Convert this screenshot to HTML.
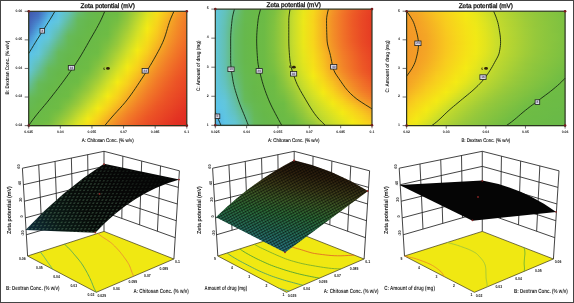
<!DOCTYPE html>
<html><head><meta charset="utf-8"><title>Zeta potential plots</title>
<style>html,body{margin:0;padding:0;background:#fff;}body{width:574px;height:303px;overflow:hidden;font-family:"Liberation Sans",sans-serif;}svg{display:block;will-change:transform;}text{text-rendering:geometricPrecision;-webkit-font-smoothing:antialiased;}</style>
</head><body>
<svg width="574" height="303" viewBox="0 0 574 303" font-family='"Liberation Sans", sans-serif'><defs><linearGradient id="g1"><stop offset="0.000" stop-color="#4158ad"/><stop offset="0.062" stop-color="#446bbd"/><stop offset="0.125" stop-color="#4da4de"/><stop offset="0.188" stop-color="#5dc5e4"/><stop offset="0.250" stop-color="#63c2bc"/><stop offset="0.312" stop-color="#65bc75"/><stop offset="0.375" stop-color="#66b952"/><stop offset="0.438" stop-color="#67b949"/><stop offset="0.500" stop-color="#6bba46"/><stop offset="0.562" stop-color="#6ebc44"/><stop offset="0.625" stop-color="#8ac53e"/><stop offset="0.688" stop-color="#afd233"/><stop offset="0.750" stop-color="#d9e223"/><stop offset="0.812" stop-color="#f5e017"/><stop offset="0.875" stop-color="#f7c120"/><stop offset="0.938" stop-color="#f49c26"/><stop offset="1.000" stop-color="#f28128"/></linearGradient><linearGradient id="g2"><stop offset="0.000" stop-color="#415aaf"/><stop offset="0.062" stop-color="#446fbf"/><stop offset="0.125" stop-color="#50aae0"/><stop offset="0.188" stop-color="#5ec5e2"/><stop offset="0.250" stop-color="#63c1b5"/><stop offset="0.312" stop-color="#65bb6d"/><stop offset="0.375" stop-color="#66b951"/><stop offset="0.438" stop-color="#68b949"/><stop offset="0.500" stop-color="#6bba46"/><stop offset="0.562" stop-color="#6ebc44"/><stop offset="0.625" stop-color="#8cc63d"/><stop offset="0.688" stop-color="#b3d432"/><stop offset="0.750" stop-color="#dde321"/><stop offset="0.812" stop-color="#f6dd18"/><stop offset="0.875" stop-color="#f7bd21"/><stop offset="0.938" stop-color="#f49926"/><stop offset="1.000" stop-color="#f27f28"/></linearGradient><linearGradient id="g3"><stop offset="0.000" stop-color="#415cb1"/><stop offset="0.062" stop-color="#4574c3"/><stop offset="0.125" stop-color="#52b1e3"/><stop offset="0.188" stop-color="#5fc5e0"/><stop offset="0.250" stop-color="#64c0ad"/><stop offset="0.312" stop-color="#66bb66"/><stop offset="0.375" stop-color="#66b950"/><stop offset="0.438" stop-color="#68b949"/><stop offset="0.500" stop-color="#6bbb46"/><stop offset="0.562" stop-color="#70bd44"/><stop offset="0.625" stop-color="#8fc73c"/><stop offset="0.688" stop-color="#b7d631"/><stop offset="0.750" stop-color="#e0e41f"/><stop offset="0.812" stop-color="#f6db19"/><stop offset="0.875" stop-color="#f6ba21"/><stop offset="0.938" stop-color="#f39727"/><stop offset="1.000" stop-color="#f27c28"/></linearGradient><linearGradient id="g4"><stop offset="0.000" stop-color="#425fb3"/><stop offset="0.062" stop-color="#467ac6"/><stop offset="0.125" stop-color="#55b7e6"/><stop offset="0.188" stop-color="#60c6de"/><stop offset="0.250" stop-color="#64bfa6"/><stop offset="0.312" stop-color="#66ba5e"/><stop offset="0.375" stop-color="#66b94f"/><stop offset="0.438" stop-color="#68b948"/><stop offset="0.500" stop-color="#6bbb46"/><stop offset="0.562" stop-color="#73bd43"/><stop offset="0.625" stop-color="#92c73c"/><stop offset="0.688" stop-color="#bbd730"/><stop offset="0.750" stop-color="#e4e51d"/><stop offset="0.812" stop-color="#f6d81a"/><stop offset="0.875" stop-color="#f6b622"/><stop offset="0.938" stop-color="#f39427"/><stop offset="1.000" stop-color="#f27a28"/></linearGradient><linearGradient id="g5"><stop offset="0.000" stop-color="#4261b5"/><stop offset="0.062" stop-color="#4782cb"/><stop offset="0.125" stop-color="#58bee9"/><stop offset="0.188" stop-color="#61c6dc"/><stop offset="0.250" stop-color="#64be9e"/><stop offset="0.312" stop-color="#66ba59"/><stop offset="0.375" stop-color="#66b84d"/><stop offset="0.438" stop-color="#69b948"/><stop offset="0.500" stop-color="#6cbb46"/><stop offset="0.562" stop-color="#75be42"/><stop offset="0.625" stop-color="#95c83b"/><stop offset="0.688" stop-color="#bed92e"/><stop offset="0.750" stop-color="#e7e61b"/><stop offset="0.812" stop-color="#f7d61b"/><stop offset="0.875" stop-color="#f6b323"/><stop offset="0.938" stop-color="#f39227"/><stop offset="1.000" stop-color="#f27928"/></linearGradient><linearGradient id="g6"><stop offset="0.000" stop-color="#4363b7"/><stop offset="0.062" stop-color="#498ad0"/><stop offset="0.125" stop-color="#5ac4ec"/><stop offset="0.188" stop-color="#62c6d8"/><stop offset="0.250" stop-color="#64bd96"/><stop offset="0.312" stop-color="#66ba58"/><stop offset="0.375" stop-color="#66b84c"/><stop offset="0.438" stop-color="#69b948"/><stop offset="0.500" stop-color="#6cbb45"/><stop offset="0.562" stop-color="#78bf42"/><stop offset="0.625" stop-color="#98c93b"/><stop offset="0.688" stop-color="#c2da2d"/><stop offset="0.750" stop-color="#ebe719"/><stop offset="0.812" stop-color="#f7d41b"/><stop offset="0.875" stop-color="#f5b023"/><stop offset="0.938" stop-color="#f39027"/><stop offset="1.000" stop-color="#f17728"/></linearGradient><linearGradient id="g7"><stop offset="0.000" stop-color="#4366b9"/><stop offset="0.062" stop-color="#4a93d5"/><stop offset="0.125" stop-color="#5bc4e9"/><stop offset="0.188" stop-color="#62c5d0"/><stop offset="0.250" stop-color="#65bd8d"/><stop offset="0.312" stop-color="#66ba57"/><stop offset="0.375" stop-color="#66b84b"/><stop offset="0.438" stop-color="#69ba48"/><stop offset="0.500" stop-color="#6cbb45"/><stop offset="0.562" stop-color="#7bc041"/><stop offset="0.625" stop-color="#9bca3a"/><stop offset="0.688" stop-color="#c6db2c"/><stop offset="0.750" stop-color="#eee817"/><stop offset="0.812" stop-color="#f7d21c"/><stop offset="0.875" stop-color="#f5ae24"/><stop offset="0.938" stop-color="#f38f27"/><stop offset="1.000" stop-color="#f17628"/></linearGradient><linearGradient id="g8"><stop offset="0.000" stop-color="#4368bb"/><stop offset="0.062" stop-color="#4b9cda"/><stop offset="0.125" stop-color="#5cc5e7"/><stop offset="0.188" stop-color="#63c4c8"/><stop offset="0.250" stop-color="#65bc85"/><stop offset="0.312" stop-color="#66b956"/><stop offset="0.375" stop-color="#66b84a"/><stop offset="0.438" stop-color="#6aba47"/><stop offset="0.500" stop-color="#6dbb45"/><stop offset="0.562" stop-color="#7ec140"/><stop offset="0.625" stop-color="#9fcc39"/><stop offset="0.688" stop-color="#c9dd2b"/><stop offset="0.750" stop-color="#f1e916"/><stop offset="0.812" stop-color="#f7d01d"/><stop offset="0.875" stop-color="#f5ab24"/><stop offset="0.938" stop-color="#f38d27"/><stop offset="1.000" stop-color="#f17528"/></linearGradient><linearGradient id="g9"><stop offset="0.000" stop-color="#446bbd"/><stop offset="0.062" stop-color="#4da4de"/><stop offset="0.125" stop-color="#5dc5e5"/><stop offset="0.188" stop-color="#63c2c0"/><stop offset="0.250" stop-color="#65bc7c"/><stop offset="0.312" stop-color="#66b954"/><stop offset="0.375" stop-color="#67b84a"/><stop offset="0.438" stop-color="#6aba47"/><stop offset="0.500" stop-color="#6dbb45"/><stop offset="0.562" stop-color="#81c240"/><stop offset="0.625" stop-color="#a2cd37"/><stop offset="0.688" stop-color="#ccde2a"/><stop offset="0.750" stop-color="#f4ea14"/><stop offset="0.812" stop-color="#f8ce1d"/><stop offset="0.875" stop-color="#f5a925"/><stop offset="0.938" stop-color="#f38b27"/><stop offset="1.000" stop-color="#f17428"/></linearGradient><linearGradient id="g10"><stop offset="0.000" stop-color="#456fc0"/><stop offset="0.062" stop-color="#50abe1"/><stop offset="0.125" stop-color="#5ec5e2"/><stop offset="0.188" stop-color="#63c1b8"/><stop offset="0.250" stop-color="#65bb73"/><stop offset="0.312" stop-color="#66b953"/><stop offset="0.375" stop-color="#67b949"/><stop offset="0.438" stop-color="#6aba47"/><stop offset="0.500" stop-color="#6dbc45"/><stop offset="0.562" stop-color="#84c33f"/><stop offset="0.625" stop-color="#a6cf36"/><stop offset="0.688" stop-color="#cfdf28"/><stop offset="0.750" stop-color="#f4e815"/><stop offset="0.812" stop-color="#f8cc1e"/><stop offset="0.875" stop-color="#f4a725"/><stop offset="0.938" stop-color="#f38a27"/><stop offset="1.000" stop-color="#f17328"/></linearGradient><linearGradient id="g11"><stop offset="0.000" stop-color="#4575c3"/><stop offset="0.062" stop-color="#53b2e4"/><stop offset="0.125" stop-color="#5fc5e0"/><stop offset="0.188" stop-color="#63c0b0"/><stop offset="0.250" stop-color="#66bb6a"/><stop offset="0.312" stop-color="#66b951"/><stop offset="0.375" stop-color="#67b949"/><stop offset="0.438" stop-color="#6bba46"/><stop offset="0.500" stop-color="#6ebc44"/><stop offset="0.562" stop-color="#87c43e"/><stop offset="0.625" stop-color="#aad035"/><stop offset="0.688" stop-color="#d3e026"/><stop offset="0.750" stop-color="#f5e615"/><stop offset="0.812" stop-color="#f8ca1e"/><stop offset="0.875" stop-color="#f4a426"/><stop offset="0.938" stop-color="#f38827"/><stop offset="1.000" stop-color="#f07127"/></linearGradient><linearGradient id="g12"><stop offset="0.000" stop-color="#467cc7"/><stop offset="0.062" stop-color="#56b9e7"/><stop offset="0.125" stop-color="#60c6de"/><stop offset="0.188" stop-color="#64bfa7"/><stop offset="0.250" stop-color="#66ba62"/><stop offset="0.312" stop-color="#66b950"/><stop offset="0.375" stop-color="#68b949"/><stop offset="0.438" stop-color="#6bba46"/><stop offset="0.500" stop-color="#6ebc44"/><stop offset="0.562" stop-color="#8ac53e"/><stop offset="0.625" stop-color="#aed234"/><stop offset="0.688" stop-color="#d6e125"/><stop offset="0.750" stop-color="#f5e316"/><stop offset="0.812" stop-color="#f8c71f"/><stop offset="0.875" stop-color="#f4a126"/><stop offset="0.938" stop-color="#f38727"/><stop offset="1.000" stop-color="#f07027"/></linearGradient><linearGradient id="g13"><stop offset="0.000" stop-color="#4885cc"/><stop offset="0.062" stop-color="#59c0ea"/><stop offset="0.125" stop-color="#61c6dc"/><stop offset="0.188" stop-color="#64be9f"/><stop offset="0.250" stop-color="#66ba5a"/><stop offset="0.312" stop-color="#66b94e"/><stop offset="0.375" stop-color="#68b948"/><stop offset="0.438" stop-color="#6bbb46"/><stop offset="0.500" stop-color="#70bd44"/><stop offset="0.562" stop-color="#8dc63d"/><stop offset="0.625" stop-color="#b2d332"/><stop offset="0.688" stop-color="#d9e223"/><stop offset="0.750" stop-color="#f5e117"/><stop offset="0.812" stop-color="#f7c51f"/><stop offset="0.875" stop-color="#f49f26"/><stop offset="0.938" stop-color="#f28528"/><stop offset="1.000" stop-color="#f06f27"/></linearGradient><linearGradient id="g14"><stop offset="0.000" stop-color="#498dd1"/><stop offset="0.062" stop-color="#5ac4eb"/><stop offset="0.125" stop-color="#62c6d7"/><stop offset="0.188" stop-color="#64bd97"/><stop offset="0.250" stop-color="#66ba59"/><stop offset="0.312" stop-color="#66b84d"/><stop offset="0.375" stop-color="#69b948"/><stop offset="0.438" stop-color="#6cbb46"/><stop offset="0.500" stop-color="#73bd43"/><stop offset="0.562" stop-color="#90c73c"/><stop offset="0.625" stop-color="#b5d531"/><stop offset="0.688" stop-color="#dde321"/><stop offset="0.750" stop-color="#f5df18"/><stop offset="0.812" stop-color="#f7c220"/><stop offset="0.875" stop-color="#f49e26"/><stop offset="0.938" stop-color="#f28328"/><stop offset="1.000" stop-color="#f06e27"/></linearGradient><linearGradient id="g15"><stop offset="0.000" stop-color="#4a96d6"/><stop offset="0.062" stop-color="#5bc4e9"/><stop offset="0.125" stop-color="#62c5cf"/><stop offset="0.188" stop-color="#65bd8e"/><stop offset="0.250" stop-color="#66ba57"/><stop offset="0.312" stop-color="#66b84b"/><stop offset="0.375" stop-color="#69ba48"/><stop offset="0.438" stop-color="#6cbb46"/><stop offset="0.500" stop-color="#76be42"/><stop offset="0.562" stop-color="#93c83c"/><stop offset="0.625" stop-color="#b9d730"/><stop offset="0.688" stop-color="#e0e41f"/><stop offset="0.750" stop-color="#f6dd18"/><stop offset="0.812" stop-color="#f7bf20"/><stop offset="0.875" stop-color="#f49b26"/><stop offset="0.938" stop-color="#f28128"/><stop offset="1.000" stop-color="#f06c27"/></linearGradient><linearGradient id="g16"><stop offset="0.000" stop-color="#4c9edb"/><stop offset="0.062" stop-color="#5cc5e6"/><stop offset="0.125" stop-color="#63c3c8"/><stop offset="0.188" stop-color="#65bc86"/><stop offset="0.250" stop-color="#66ba56"/><stop offset="0.312" stop-color="#66b84a"/><stop offset="0.375" stop-color="#69ba47"/><stop offset="0.438" stop-color="#6cbb45"/><stop offset="0.500" stop-color="#79bf42"/><stop offset="0.562" stop-color="#96c93b"/><stop offset="0.625" stop-color="#bdd82f"/><stop offset="0.688" stop-color="#e4e51d"/><stop offset="0.750" stop-color="#f6da19"/><stop offset="0.812" stop-color="#f6bc21"/><stop offset="0.875" stop-color="#f49926"/><stop offset="0.938" stop-color="#f27f28"/><stop offset="1.000" stop-color="#ef6a27"/></linearGradient><linearGradient id="g17"><stop offset="0.000" stop-color="#4ea5de"/><stop offset="0.062" stop-color="#5dc5e4"/><stop offset="0.125" stop-color="#63c2c0"/><stop offset="0.188" stop-color="#65bc7d"/><stop offset="0.250" stop-color="#66b955"/><stop offset="0.312" stop-color="#66b84a"/><stop offset="0.375" stop-color="#6aba47"/><stop offset="0.438" stop-color="#6dbb45"/><stop offset="0.500" stop-color="#7cc041"/><stop offset="0.562" stop-color="#99ca3a"/><stop offset="0.625" stop-color="#c2da2d"/><stop offset="0.688" stop-color="#e8e61b"/><stop offset="0.750" stop-color="#f6d81a"/><stop offset="0.812" stop-color="#f6b822"/><stop offset="0.875" stop-color="#f39727"/><stop offset="0.938" stop-color="#f27c28"/><stop offset="1.000" stop-color="#ef6927"/></linearGradient><linearGradient id="g18"><stop offset="0.000" stop-color="#51ace1"/><stop offset="0.062" stop-color="#5ec5e2"/><stop offset="0.125" stop-color="#63c1b8"/><stop offset="0.188" stop-color="#65bc75"/><stop offset="0.250" stop-color="#66b953"/><stop offset="0.312" stop-color="#67b849"/><stop offset="0.375" stop-color="#6aba47"/><stop offset="0.438" stop-color="#6dbb45"/><stop offset="0.500" stop-color="#7fc140"/><stop offset="0.562" stop-color="#9ecb39"/><stop offset="0.625" stop-color="#c6db2c"/><stop offset="0.688" stop-color="#ebe719"/><stop offset="0.750" stop-color="#f7d51b"/><stop offset="0.812" stop-color="#f6b522"/><stop offset="0.875" stop-color="#f39427"/><stop offset="0.938" stop-color="#f27a28"/><stop offset="1.000" stop-color="#ef6727"/></linearGradient><linearGradient id="g19"><stop offset="0.000" stop-color="#53b3e4"/><stop offset="0.062" stop-color="#5fc5e0"/><stop offset="0.125" stop-color="#63c0b0"/><stop offset="0.188" stop-color="#65bb6d"/><stop offset="0.250" stop-color="#66b952"/><stop offset="0.312" stop-color="#67b949"/><stop offset="0.375" stop-color="#6aba47"/><stop offset="0.438" stop-color="#6dbc45"/><stop offset="0.500" stop-color="#82c23f"/><stop offset="0.562" stop-color="#a2cd37"/><stop offset="0.625" stop-color="#cadd2b"/><stop offset="0.688" stop-color="#efe917"/><stop offset="0.750" stop-color="#f7d31c"/><stop offset="0.812" stop-color="#f5b123"/><stop offset="0.875" stop-color="#f39127"/><stop offset="0.938" stop-color="#f17828"/><stop offset="1.000" stop-color="#ee6527"/></linearGradient><linearGradient id="g20"><stop offset="0.000" stop-color="#56b9e7"/><stop offset="0.062" stop-color="#60c6de"/><stop offset="0.125" stop-color="#64bfa9"/><stop offset="0.188" stop-color="#66bb64"/><stop offset="0.250" stop-color="#66b950"/><stop offset="0.312" stop-color="#68b949"/><stop offset="0.375" stop-color="#6bba46"/><stop offset="0.438" stop-color="#6ebc44"/><stop offset="0.500" stop-color="#86c43f"/><stop offset="0.562" stop-color="#a6cf36"/><stop offset="0.625" stop-color="#cedf29"/><stop offset="0.688" stop-color="#f4ea14"/><stop offset="0.750" stop-color="#f7d01d"/><stop offset="0.812" stop-color="#f5ad24"/><stop offset="0.875" stop-color="#f38f27"/><stop offset="0.938" stop-color="#f17628"/><stop offset="1.000" stop-color="#ee6327"/></linearGradient><linearGradient id="g21"><stop offset="0.000" stop-color="#58c0ea"/><stop offset="0.062" stop-color="#61c6dc"/><stop offset="0.125" stop-color="#64bea1"/><stop offset="0.188" stop-color="#66ba5c"/><stop offset="0.250" stop-color="#66b94f"/><stop offset="0.312" stop-color="#68b948"/><stop offset="0.375" stop-color="#6bbb46"/><stop offset="0.438" stop-color="#6ebc44"/><stop offset="0.500" stop-color="#89c53e"/><stop offset="0.562" stop-color="#abd135"/><stop offset="0.625" stop-color="#d2e027"/><stop offset="0.688" stop-color="#f4e715"/><stop offset="0.750" stop-color="#f8cd1e"/><stop offset="0.812" stop-color="#f5a925"/><stop offset="0.875" stop-color="#f38c27"/><stop offset="0.938" stop-color="#f17428"/><stop offset="1.000" stop-color="#ee6027"/></linearGradient><linearGradient id="g22"><stop offset="0.000" stop-color="#5ac4eb"/><stop offset="0.062" stop-color="#62c6d9"/><stop offset="0.125" stop-color="#64be99"/><stop offset="0.188" stop-color="#66ba59"/><stop offset="0.250" stop-color="#66b84d"/><stop offset="0.312" stop-color="#68b948"/><stop offset="0.375" stop-color="#6bbb46"/><stop offset="0.438" stop-color="#70bd44"/><stop offset="0.500" stop-color="#8dc63d"/><stop offset="0.562" stop-color="#b0d333"/><stop offset="0.625" stop-color="#d6e124"/><stop offset="0.688" stop-color="#f5e416"/><stop offset="0.750" stop-color="#f8c91f"/><stop offset="0.812" stop-color="#f4a526"/><stop offset="0.875" stop-color="#f38927"/><stop offset="0.938" stop-color="#f07227"/><stop offset="1.000" stop-color="#ee5e27"/></linearGradient><linearGradient id="g23"><stop offset="0.000" stop-color="#5bc4e9"/><stop offset="0.062" stop-color="#62c5d1"/><stop offset="0.125" stop-color="#64bd90"/><stop offset="0.188" stop-color="#66ba58"/><stop offset="0.250" stop-color="#66b84c"/><stop offset="0.312" stop-color="#69b948"/><stop offset="0.375" stop-color="#6cbb46"/><stop offset="0.438" stop-color="#73be43"/><stop offset="0.500" stop-color="#90c73c"/><stop offset="0.562" stop-color="#b4d532"/><stop offset="0.625" stop-color="#dbe222"/><stop offset="0.688" stop-color="#f5e117"/><stop offset="0.750" stop-color="#f7c51f"/><stop offset="0.812" stop-color="#f4a026"/><stop offset="0.875" stop-color="#f38627"/><stop offset="0.938" stop-color="#f07027"/><stop offset="1.000" stop-color="#ed5c26"/></linearGradient><linearGradient id="g24"><stop offset="0.000" stop-color="#5cc5e7"/><stop offset="0.062" stop-color="#63c4c9"/><stop offset="0.125" stop-color="#65bd88"/><stop offset="0.188" stop-color="#66ba56"/><stop offset="0.250" stop-color="#66b84a"/><stop offset="0.312" stop-color="#69ba48"/><stop offset="0.375" stop-color="#6cbb45"/><stop offset="0.438" stop-color="#76bf42"/><stop offset="0.500" stop-color="#94c83b"/><stop offset="0.562" stop-color="#b9d630"/><stop offset="0.625" stop-color="#dfe41f"/><stop offset="0.688" stop-color="#f6de18"/><stop offset="0.750" stop-color="#f7c120"/><stop offset="0.812" stop-color="#f49d26"/><stop offset="0.875" stop-color="#f28328"/><stop offset="0.938" stop-color="#f06d27"/><stop offset="1.000" stop-color="#ed5a26"/></linearGradient><linearGradient id="g25"><stop offset="0.000" stop-color="#5dc5e5"/><stop offset="0.062" stop-color="#63c3c2"/><stop offset="0.125" stop-color="#65bc7f"/><stop offset="0.188" stop-color="#66b955"/><stop offset="0.250" stop-color="#66b84a"/><stop offset="0.312" stop-color="#6aba47"/><stop offset="0.375" stop-color="#6cbb45"/><stop offset="0.438" stop-color="#7ac041"/><stop offset="0.500" stop-color="#97c93b"/><stop offset="0.562" stop-color="#bed82f"/><stop offset="0.625" stop-color="#e4e51d"/><stop offset="0.688" stop-color="#f6db19"/><stop offset="0.750" stop-color="#f7bd21"/><stop offset="0.812" stop-color="#f49a26"/><stop offset="0.875" stop-color="#f28028"/><stop offset="0.938" stop-color="#ef6b27"/><stop offset="1.000" stop-color="#ed5826"/></linearGradient><linearGradient id="g26"><stop offset="0.000" stop-color="#5ec5e3"/><stop offset="0.062" stop-color="#63c2ba"/><stop offset="0.125" stop-color="#65bc77"/><stop offset="0.188" stop-color="#66b954"/><stop offset="0.250" stop-color="#67b849"/><stop offset="0.312" stop-color="#6aba47"/><stop offset="0.375" stop-color="#6dbb45"/><stop offset="0.438" stop-color="#7ec140"/><stop offset="0.500" stop-color="#9bca3a"/><stop offset="0.562" stop-color="#c3da2d"/><stop offset="0.625" stop-color="#e8e61a"/><stop offset="0.688" stop-color="#f6d81a"/><stop offset="0.750" stop-color="#f6b922"/><stop offset="0.812" stop-color="#f39727"/><stop offset="0.875" stop-color="#f27d28"/><stop offset="0.938" stop-color="#ef6927"/><stop offset="1.000" stop-color="#ec5626"/></linearGradient><linearGradient id="g27"><stop offset="0.000" stop-color="#5fc5e0"/><stop offset="0.062" stop-color="#63c0b2"/><stop offset="0.125" stop-color="#65bb6e"/><stop offset="0.188" stop-color="#66b952"/><stop offset="0.250" stop-color="#67b949"/><stop offset="0.312" stop-color="#6aba47"/><stop offset="0.375" stop-color="#6dbc45"/><stop offset="0.438" stop-color="#81c240"/><stop offset="0.500" stop-color="#a0cc38"/><stop offset="0.562" stop-color="#c7dc2b"/><stop offset="0.625" stop-color="#ede818"/><stop offset="0.688" stop-color="#f7d51b"/><stop offset="0.750" stop-color="#f6b422"/><stop offset="0.812" stop-color="#f39427"/><stop offset="0.875" stop-color="#f27a28"/><stop offset="0.938" stop-color="#ef6627"/><stop offset="1.000" stop-color="#ec5426"/></linearGradient><linearGradient id="g28"><stop offset="0.000" stop-color="#60c6de"/><stop offset="0.062" stop-color="#64bfaa"/><stop offset="0.125" stop-color="#66bb65"/><stop offset="0.188" stop-color="#66b950"/><stop offset="0.250" stop-color="#68b949"/><stop offset="0.312" stop-color="#6bba46"/><stop offset="0.375" stop-color="#6ebc44"/><stop offset="0.438" stop-color="#85c33f"/><stop offset="0.500" stop-color="#a5cf36"/><stop offset="0.562" stop-color="#ccde2a"/><stop offset="0.625" stop-color="#f2e915"/><stop offset="0.688" stop-color="#f7d21c"/><stop offset="0.750" stop-color="#f5b023"/><stop offset="0.812" stop-color="#f39127"/><stop offset="0.875" stop-color="#f17828"/><stop offset="0.938" stop-color="#ee6427"/><stop offset="1.000" stop-color="#ec5326"/></linearGradient><linearGradient id="g29"><stop offset="0.000" stop-color="#61c6dc"/><stop offset="0.062" stop-color="#64bea2"/><stop offset="0.125" stop-color="#66ba5c"/><stop offset="0.188" stop-color="#66b94f"/><stop offset="0.250" stop-color="#68b948"/><stop offset="0.312" stop-color="#6bbb46"/><stop offset="0.375" stop-color="#6ebc44"/><stop offset="0.438" stop-color="#89c53e"/><stop offset="0.500" stop-color="#abd135"/><stop offset="0.562" stop-color="#d1e027"/><stop offset="0.625" stop-color="#f4e815"/><stop offset="0.688" stop-color="#f8ce1d"/><stop offset="0.750" stop-color="#f5ac24"/><stop offset="0.812" stop-color="#f38d27"/><stop offset="0.875" stop-color="#f17528"/><stop offset="0.938" stop-color="#ee6227"/><stop offset="1.000" stop-color="#eb5226"/></linearGradient><linearGradient id="g30"><stop offset="0.000" stop-color="#62c6da"/><stop offset="0.062" stop-color="#64be99"/><stop offset="0.125" stop-color="#66ba59"/><stop offset="0.188" stop-color="#66b84d"/><stop offset="0.250" stop-color="#69b948"/><stop offset="0.312" stop-color="#6cbb46"/><stop offset="0.375" stop-color="#71bd43"/><stop offset="0.438" stop-color="#8dc63d"/><stop offset="0.500" stop-color="#b0d333"/><stop offset="0.562" stop-color="#d6e124"/><stop offset="0.625" stop-color="#f5e516"/><stop offset="0.688" stop-color="#f8cb1e"/><stop offset="0.750" stop-color="#f4a725"/><stop offset="0.812" stop-color="#f38a27"/><stop offset="0.875" stop-color="#f17328"/><stop offset="0.938" stop-color="#ee5f27"/><stop offset="1.000" stop-color="#eb5026"/></linearGradient><linearGradient id="g31"><stop offset="0.000" stop-color="#62c5d2"/><stop offset="0.062" stop-color="#64bd90"/><stop offset="0.125" stop-color="#66ba57"/><stop offset="0.188" stop-color="#66b84b"/><stop offset="0.250" stop-color="#69ba48"/><stop offset="0.312" stop-color="#6cbb46"/><stop offset="0.375" stop-color="#74be43"/><stop offset="0.438" stop-color="#91c73c"/><stop offset="0.500" stop-color="#b5d531"/><stop offset="0.562" stop-color="#dbe322"/><stop offset="0.625" stop-color="#f5e117"/><stop offset="0.688" stop-color="#f7c61f"/><stop offset="0.750" stop-color="#f4a126"/><stop offset="0.812" stop-color="#f38727"/><stop offset="0.875" stop-color="#f07027"/><stop offset="0.938" stop-color="#ed5d26"/><stop offset="1.000" stop-color="#eb4f25"/></linearGradient><linearGradient id="g32"><stop offset="0.000" stop-color="#63c4ca"/><stop offset="0.062" stop-color="#65bd86"/><stop offset="0.125" stop-color="#66b956"/><stop offset="0.188" stop-color="#66b84a"/><stop offset="0.250" stop-color="#6aba47"/><stop offset="0.312" stop-color="#6cbb45"/><stop offset="0.375" stop-color="#78bf42"/><stop offset="0.438" stop-color="#95c83b"/><stop offset="0.500" stop-color="#bbd730"/><stop offset="0.562" stop-color="#e0e41f"/><stop offset="0.625" stop-color="#f6de18"/><stop offset="0.688" stop-color="#f7c120"/><stop offset="0.750" stop-color="#f49e26"/><stop offset="0.812" stop-color="#f28328"/><stop offset="0.875" stop-color="#f06e27"/><stop offset="0.938" stop-color="#ed5b26"/><stop offset="1.000" stop-color="#ea4d25"/></linearGradient><linearGradient id="g33"><stop offset="0.000" stop-color="#63c3c1"/><stop offset="0.062" stop-color="#65bc7d"/><stop offset="0.125" stop-color="#66b954"/><stop offset="0.188" stop-color="#67b84a"/><stop offset="0.250" stop-color="#6aba47"/><stop offset="0.312" stop-color="#6dbb45"/><stop offset="0.375" stop-color="#7cc141"/><stop offset="0.438" stop-color="#99ca3a"/><stop offset="0.500" stop-color="#c0d92e"/><stop offset="0.562" stop-color="#e5e61c"/><stop offset="0.625" stop-color="#f6da19"/><stop offset="0.688" stop-color="#f7bd21"/><stop offset="0.750" stop-color="#f49a26"/><stop offset="0.812" stop-color="#f28028"/><stop offset="0.875" stop-color="#ef6b27"/><stop offset="0.938" stop-color="#ed5826"/><stop offset="1.000" stop-color="#ea4c25"/></linearGradient><linearGradient id="g34"><stop offset="0.000" stop-color="#63c1b9"/><stop offset="0.062" stop-color="#65bb73"/><stop offset="0.125" stop-color="#66b953"/><stop offset="0.188" stop-color="#67b949"/><stop offset="0.250" stop-color="#6aba47"/><stop offset="0.312" stop-color="#6dbc45"/><stop offset="0.375" stop-color="#80c240"/><stop offset="0.438" stop-color="#9ecc39"/><stop offset="0.500" stop-color="#c5db2c"/><stop offset="0.562" stop-color="#eae719"/><stop offset="0.625" stop-color="#f7d71a"/><stop offset="0.688" stop-color="#f6b822"/><stop offset="0.750" stop-color="#f39727"/><stop offset="0.812" stop-color="#f27c28"/><stop offset="0.875" stop-color="#ef6827"/><stop offset="0.938" stop-color="#ec5626"/><stop offset="1.000" stop-color="#e94a25"/></linearGradient><linearGradient id="g35"><stop offset="0.000" stop-color="#63c0b0"/><stop offset="0.062" stop-color="#66bb6a"/><stop offset="0.125" stop-color="#66b951"/><stop offset="0.188" stop-color="#68b949"/><stop offset="0.250" stop-color="#6bba46"/><stop offset="0.312" stop-color="#6dbc44"/><stop offset="0.375" stop-color="#85c33f"/><stop offset="0.438" stop-color="#a4ce37"/><stop offset="0.500" stop-color="#cbdd2a"/><stop offset="0.562" stop-color="#efe917"/><stop offset="0.625" stop-color="#f7d31c"/><stop offset="0.688" stop-color="#f6b323"/><stop offset="0.750" stop-color="#f39327"/><stop offset="0.812" stop-color="#f27928"/><stop offset="0.875" stop-color="#ef6627"/><stop offset="0.938" stop-color="#ec5426"/><stop offset="1.000" stop-color="#e94925"/></linearGradient><linearGradient id="g36"><stop offset="0.000" stop-color="#64bfa8"/><stop offset="0.062" stop-color="#66ba60"/><stop offset="0.125" stop-color="#66b94f"/><stop offset="0.188" stop-color="#68b948"/><stop offset="0.250" stop-color="#6bbb46"/><stop offset="0.312" stop-color="#6ebc44"/><stop offset="0.375" stop-color="#89c53e"/><stop offset="0.438" stop-color="#a9d035"/><stop offset="0.500" stop-color="#d0df28"/><stop offset="0.562" stop-color="#f4ea14"/><stop offset="0.625" stop-color="#f7d01d"/><stop offset="0.688" stop-color="#f5af24"/><stop offset="0.750" stop-color="#f39027"/><stop offset="0.812" stop-color="#f17728"/><stop offset="0.875" stop-color="#ee6327"/><stop offset="0.938" stop-color="#ec5226"/><stop offset="1.000" stop-color="#e94725"/></linearGradient><linearGradient id="g37"><stop offset="0.000" stop-color="#64be9f"/><stop offset="0.062" stop-color="#66ba59"/><stop offset="0.125" stop-color="#66b84d"/><stop offset="0.188" stop-color="#69b948"/><stop offset="0.250" stop-color="#6cbb46"/><stop offset="0.312" stop-color="#71bd43"/><stop offset="0.375" stop-color="#8dc63d"/><stop offset="0.438" stop-color="#afd233"/><stop offset="0.500" stop-color="#d5e125"/><stop offset="0.562" stop-color="#f5e615"/><stop offset="0.625" stop-color="#f8cd1e"/><stop offset="0.688" stop-color="#f5aa25"/><stop offset="0.750" stop-color="#f38c27"/><stop offset="0.812" stop-color="#f17428"/><stop offset="0.875" stop-color="#ee6127"/><stop offset="0.938" stop-color="#eb5126"/><stop offset="1.000" stop-color="#e84625"/></linearGradient><linearGradient id="g38"><stop offset="0.000" stop-color="#64bd95"/><stop offset="0.062" stop-color="#66ba58"/><stop offset="0.125" stop-color="#66b84b"/><stop offset="0.188" stop-color="#69ba48"/><stop offset="0.250" stop-color="#6cbb46"/><stop offset="0.312" stop-color="#75be42"/><stop offset="0.375" stop-color="#91c73c"/><stop offset="0.438" stop-color="#b5d531"/><stop offset="0.500" stop-color="#dae222"/><stop offset="0.562" stop-color="#f5e217"/><stop offset="0.625" stop-color="#f8c81f"/><stop offset="0.688" stop-color="#f4a426"/><stop offset="0.750" stop-color="#f38827"/><stop offset="0.812" stop-color="#f07227"/><stop offset="0.875" stop-color="#ee5e27"/><stop offset="0.938" stop-color="#eb5026"/><stop offset="1.000" stop-color="#e84524"/></linearGradient><linearGradient id="g39"><stop offset="0.000" stop-color="#65bd8b"/><stop offset="0.062" stop-color="#66ba56"/><stop offset="0.125" stop-color="#66b84a"/><stop offset="0.188" stop-color="#6aba47"/><stop offset="0.250" stop-color="#6cbb45"/><stop offset="0.312" stop-color="#79bf42"/><stop offset="0.375" stop-color="#95c83b"/><stop offset="0.438" stop-color="#bad730"/><stop offset="0.500" stop-color="#dfe41f"/><stop offset="0.562" stop-color="#f6df18"/><stop offset="0.625" stop-color="#f7c320"/><stop offset="0.688" stop-color="#f49f26"/><stop offset="0.750" stop-color="#f28528"/><stop offset="0.812" stop-color="#f06f27"/><stop offset="0.875" stop-color="#ed5c26"/><stop offset="0.938" stop-color="#ea4e25"/><stop offset="1.000" stop-color="#e84324"/></linearGradient><linearGradient id="g40"><stop offset="0.000" stop-color="#65bc80"/><stop offset="0.062" stop-color="#66b955"/><stop offset="0.125" stop-color="#67b849"/><stop offset="0.188" stop-color="#6aba47"/><stop offset="0.250" stop-color="#6dbb45"/><stop offset="0.312" stop-color="#7dc141"/><stop offset="0.375" stop-color="#99ca3a"/><stop offset="0.438" stop-color="#c0d92e"/><stop offset="0.500" stop-color="#e4e51d"/><stop offset="0.562" stop-color="#f6db19"/><stop offset="0.625" stop-color="#f7be21"/><stop offset="0.688" stop-color="#f49c26"/><stop offset="0.750" stop-color="#f28128"/><stop offset="0.812" stop-color="#f06c27"/><stop offset="0.875" stop-color="#ed5a26"/><stop offset="0.938" stop-color="#ea4d25"/><stop offset="1.000" stop-color="#e74224"/></linearGradient><linearGradient id="g41"><stop offset="0.000" stop-color="#65bc76"/><stop offset="0.062" stop-color="#66b953"/><stop offset="0.125" stop-color="#67b949"/><stop offset="0.188" stop-color="#6bba47"/><stop offset="0.250" stop-color="#6dbc45"/><stop offset="0.312" stop-color="#81c240"/><stop offset="0.375" stop-color="#9fcc38"/><stop offset="0.438" stop-color="#c5db2c"/><stop offset="0.500" stop-color="#eae71a"/><stop offset="0.562" stop-color="#f6d81a"/><stop offset="0.625" stop-color="#f6b922"/><stop offset="0.688" stop-color="#f39827"/><stop offset="0.750" stop-color="#f27e28"/><stop offset="0.812" stop-color="#ef6a27"/><stop offset="0.875" stop-color="#ec5726"/><stop offset="0.938" stop-color="#ea4b25"/><stop offset="1.000" stop-color="#e74024"/></linearGradient><linearGradient id="g42"><stop offset="0.000" stop-color="#66bb6b"/><stop offset="0.062" stop-color="#66b951"/><stop offset="0.125" stop-color="#68b949"/><stop offset="0.188" stop-color="#6bba46"/><stop offset="0.250" stop-color="#6ebc44"/><stop offset="0.312" stop-color="#86c43f"/><stop offset="0.375" stop-color="#a5ce37"/><stop offset="0.438" stop-color="#cbde2a"/><stop offset="0.500" stop-color="#efe917"/><stop offset="0.562" stop-color="#f7d41b"/><stop offset="0.625" stop-color="#f6b422"/><stop offset="0.688" stop-color="#f39427"/><stop offset="0.750" stop-color="#f27a28"/><stop offset="0.812" stop-color="#ef6727"/><stop offset="0.875" stop-color="#ec5526"/><stop offset="0.938" stop-color="#e94925"/><stop offset="1.000" stop-color="#e63e24"/></linearGradient><linearGradient id="g43"><stop offset="0.000" stop-color="#66ba61"/><stop offset="0.062" stop-color="#66b94f"/><stop offset="0.125" stop-color="#68b948"/><stop offset="0.188" stop-color="#6bbb46"/><stop offset="0.250" stop-color="#6ebc44"/><stop offset="0.312" stop-color="#8ac53e"/><stop offset="0.375" stop-color="#abd135"/><stop offset="0.438" stop-color="#d0df28"/><stop offset="0.500" stop-color="#f4ea14"/><stop offset="0.562" stop-color="#f7d01d"/><stop offset="0.625" stop-color="#f5af23"/><stop offset="0.688" stop-color="#f39027"/><stop offset="0.750" stop-color="#f17728"/><stop offset="0.812" stop-color="#ee6427"/><stop offset="0.875" stop-color="#ec5326"/><stop offset="0.938" stop-color="#e94825"/><stop offset="1.000" stop-color="#e63d24"/></linearGradient><linearGradient id="g44"><stop offset="0.000" stop-color="#66ba59"/><stop offset="0.062" stop-color="#66b84d"/><stop offset="0.125" stop-color="#69b948"/><stop offset="0.188" stop-color="#6cbb46"/><stop offset="0.250" stop-color="#73bd43"/><stop offset="0.312" stop-color="#8ec63d"/><stop offset="0.375" stop-color="#b1d333"/><stop offset="0.438" stop-color="#d6e125"/><stop offset="0.500" stop-color="#f5e516"/><stop offset="0.562" stop-color="#f8cd1e"/><stop offset="0.625" stop-color="#f5aa24"/><stop offset="0.688" stop-color="#f38c27"/><stop offset="0.750" stop-color="#f17428"/><stop offset="0.812" stop-color="#ee6127"/><stop offset="0.875" stop-color="#eb5126"/><stop offset="0.938" stop-color="#e84625"/><stop offset="1.000" stop-color="#e53b23"/></linearGradient><linearGradient id="g45"><stop offset="0.000" stop-color="#66ba58"/><stop offset="0.062" stop-color="#66b84b"/><stop offset="0.125" stop-color="#6aba47"/><stop offset="0.188" stop-color="#6cbb45"/><stop offset="0.250" stop-color="#77bf42"/><stop offset="0.312" stop-color="#93c83c"/><stop offset="0.375" stop-color="#b7d631"/><stop offset="0.438" stop-color="#dce321"/><stop offset="0.500" stop-color="#f5e117"/><stop offset="0.562" stop-color="#f8c71f"/><stop offset="0.625" stop-color="#f4a426"/><stop offset="0.688" stop-color="#f38827"/><stop offset="0.750" stop-color="#f07127"/><stop offset="0.812" stop-color="#ee5e27"/><stop offset="0.875" stop-color="#eb4f26"/><stop offset="0.938" stop-color="#e84424"/><stop offset="1.000" stop-color="#e53923"/></linearGradient><linearGradient id="g46"><stop offset="0.000" stop-color="#66b956"/><stop offset="0.062" stop-color="#66b84a"/><stop offset="0.125" stop-color="#6aba47"/><stop offset="0.188" stop-color="#6dbb45"/><stop offset="0.250" stop-color="#7bc041"/><stop offset="0.312" stop-color="#98c93b"/><stop offset="0.375" stop-color="#bdd82f"/><stop offset="0.438" stop-color="#e2e41e"/><stop offset="0.500" stop-color="#f6dd18"/><stop offset="0.562" stop-color="#f7c220"/><stop offset="0.625" stop-color="#f49e26"/><stop offset="0.688" stop-color="#f28428"/><stop offset="0.750" stop-color="#f06e27"/><stop offset="0.812" stop-color="#ed5b26"/><stop offset="0.875" stop-color="#ea4e25"/><stop offset="0.938" stop-color="#e74324"/><stop offset="1.000" stop-color="#e53823"/></linearGradient><linearGradient id="g47"><stop offset="0.000" stop-color="#66b954"/><stop offset="0.062" stop-color="#67b949"/><stop offset="0.125" stop-color="#6aba47"/><stop offset="0.188" stop-color="#6dbc45"/><stop offset="0.250" stop-color="#80c240"/><stop offset="0.312" stop-color="#9dcb39"/><stop offset="0.375" stop-color="#c4db2d"/><stop offset="0.438" stop-color="#e8e61b"/><stop offset="0.500" stop-color="#f6d91a"/><stop offset="0.562" stop-color="#f6bc21"/><stop offset="0.625" stop-color="#f49a26"/><stop offset="0.688" stop-color="#f27f28"/><stop offset="0.750" stop-color="#ef6b27"/><stop offset="0.812" stop-color="#ed5826"/><stop offset="0.875" stop-color="#ea4c25"/><stop offset="0.938" stop-color="#e74124"/><stop offset="1.000" stop-color="#e43623"/></linearGradient><linearGradient id="g48"><stop offset="0.000" stop-color="#66b952"/><stop offset="0.062" stop-color="#68b949"/><stop offset="0.125" stop-color="#6bba46"/><stop offset="0.188" stop-color="#6ebc44"/><stop offset="0.250" stop-color="#85c33f"/><stop offset="0.312" stop-color="#a4ce37"/><stop offset="0.375" stop-color="#cadd2b"/><stop offset="0.438" stop-color="#eee817"/><stop offset="0.500" stop-color="#f7d51b"/><stop offset="0.562" stop-color="#f6b622"/><stop offset="0.625" stop-color="#f39527"/><stop offset="0.688" stop-color="#f27b28"/><stop offset="0.750" stop-color="#ef6727"/><stop offset="0.812" stop-color="#ec5526"/><stop offset="0.875" stop-color="#e94a25"/><stop offset="0.938" stop-color="#e63f24"/><stop offset="1.000" stop-color="#e43423"/></linearGradient><linearGradient id="g49"><stop offset="0.000" stop-color="#66b950"/><stop offset="0.062" stop-color="#68b948"/><stop offset="0.125" stop-color="#6bbb46"/><stop offset="0.188" stop-color="#6ebc44"/><stop offset="0.250" stop-color="#8ac53e"/><stop offset="0.312" stop-color="#abd135"/><stop offset="0.375" stop-color="#d0df28"/><stop offset="0.438" stop-color="#f4ea14"/><stop offset="0.500" stop-color="#f7d01d"/><stop offset="0.562" stop-color="#f5af23"/><stop offset="0.625" stop-color="#f39027"/><stop offset="0.688" stop-color="#f17728"/><stop offset="0.750" stop-color="#ee6427"/><stop offset="0.812" stop-color="#ec5326"/><stop offset="0.875" stop-color="#e94825"/><stop offset="0.938" stop-color="#e63d24"/><stop offset="1.000" stop-color="#e33222"/></linearGradient><linearGradient id="g50"><stop offset="0.000" stop-color="#66b84d"/><stop offset="0.062" stop-color="#69b948"/><stop offset="0.125" stop-color="#6cbb46"/><stop offset="0.188" stop-color="#73be43"/><stop offset="0.250" stop-color="#8fc63d"/><stop offset="0.312" stop-color="#b2d332"/><stop offset="0.375" stop-color="#d7e124"/><stop offset="0.438" stop-color="#f5e516"/><stop offset="0.500" stop-color="#f8cb1e"/><stop offset="0.562" stop-color="#f5a925"/><stop offset="0.625" stop-color="#f38b27"/><stop offset="0.688" stop-color="#f17428"/><stop offset="0.750" stop-color="#ee6027"/><stop offset="0.812" stop-color="#eb5126"/><stop offset="0.875" stop-color="#e84624"/><stop offset="0.938" stop-color="#e53b23"/><stop offset="1.000" stop-color="#e33022"/></linearGradient><linearGradient id="g51"><stop offset="0.000" stop-color="#66b84b"/><stop offset="0.062" stop-color="#6aba47"/><stop offset="0.125" stop-color="#6cbb45"/><stop offset="0.188" stop-color="#78bf42"/><stop offset="0.250" stop-color="#94c83b"/><stop offset="0.312" stop-color="#b8d630"/><stop offset="0.375" stop-color="#dde320"/><stop offset="0.438" stop-color="#f5e017"/><stop offset="0.500" stop-color="#f7c51f"/><stop offset="0.562" stop-color="#f4a126"/><stop offset="0.625" stop-color="#f38627"/><stop offset="0.688" stop-color="#f07027"/><stop offset="0.750" stop-color="#ed5d26"/><stop offset="0.812" stop-color="#eb4f25"/><stop offset="0.875" stop-color="#e84424"/><stop offset="0.938" stop-color="#e53923"/><stop offset="1.000" stop-color="#e22f22"/></linearGradient><linearGradient id="g52"><stop offset="0.000" stop-color="#66b84a"/><stop offset="0.062" stop-color="#6aba47"/><stop offset="0.125" stop-color="#6dbb45"/><stop offset="0.188" stop-color="#7cc141"/><stop offset="0.250" stop-color="#99ca3a"/><stop offset="0.312" stop-color="#bfd92e"/><stop offset="0.375" stop-color="#e4e51d"/><stop offset="0.438" stop-color="#f6db19"/><stop offset="0.500" stop-color="#f7bf21"/><stop offset="0.562" stop-color="#f49c26"/><stop offset="0.625" stop-color="#f28128"/><stop offset="0.688" stop-color="#f06c27"/><stop offset="0.750" stop-color="#ed5a26"/><stop offset="0.812" stop-color="#ea4d25"/><stop offset="0.875" stop-color="#e74224"/><stop offset="0.938" stop-color="#e43723"/><stop offset="1.000" stop-color="#e22e22"/></linearGradient><linearGradient id="g53"><stop offset="0.000" stop-color="#67b849"/><stop offset="0.062" stop-color="#6aba47"/><stop offset="0.125" stop-color="#6dbc45"/><stop offset="0.188" stop-color="#81c240"/><stop offset="0.250" stop-color="#9fcc38"/><stop offset="0.312" stop-color="#c6db2c"/><stop offset="0.375" stop-color="#eae719"/><stop offset="0.438" stop-color="#f7d71a"/><stop offset="0.500" stop-color="#f6b822"/><stop offset="0.562" stop-color="#f39727"/><stop offset="0.625" stop-color="#f27d28"/><stop offset="0.688" stop-color="#ef6927"/><stop offset="0.750" stop-color="#ec5626"/><stop offset="0.812" stop-color="#ea4b25"/><stop offset="0.875" stop-color="#e74024"/><stop offset="0.938" stop-color="#e43523"/><stop offset="1.000" stop-color="#e22e22"/></linearGradient><linearGradient id="g54"><stop offset="0.000" stop-color="#68b949"/><stop offset="0.062" stop-color="#6bba46"/><stop offset="0.125" stop-color="#6ebc44"/><stop offset="0.188" stop-color="#86c43f"/><stop offset="0.250" stop-color="#a5cf36"/><stop offset="0.312" stop-color="#ccde2a"/><stop offset="0.375" stop-color="#f1e916"/><stop offset="0.438" stop-color="#f7d31c"/><stop offset="0.500" stop-color="#f6b223"/><stop offset="0.562" stop-color="#f39227"/><stop offset="0.625" stop-color="#f27928"/><stop offset="0.688" stop-color="#ef6527"/><stop offset="0.750" stop-color="#ec5426"/><stop offset="0.812" stop-color="#e94925"/><stop offset="0.875" stop-color="#e63e24"/><stop offset="0.938" stop-color="#e33322"/><stop offset="1.000" stop-color="#e22d22"/></linearGradient><linearGradient id="g55"><stop offset="0.000" stop-color="#68b948"/><stop offset="0.062" stop-color="#6bbb46"/><stop offset="0.125" stop-color="#6ebc44"/><stop offset="0.188" stop-color="#8ac53e"/><stop offset="0.250" stop-color="#acd134"/><stop offset="0.312" stop-color="#d2e027"/><stop offset="0.375" stop-color="#f4e815"/><stop offset="0.438" stop-color="#f8ce1d"/><stop offset="0.500" stop-color="#f5ac24"/><stop offset="0.562" stop-color="#f38e27"/><stop offset="0.625" stop-color="#f17628"/><stop offset="0.688" stop-color="#ee6227"/><stop offset="0.750" stop-color="#eb5226"/><stop offset="0.812" stop-color="#e94725"/><stop offset="0.875" stop-color="#e63c23"/><stop offset="0.938" stop-color="#e33122"/><stop offset="1.000" stop-color="#e22d22"/></linearGradient><linearGradient id="g56"><stop offset="0.000" stop-color="#69b948"/><stop offset="0.062" stop-color="#6cbb46"/><stop offset="0.125" stop-color="#72bd43"/><stop offset="0.188" stop-color="#8fc63d"/><stop offset="0.250" stop-color="#b2d432"/><stop offset="0.312" stop-color="#d8e224"/><stop offset="0.375" stop-color="#f5e416"/><stop offset="0.438" stop-color="#f8ca1e"/><stop offset="0.500" stop-color="#f4a625"/><stop offset="0.562" stop-color="#f38927"/><stop offset="0.625" stop-color="#f17228"/><stop offset="0.688" stop-color="#ee5f27"/><stop offset="0.750" stop-color="#eb5026"/><stop offset="0.812" stop-color="#e84524"/><stop offset="0.875" stop-color="#e53a23"/><stop offset="0.938" stop-color="#e23022"/><stop offset="1.000" stop-color="#e12c21"/></linearGradient><linearGradient id="g57"><stop offset="0.000" stop-color="#69ba48"/><stop offset="0.062" stop-color="#6cbb45"/><stop offset="0.125" stop-color="#76bf42"/><stop offset="0.188" stop-color="#93c83c"/><stop offset="0.250" stop-color="#b8d630"/><stop offset="0.312" stop-color="#dee320"/><stop offset="0.375" stop-color="#f5df18"/><stop offset="0.438" stop-color="#f7c420"/><stop offset="0.500" stop-color="#f4a026"/><stop offset="0.562" stop-color="#f28528"/><stop offset="0.625" stop-color="#f06f27"/><stop offset="0.688" stop-color="#ed5c26"/><stop offset="0.750" stop-color="#ea4e25"/><stop offset="0.812" stop-color="#e84324"/><stop offset="0.875" stop-color="#e53823"/><stop offset="0.938" stop-color="#e22f22"/><stop offset="1.000" stop-color="#e12c21"/></linearGradient><linearGradient id="g58"><stop offset="0.000" stop-color="#6aba47"/><stop offset="0.062" stop-color="#6cbb45"/><stop offset="0.125" stop-color="#79bf42"/><stop offset="0.188" stop-color="#96c93b"/><stop offset="0.250" stop-color="#bbd72f"/><stop offset="0.312" stop-color="#e1e41f"/><stop offset="0.375" stop-color="#f6dd18"/><stop offset="0.438" stop-color="#f7c020"/><stop offset="0.500" stop-color="#f49d26"/><stop offset="0.562" stop-color="#f28228"/><stop offset="0.625" stop-color="#f06d27"/><stop offset="0.688" stop-color="#ed5a26"/><stop offset="0.750" stop-color="#ea4d25"/><stop offset="0.812" stop-color="#e74224"/><stop offset="0.875" stop-color="#e43723"/><stop offset="0.938" stop-color="#e22e22"/><stop offset="1.000" stop-color="#e12b21"/></linearGradient><linearGradient id="g59"><stop offset="0.000" stop-color="#60c5df"/><stop offset="0.062" stop-color="#63c2bd"/><stop offset="0.125" stop-color="#65bd87"/><stop offset="0.188" stop-color="#66b952"/><stop offset="0.250" stop-color="#68b949"/><stop offset="0.312" stop-color="#6cbb46"/><stop offset="0.375" stop-color="#79c041"/><stop offset="0.438" stop-color="#9bcb3a"/><stop offset="0.500" stop-color="#c5db2c"/><stop offset="0.562" stop-color="#e7e61b"/><stop offset="0.625" stop-color="#f6d91a"/><stop offset="0.688" stop-color="#f6b722"/><stop offset="0.750" stop-color="#f39427"/><stop offset="0.812" stop-color="#f17728"/><stop offset="0.875" stop-color="#ee5f27"/><stop offset="0.938" stop-color="#ea4c25"/><stop offset="1.000" stop-color="#e63e24"/></linearGradient><linearGradient id="g60"><stop offset="0.000" stop-color="#60c5df"/><stop offset="0.062" stop-color="#63c2bb"/><stop offset="0.125" stop-color="#65bc82"/><stop offset="0.188" stop-color="#66b951"/><stop offset="0.250" stop-color="#68b948"/><stop offset="0.312" stop-color="#6cbb46"/><stop offset="0.375" stop-color="#7bc041"/><stop offset="0.438" stop-color="#9dcb39"/><stop offset="0.500" stop-color="#c6dc2c"/><stop offset="0.562" stop-color="#e9e71a"/><stop offset="0.625" stop-color="#f6d71a"/><stop offset="0.688" stop-color="#f6b522"/><stop offset="0.750" stop-color="#f39227"/><stop offset="0.812" stop-color="#f17628"/><stop offset="0.875" stop-color="#ed5e26"/><stop offset="0.938" stop-color="#ea4b25"/><stop offset="1.000" stop-color="#e63d24"/></linearGradient><linearGradient id="g61"><stop offset="0.000" stop-color="#60c6de"/><stop offset="0.062" stop-color="#63c1b9"/><stop offset="0.125" stop-color="#65bc7d"/><stop offset="0.188" stop-color="#66b950"/><stop offset="0.250" stop-color="#68b948"/><stop offset="0.312" stop-color="#6cbb45"/><stop offset="0.375" stop-color="#7cc041"/><stop offset="0.438" stop-color="#9fcc38"/><stop offset="0.500" stop-color="#c7dc2b"/><stop offset="0.562" stop-color="#eae71a"/><stop offset="0.625" stop-color="#f7d61b"/><stop offset="0.688" stop-color="#f6b323"/><stop offset="0.750" stop-color="#f39127"/><stop offset="0.812" stop-color="#f17428"/><stop offset="0.875" stop-color="#ed5c26"/><stop offset="0.938" stop-color="#e94a25"/><stop offset="1.000" stop-color="#e63c23"/></linearGradient><linearGradient id="g62"><stop offset="0.000" stop-color="#60c6de"/><stop offset="0.062" stop-color="#63c1b7"/><stop offset="0.125" stop-color="#65bc78"/><stop offset="0.188" stop-color="#66b950"/><stop offset="0.250" stop-color="#69b948"/><stop offset="0.312" stop-color="#6cbb45"/><stop offset="0.375" stop-color="#7dc141"/><stop offset="0.438" stop-color="#a0cc38"/><stop offset="0.500" stop-color="#c8dd2b"/><stop offset="0.562" stop-color="#ebe719"/><stop offset="0.625" stop-color="#f7d51b"/><stop offset="0.688" stop-color="#f5b223"/><stop offset="0.750" stop-color="#f38f27"/><stop offset="0.812" stop-color="#f17328"/><stop offset="0.875" stop-color="#ed5b26"/><stop offset="0.938" stop-color="#e94925"/><stop offset="1.000" stop-color="#e53b23"/></linearGradient><linearGradient id="g63"><stop offset="0.000" stop-color="#61c6dd"/><stop offset="0.062" stop-color="#63c1b5"/><stop offset="0.125" stop-color="#65bc75"/><stop offset="0.188" stop-color="#66b94f"/><stop offset="0.250" stop-color="#69b948"/><stop offset="0.312" stop-color="#6cbb45"/><stop offset="0.375" stop-color="#7ec140"/><stop offset="0.438" stop-color="#a1cd38"/><stop offset="0.500" stop-color="#c9dd2b"/><stop offset="0.562" stop-color="#ebe719"/><stop offset="0.625" stop-color="#f7d51b"/><stop offset="0.688" stop-color="#f5b123"/><stop offset="0.750" stop-color="#f38e27"/><stop offset="0.812" stop-color="#f17328"/><stop offset="0.875" stop-color="#ed5b26"/><stop offset="0.938" stop-color="#e94825"/><stop offset="1.000" stop-color="#e53b23"/></linearGradient><linearGradient id="g64"><stop offset="0.000" stop-color="#61c6dd"/><stop offset="0.062" stop-color="#63c1b4"/><stop offset="0.125" stop-color="#65bb72"/><stop offset="0.188" stop-color="#66b94f"/><stop offset="0.250" stop-color="#69b948"/><stop offset="0.312" stop-color="#6cbb45"/><stop offset="0.375" stop-color="#7fc140"/><stop offset="0.438" stop-color="#a2cd38"/><stop offset="0.500" stop-color="#c9dd2b"/><stop offset="0.562" stop-color="#ece819"/><stop offset="0.625" stop-color="#f7d41b"/><stop offset="0.688" stop-color="#f5b023"/><stop offset="0.750" stop-color="#f38e27"/><stop offset="0.812" stop-color="#f17328"/><stop offset="0.875" stop-color="#ed5a26"/><stop offset="0.938" stop-color="#e94825"/><stop offset="1.000" stop-color="#e53a23"/></linearGradient><linearGradient id="g65"><stop offset="0.000" stop-color="#61c6dd"/><stop offset="0.062" stop-color="#63c1b3"/><stop offset="0.125" stop-color="#65bb70"/><stop offset="0.188" stop-color="#66b94e"/><stop offset="0.250" stop-color="#69b948"/><stop offset="0.312" stop-color="#6cbb45"/><stop offset="0.375" stop-color="#7fc140"/><stop offset="0.438" stop-color="#a2cd38"/><stop offset="0.500" stop-color="#c9dd2b"/><stop offset="0.562" stop-color="#ece819"/><stop offset="0.625" stop-color="#f7d41b"/><stop offset="0.688" stop-color="#f5b023"/><stop offset="0.750" stop-color="#f38e27"/><stop offset="0.812" stop-color="#f17328"/><stop offset="0.875" stop-color="#ed5a26"/><stop offset="0.938" stop-color="#e94825"/><stop offset="1.000" stop-color="#e53b23"/></linearGradient><linearGradient id="g66"><stop offset="0.000" stop-color="#61c6dd"/><stop offset="0.062" stop-color="#63c1b2"/><stop offset="0.125" stop-color="#65bb6e"/><stop offset="0.188" stop-color="#66b84e"/><stop offset="0.250" stop-color="#69ba48"/><stop offset="0.312" stop-color="#6dbb45"/><stop offset="0.375" stop-color="#7fc240"/><stop offset="0.438" stop-color="#a2cd37"/><stop offset="0.500" stop-color="#c9dd2b"/><stop offset="0.562" stop-color="#ece819"/><stop offset="0.625" stop-color="#f7d51b"/><stop offset="0.688" stop-color="#f5b023"/><stop offset="0.750" stop-color="#f38e27"/><stop offset="0.812" stop-color="#f17328"/><stop offset="0.875" stop-color="#ed5a26"/><stop offset="0.938" stop-color="#e94825"/><stop offset="1.000" stop-color="#e53b23"/></linearGradient><linearGradient id="g67"><stop offset="0.000" stop-color="#61c6dc"/><stop offset="0.062" stop-color="#63c0b1"/><stop offset="0.125" stop-color="#65bb6c"/><stop offset="0.188" stop-color="#66b84e"/><stop offset="0.250" stop-color="#69ba48"/><stop offset="0.312" stop-color="#6dbb45"/><stop offset="0.375" stop-color="#80c240"/><stop offset="0.438" stop-color="#a2cd37"/><stop offset="0.500" stop-color="#c9dd2b"/><stop offset="0.562" stop-color="#ece719"/><stop offset="0.625" stop-color="#f7d51b"/><stop offset="0.688" stop-color="#f5b023"/><stop offset="0.750" stop-color="#f38e27"/><stop offset="0.812" stop-color="#f17328"/><stop offset="0.875" stop-color="#ed5a26"/><stop offset="0.938" stop-color="#e94825"/><stop offset="1.000" stop-color="#e53b23"/></linearGradient><linearGradient id="g68"><stop offset="0.000" stop-color="#61c6dc"/><stop offset="0.062" stop-color="#63c0b0"/><stop offset="0.125" stop-color="#66bb6a"/><stop offset="0.188" stop-color="#66b84d"/><stop offset="0.250" stop-color="#69ba48"/><stop offset="0.312" stop-color="#6dbb45"/><stop offset="0.375" stop-color="#80c240"/><stop offset="0.438" stop-color="#a2cd37"/><stop offset="0.500" stop-color="#c9dd2b"/><stop offset="0.562" stop-color="#ece719"/><stop offset="0.625" stop-color="#f7d51b"/><stop offset="0.688" stop-color="#f5b123"/><stop offset="0.750" stop-color="#f38e27"/><stop offset="0.812" stop-color="#f17328"/><stop offset="0.875" stop-color="#ed5b26"/><stop offset="0.938" stop-color="#e94825"/><stop offset="1.000" stop-color="#e53b23"/></linearGradient><linearGradient id="g69"><stop offset="0.000" stop-color="#61c6dc"/><stop offset="0.062" stop-color="#63c0b0"/><stop offset="0.125" stop-color="#66bb68"/><stop offset="0.188" stop-color="#66b84d"/><stop offset="0.250" stop-color="#69ba48"/><stop offset="0.312" stop-color="#6dbb45"/><stop offset="0.375" stop-color="#80c240"/><stop offset="0.438" stop-color="#a2cd37"/><stop offset="0.500" stop-color="#c9dd2b"/><stop offset="0.562" stop-color="#ece719"/><stop offset="0.625" stop-color="#f7d51b"/><stop offset="0.688" stop-color="#f5b123"/><stop offset="0.750" stop-color="#f38f27"/><stop offset="0.812" stop-color="#f17328"/><stop offset="0.875" stop-color="#ed5b26"/><stop offset="0.938" stop-color="#e94925"/><stop offset="1.000" stop-color="#e53b23"/></linearGradient><linearGradient id="g70"><stop offset="0.000" stop-color="#61c6dc"/><stop offset="0.062" stop-color="#63c0af"/><stop offset="0.125" stop-color="#66bb67"/><stop offset="0.188" stop-color="#66b84d"/><stop offset="0.250" stop-color="#69ba48"/><stop offset="0.312" stop-color="#6dbb45"/><stop offset="0.375" stop-color="#81c240"/><stop offset="0.438" stop-color="#a2cd37"/><stop offset="0.500" stop-color="#c9dd2b"/><stop offset="0.562" stop-color="#ebe719"/><stop offset="0.625" stop-color="#f7d51b"/><stop offset="0.688" stop-color="#f5b123"/><stop offset="0.750" stop-color="#f38f27"/><stop offset="0.812" stop-color="#f17328"/><stop offset="0.875" stop-color="#ed5b26"/><stop offset="0.938" stop-color="#e94925"/><stop offset="1.000" stop-color="#e53b23"/></linearGradient><linearGradient id="g71"><stop offset="0.000" stop-color="#61c6dc"/><stop offset="0.062" stop-color="#64c0ae"/><stop offset="0.125" stop-color="#66bb65"/><stop offset="0.188" stop-color="#66b84d"/><stop offset="0.250" stop-color="#69ba47"/><stop offset="0.312" stop-color="#6dbb45"/><stop offset="0.375" stop-color="#81c240"/><stop offset="0.438" stop-color="#a2cd37"/><stop offset="0.500" stop-color="#c9dd2b"/><stop offset="0.562" stop-color="#ebe719"/><stop offset="0.625" stop-color="#f7d51b"/><stop offset="0.688" stop-color="#f5b123"/><stop offset="0.750" stop-color="#f38f27"/><stop offset="0.812" stop-color="#f17328"/><stop offset="0.875" stop-color="#ed5b26"/><stop offset="0.938" stop-color="#e94925"/><stop offset="1.000" stop-color="#e53b23"/></linearGradient><linearGradient id="g72"><stop offset="0.000" stop-color="#61c6dc"/><stop offset="0.062" stop-color="#64c0ae"/><stop offset="0.125" stop-color="#66bb65"/><stop offset="0.188" stop-color="#66b84d"/><stop offset="0.250" stop-color="#69ba47"/><stop offset="0.312" stop-color="#6dbb45"/><stop offset="0.375" stop-color="#81c240"/><stop offset="0.438" stop-color="#a2cd37"/><stop offset="0.500" stop-color="#c9dd2b"/><stop offset="0.562" stop-color="#ebe719"/><stop offset="0.625" stop-color="#f7d51b"/><stop offset="0.688" stop-color="#f5b123"/><stop offset="0.750" stop-color="#f38f27"/><stop offset="0.812" stop-color="#f17428"/><stop offset="0.875" stop-color="#ed5c26"/><stop offset="0.938" stop-color="#e94925"/><stop offset="1.000" stop-color="#e63b23"/></linearGradient><linearGradient id="g73"><stop offset="0.000" stop-color="#61c6db"/><stop offset="0.062" stop-color="#64c0ae"/><stop offset="0.125" stop-color="#66bb64"/><stop offset="0.188" stop-color="#66b84c"/><stop offset="0.250" stop-color="#69ba47"/><stop offset="0.312" stop-color="#6dbb45"/><stop offset="0.375" stop-color="#81c240"/><stop offset="0.438" stop-color="#a2cd37"/><stop offset="0.500" stop-color="#c9dd2b"/><stop offset="0.562" stop-color="#ebe719"/><stop offset="0.625" stop-color="#f7d51b"/><stop offset="0.688" stop-color="#f5b223"/><stop offset="0.750" stop-color="#f39027"/><stop offset="0.812" stop-color="#f17428"/><stop offset="0.875" stop-color="#ed5c26"/><stop offset="0.938" stop-color="#e94925"/><stop offset="1.000" stop-color="#e63c23"/></linearGradient><linearGradient id="g74"><stop offset="0.000" stop-color="#61c6db"/><stop offset="0.062" stop-color="#64c0ae"/><stop offset="0.125" stop-color="#66bb64"/><stop offset="0.188" stop-color="#66b84c"/><stop offset="0.250" stop-color="#69ba47"/><stop offset="0.312" stop-color="#6dbb45"/><stop offset="0.375" stop-color="#81c240"/><stop offset="0.438" stop-color="#a2cd37"/><stop offset="0.500" stop-color="#c9dd2b"/><stop offset="0.562" stop-color="#ebe719"/><stop offset="0.625" stop-color="#f7d51b"/><stop offset="0.688" stop-color="#f6b223"/><stop offset="0.750" stop-color="#f39027"/><stop offset="0.812" stop-color="#f17428"/><stop offset="0.875" stop-color="#ed5c26"/><stop offset="0.938" stop-color="#e94a25"/><stop offset="1.000" stop-color="#e63c23"/></linearGradient><linearGradient id="g75"><stop offset="0.000" stop-color="#61c6db"/><stop offset="0.062" stop-color="#64c0ae"/><stop offset="0.125" stop-color="#66bb64"/><stop offset="0.188" stop-color="#66b84c"/><stop offset="0.250" stop-color="#69ba47"/><stop offset="0.312" stop-color="#6dbb45"/><stop offset="0.375" stop-color="#81c240"/><stop offset="0.438" stop-color="#a2cd37"/><stop offset="0.500" stop-color="#c9dd2b"/><stop offset="0.562" stop-color="#ebe719"/><stop offset="0.625" stop-color="#f7d61b"/><stop offset="0.688" stop-color="#f6b323"/><stop offset="0.750" stop-color="#f39127"/><stop offset="0.812" stop-color="#f17528"/><stop offset="0.875" stop-color="#ed5d26"/><stop offset="0.938" stop-color="#e94a25"/><stop offset="1.000" stop-color="#e63c24"/></linearGradient><linearGradient id="g76"><stop offset="0.000" stop-color="#61c6db"/><stop offset="0.062" stop-color="#64c0ae"/><stop offset="0.125" stop-color="#66bb64"/><stop offset="0.188" stop-color="#66b84c"/><stop offset="0.250" stop-color="#69ba47"/><stop offset="0.312" stop-color="#6dbb45"/><stop offset="0.375" stop-color="#81c240"/><stop offset="0.438" stop-color="#a2cd37"/><stop offset="0.500" stop-color="#c9dd2b"/><stop offset="0.562" stop-color="#eae719"/><stop offset="0.625" stop-color="#f7d61b"/><stop offset="0.688" stop-color="#f6b423"/><stop offset="0.750" stop-color="#f39227"/><stop offset="0.812" stop-color="#f17628"/><stop offset="0.875" stop-color="#ee5e27"/><stop offset="0.938" stop-color="#ea4b25"/><stop offset="1.000" stop-color="#e63d24"/></linearGradient><linearGradient id="g77"><stop offset="0.000" stop-color="#61c6db"/><stop offset="0.062" stop-color="#64c0ae"/><stop offset="0.125" stop-color="#66bb64"/><stop offset="0.188" stop-color="#66b84d"/><stop offset="0.250" stop-color="#69ba47"/><stop offset="0.312" stop-color="#6dbb45"/><stop offset="0.375" stop-color="#81c240"/><stop offset="0.438" stop-color="#a2cd37"/><stop offset="0.500" stop-color="#c8dc2b"/><stop offset="0.562" stop-color="#eae71a"/><stop offset="0.625" stop-color="#f7d71a"/><stop offset="0.688" stop-color="#f6b522"/><stop offset="0.750" stop-color="#f39327"/><stop offset="0.812" stop-color="#f17728"/><stop offset="0.875" stop-color="#ee6027"/><stop offset="0.938" stop-color="#ea4c25"/><stop offset="1.000" stop-color="#e63e24"/></linearGradient><linearGradient id="g78"><stop offset="0.000" stop-color="#61c6db"/><stop offset="0.062" stop-color="#64c0ae"/><stop offset="0.125" stop-color="#66bb64"/><stop offset="0.188" stop-color="#66b84d"/><stop offset="0.250" stop-color="#69ba47"/><stop offset="0.312" stop-color="#6dbb45"/><stop offset="0.375" stop-color="#80c240"/><stop offset="0.438" stop-color="#a2cd38"/><stop offset="0.500" stop-color="#c8dc2b"/><stop offset="0.562" stop-color="#e9e71a"/><stop offset="0.625" stop-color="#f6d81a"/><stop offset="0.688" stop-color="#f6b722"/><stop offset="0.750" stop-color="#f39527"/><stop offset="0.812" stop-color="#f17828"/><stop offset="0.875" stop-color="#ee6227"/><stop offset="0.938" stop-color="#ea4e25"/><stop offset="1.000" stop-color="#e74024"/></linearGradient><linearGradient id="g79"><stop offset="0.000" stop-color="#61c6dc"/><stop offset="0.062" stop-color="#64c0ae"/><stop offset="0.125" stop-color="#66bb64"/><stop offset="0.188" stop-color="#66b84d"/><stop offset="0.250" stop-color="#69ba47"/><stop offset="0.312" stop-color="#6dbb45"/><stop offset="0.375" stop-color="#80c240"/><stop offset="0.438" stop-color="#a1cd38"/><stop offset="0.500" stop-color="#c7dc2c"/><stop offset="0.562" stop-color="#e8e61b"/><stop offset="0.625" stop-color="#f6d91a"/><stop offset="0.688" stop-color="#f6b922"/><stop offset="0.750" stop-color="#f39727"/><stop offset="0.812" stop-color="#f27a28"/><stop offset="0.875" stop-color="#ee6427"/><stop offset="0.938" stop-color="#eb4f25"/><stop offset="1.000" stop-color="#e74124"/></linearGradient><linearGradient id="g80"><stop offset="0.000" stop-color="#61c6dc"/><stop offset="0.062" stop-color="#64c0ae"/><stop offset="0.125" stop-color="#66bb64"/><stop offset="0.188" stop-color="#66b84d"/><stop offset="0.250" stop-color="#69ba48"/><stop offset="0.312" stop-color="#6dbb45"/><stop offset="0.375" stop-color="#80c240"/><stop offset="0.438" stop-color="#a1cd38"/><stop offset="0.500" stop-color="#c7dc2c"/><stop offset="0.562" stop-color="#e7e61b"/><stop offset="0.625" stop-color="#f6da19"/><stop offset="0.688" stop-color="#f6bb21"/><stop offset="0.750" stop-color="#f39827"/><stop offset="0.812" stop-color="#f27c28"/><stop offset="0.875" stop-color="#ef6627"/><stop offset="0.938" stop-color="#eb5026"/><stop offset="1.000" stop-color="#e74224"/></linearGradient><linearGradient id="g81"><stop offset="0.000" stop-color="#61c6dc"/><stop offset="0.062" stop-color="#64c0ae"/><stop offset="0.125" stop-color="#66bb65"/><stop offset="0.188" stop-color="#66b84d"/><stop offset="0.250" stop-color="#69ba48"/><stop offset="0.312" stop-color="#6dbb45"/><stop offset="0.375" stop-color="#7fc140"/><stop offset="0.438" stop-color="#a0cc38"/><stop offset="0.500" stop-color="#c6dc2c"/><stop offset="0.562" stop-color="#e6e61c"/><stop offset="0.625" stop-color="#f6db19"/><stop offset="0.688" stop-color="#f7bd21"/><stop offset="0.750" stop-color="#f49a26"/><stop offset="0.812" stop-color="#f27d28"/><stop offset="0.875" stop-color="#ef6727"/><stop offset="0.938" stop-color="#eb5226"/><stop offset="1.000" stop-color="#e84324"/></linearGradient><linearGradient id="g82"><stop offset="0.000" stop-color="#61c6dc"/><stop offset="0.062" stop-color="#64c0ae"/><stop offset="0.125" stop-color="#66bb65"/><stop offset="0.188" stop-color="#66b84d"/><stop offset="0.250" stop-color="#69ba48"/><stop offset="0.312" stop-color="#6dbb45"/><stop offset="0.375" stop-color="#7fc140"/><stop offset="0.438" stop-color="#9fcc38"/><stop offset="0.500" stop-color="#c5db2c"/><stop offset="0.562" stop-color="#e5e61c"/><stop offset="0.625" stop-color="#f6dc19"/><stop offset="0.688" stop-color="#f7be21"/><stop offset="0.750" stop-color="#f49b26"/><stop offset="0.812" stop-color="#f27f28"/><stop offset="0.875" stop-color="#ef6927"/><stop offset="0.938" stop-color="#ec5326"/><stop offset="1.000" stop-color="#e84424"/></linearGradient><linearGradient id="g83"><stop offset="0.000" stop-color="#61c6dc"/><stop offset="0.062" stop-color="#63c0af"/><stop offset="0.125" stop-color="#66bb65"/><stop offset="0.188" stop-color="#66b84d"/><stop offset="0.250" stop-color="#69ba48"/><stop offset="0.312" stop-color="#6dbb45"/><stop offset="0.375" stop-color="#7ec140"/><stop offset="0.438" stop-color="#9fcc39"/><stop offset="0.500" stop-color="#c5db2c"/><stop offset="0.562" stop-color="#e4e51d"/><stop offset="0.625" stop-color="#f6dd18"/><stop offset="0.688" stop-color="#f7bf20"/><stop offset="0.750" stop-color="#f49d26"/><stop offset="0.812" stop-color="#f28028"/><stop offset="0.875" stop-color="#ef6a27"/><stop offset="0.938" stop-color="#ec5426"/><stop offset="1.000" stop-color="#e84524"/></linearGradient><linearGradient id="g84"><stop offset="0.000" stop-color="#61c6dc"/><stop offset="0.062" stop-color="#63c0af"/><stop offset="0.125" stop-color="#66bb65"/><stop offset="0.188" stop-color="#66b84d"/><stop offset="0.250" stop-color="#69ba48"/><stop offset="0.312" stop-color="#6cbb45"/><stop offset="0.375" stop-color="#7ec140"/><stop offset="0.438" stop-color="#9ecc39"/><stop offset="0.500" stop-color="#c4db2d"/><stop offset="0.562" stop-color="#e4e51d"/><stop offset="0.625" stop-color="#f6de18"/><stop offset="0.688" stop-color="#f7c120"/><stop offset="0.750" stop-color="#f49e26"/><stop offset="0.812" stop-color="#f28228"/><stop offset="0.875" stop-color="#f06b27"/><stop offset="0.938" stop-color="#ec5526"/><stop offset="1.000" stop-color="#e84625"/></linearGradient><linearGradient id="g85"><stop offset="0.000" stop-color="#61c6dd"/><stop offset="0.062" stop-color="#63c0af"/><stop offset="0.125" stop-color="#66bb66"/><stop offset="0.188" stop-color="#66b84d"/><stop offset="0.250" stop-color="#69ba48"/><stop offset="0.312" stop-color="#6cbb45"/><stop offset="0.375" stop-color="#7dc141"/><stop offset="0.438" stop-color="#9dcb39"/><stop offset="0.500" stop-color="#c3da2d"/><stop offset="0.562" stop-color="#e3e51e"/><stop offset="0.625" stop-color="#f6df18"/><stop offset="0.688" stop-color="#f7c220"/><stop offset="0.750" stop-color="#f49f26"/><stop offset="0.812" stop-color="#f28328"/><stop offset="0.875" stop-color="#f06c27"/><stop offset="0.938" stop-color="#ec5626"/><stop offset="1.000" stop-color="#e94725"/></linearGradient><linearGradient id="g86"><stop offset="0.000" stop-color="#61c6dd"/><stop offset="0.062" stop-color="#63c0b0"/><stop offset="0.125" stop-color="#66bb67"/><stop offset="0.188" stop-color="#66b84e"/><stop offset="0.250" stop-color="#69b948"/><stop offset="0.312" stop-color="#6cbb45"/><stop offset="0.375" stop-color="#7cc041"/><stop offset="0.438" stop-color="#9bcb3a"/><stop offset="0.500" stop-color="#c2da2d"/><stop offset="0.562" stop-color="#e1e41e"/><stop offset="0.625" stop-color="#f5e017"/><stop offset="0.688" stop-color="#f7c420"/><stop offset="0.750" stop-color="#f4a026"/><stop offset="0.812" stop-color="#f28428"/><stop offset="0.875" stop-color="#f06d27"/><stop offset="0.938" stop-color="#ec5726"/><stop offset="1.000" stop-color="#e94825"/></linearGradient><linearGradient id="g87"><stop offset="0.000" stop-color="#61c6dd"/><stop offset="0.062" stop-color="#63c0b1"/><stop offset="0.125" stop-color="#66bb69"/><stop offset="0.188" stop-color="#66b94e"/><stop offset="0.250" stop-color="#69b948"/><stop offset="0.312" stop-color="#6cbb45"/><stop offset="0.375" stop-color="#7bc041"/><stop offset="0.438" stop-color="#9aca3a"/><stop offset="0.500" stop-color="#c1d92e"/><stop offset="0.562" stop-color="#e0e41f"/><stop offset="0.625" stop-color="#f5e117"/><stop offset="0.688" stop-color="#f7c51f"/><stop offset="0.750" stop-color="#f4a126"/><stop offset="0.812" stop-color="#f28528"/><stop offset="0.875" stop-color="#f06e27"/><stop offset="0.938" stop-color="#ed5826"/><stop offset="1.000" stop-color="#e94825"/></linearGradient><linearGradient id="g88"><stop offset="0.000" stop-color="#60c6de"/><stop offset="0.062" stop-color="#63c0b2"/><stop offset="0.125" stop-color="#66bb6b"/><stop offset="0.188" stop-color="#66b94e"/><stop offset="0.250" stop-color="#69b948"/><stop offset="0.312" stop-color="#6cbb45"/><stop offset="0.375" stop-color="#79c041"/><stop offset="0.438" stop-color="#98c93a"/><stop offset="0.500" stop-color="#bfd92e"/><stop offset="0.562" stop-color="#dee420"/><stop offset="0.625" stop-color="#f5e217"/><stop offset="0.688" stop-color="#f8c71f"/><stop offset="0.750" stop-color="#f4a326"/><stop offset="0.812" stop-color="#f38727"/><stop offset="0.875" stop-color="#f06f27"/><stop offset="0.938" stop-color="#ed5926"/><stop offset="1.000" stop-color="#e94925"/></linearGradient><linearGradient id="g89"><stop offset="0.000" stop-color="#60c6de"/><stop offset="0.062" stop-color="#63c1b3"/><stop offset="0.125" stop-color="#65bb6d"/><stop offset="0.188" stop-color="#66b94f"/><stop offset="0.250" stop-color="#68b948"/><stop offset="0.312" stop-color="#6cbb46"/><stop offset="0.375" stop-color="#78bf42"/><stop offset="0.438" stop-color="#96c93b"/><stop offset="0.500" stop-color="#bdd82f"/><stop offset="0.562" stop-color="#dde321"/><stop offset="0.625" stop-color="#f5e416"/><stop offset="0.688" stop-color="#f8c91f"/><stop offset="0.750" stop-color="#f4a625"/><stop offset="0.812" stop-color="#f38927"/><stop offset="0.875" stop-color="#f07127"/><stop offset="0.938" stop-color="#ed5b26"/><stop offset="1.000" stop-color="#e94a25"/></linearGradient><linearGradient id="g90"><stop offset="0.000" stop-color="#60c6de"/><stop offset="0.062" stop-color="#63c1b5"/><stop offset="0.125" stop-color="#65bb70"/><stop offset="0.188" stop-color="#66b94f"/><stop offset="0.250" stop-color="#68b948"/><stop offset="0.312" stop-color="#6cbb46"/><stop offset="0.375" stop-color="#76bf42"/><stop offset="0.438" stop-color="#95c83b"/><stop offset="0.500" stop-color="#bbd72f"/><stop offset="0.562" stop-color="#dae222"/><stop offset="0.625" stop-color="#f5e615"/><stop offset="0.688" stop-color="#f8cc1e"/><stop offset="0.750" stop-color="#f5a925"/><stop offset="0.812" stop-color="#f38b27"/><stop offset="0.875" stop-color="#f17328"/><stop offset="0.938" stop-color="#ed5d26"/><stop offset="1.000" stop-color="#ea4c25"/></linearGradient><linearGradient id="g91"><stop offset="0.000" stop-color="#60c5df"/><stop offset="0.062" stop-color="#63c1b7"/><stop offset="0.125" stop-color="#65bb73"/><stop offset="0.188" stop-color="#66b950"/><stop offset="0.250" stop-color="#68b948"/><stop offset="0.312" stop-color="#6cbb46"/><stop offset="0.375" stop-color="#74be43"/><stop offset="0.438" stop-color="#93c83c"/><stop offset="0.500" stop-color="#b9d630"/><stop offset="0.562" stop-color="#d8e223"/><stop offset="0.625" stop-color="#f4e815"/><stop offset="0.688" stop-color="#f8cf1d"/><stop offset="0.750" stop-color="#f5ad24"/><stop offset="0.812" stop-color="#f38f27"/><stop offset="0.875" stop-color="#f17628"/><stop offset="0.938" stop-color="#ee6027"/><stop offset="1.000" stop-color="#ea4e25"/></linearGradient><linearGradient id="g92"><stop offset="0.000" stop-color="#60c5df"/><stop offset="0.062" stop-color="#63c1b8"/><stop offset="0.125" stop-color="#65bc76"/><stop offset="0.188" stop-color="#66b951"/><stop offset="0.250" stop-color="#68b949"/><stop offset="0.312" stop-color="#6bbb46"/><stop offset="0.375" stop-color="#72bd43"/><stop offset="0.438" stop-color="#91c73c"/><stop offset="0.500" stop-color="#b7d531"/><stop offset="0.562" stop-color="#d5e125"/><stop offset="0.625" stop-color="#f3ea14"/><stop offset="0.688" stop-color="#f7d21c"/><stop offset="0.750" stop-color="#f5b123"/><stop offset="0.812" stop-color="#f39327"/><stop offset="0.875" stop-color="#f27928"/><stop offset="0.938" stop-color="#ee6427"/><stop offset="1.000" stop-color="#eb5126"/></linearGradient><linearGradient id="g93"><stop offset="0.000" stop-color="#5fc5e0"/><stop offset="0.062" stop-color="#63c2ba"/><stop offset="0.125" stop-color="#65bc79"/><stop offset="0.188" stop-color="#66b951"/><stop offset="0.250" stop-color="#68b949"/><stop offset="0.312" stop-color="#6bbb46"/><stop offset="0.375" stop-color="#70bd43"/><stop offset="0.438" stop-color="#8fc63d"/><stop offset="0.500" stop-color="#b4d432"/><stop offset="0.562" stop-color="#d3e026"/><stop offset="0.625" stop-color="#f0e916"/><stop offset="0.688" stop-color="#f7d51b"/><stop offset="0.750" stop-color="#f6b622"/><stop offset="0.812" stop-color="#f39727"/><stop offset="0.875" stop-color="#f27c28"/><stop offset="0.938" stop-color="#ef6827"/><stop offset="1.000" stop-color="#ec5326"/></linearGradient><linearGradient id="g94"><stop offset="0.000" stop-color="#5fc5e0"/><stop offset="0.062" stop-color="#63c2bc"/><stop offset="0.125" stop-color="#65bc7c"/><stop offset="0.188" stop-color="#66b952"/><stop offset="0.250" stop-color="#68b949"/><stop offset="0.312" stop-color="#6bbb46"/><stop offset="0.375" stop-color="#6fbc44"/><stop offset="0.438" stop-color="#8dc63d"/><stop offset="0.500" stop-color="#b1d333"/><stop offset="0.562" stop-color="#d0df28"/><stop offset="0.625" stop-color="#ede818"/><stop offset="0.688" stop-color="#f6d71a"/><stop offset="0.750" stop-color="#f6ba21"/><stop offset="0.812" stop-color="#f49b26"/><stop offset="0.875" stop-color="#f28128"/><stop offset="0.938" stop-color="#f06c27"/><stop offset="1.000" stop-color="#ec5726"/></linearGradient><linearGradient id="g95"><stop offset="0.000" stop-color="#5fc5e1"/><stop offset="0.062" stop-color="#63c2be"/><stop offset="0.125" stop-color="#65bc80"/><stop offset="0.188" stop-color="#66b952"/><stop offset="0.250" stop-color="#67b949"/><stop offset="0.312" stop-color="#6bba46"/><stop offset="0.375" stop-color="#6ebc44"/><stop offset="0.438" stop-color="#8ac53e"/><stop offset="0.500" stop-color="#add234"/><stop offset="0.562" stop-color="#cdde29"/><stop offset="0.625" stop-color="#eae719"/><stop offset="0.688" stop-color="#f6da19"/><stop offset="0.750" stop-color="#f7bf21"/><stop offset="0.812" stop-color="#f49f26"/><stop offset="0.875" stop-color="#f28528"/><stop offset="0.938" stop-color="#f06f27"/><stop offset="1.000" stop-color="#ed5b26"/></linearGradient><linearGradient id="g96"><stop offset="0.000" stop-color="#5fc5e1"/><stop offset="0.062" stop-color="#63c2c0"/><stop offset="0.125" stop-color="#65bc83"/><stop offset="0.188" stop-color="#66b953"/><stop offset="0.250" stop-color="#67b949"/><stop offset="0.312" stop-color="#6bba46"/><stop offset="0.375" stop-color="#6ebc44"/><stop offset="0.438" stop-color="#88c43e"/><stop offset="0.500" stop-color="#aad035"/><stop offset="0.562" stop-color="#cbdd2a"/><stop offset="0.625" stop-color="#e7e61b"/><stop offset="0.688" stop-color="#f6dd18"/><stop offset="0.750" stop-color="#f7c320"/><stop offset="0.812" stop-color="#f4a226"/><stop offset="0.875" stop-color="#f38927"/><stop offset="0.938" stop-color="#f17228"/><stop offset="1.000" stop-color="#ee5e27"/></linearGradient><linearGradient id="g97"><stop offset="0.000" stop-color="#5ec5e2"/><stop offset="0.062" stop-color="#63c3c2"/><stop offset="0.125" stop-color="#65bd88"/><stop offset="0.188" stop-color="#66b954"/><stop offset="0.250" stop-color="#67b849"/><stop offset="0.312" stop-color="#6bba47"/><stop offset="0.375" stop-color="#6dbc44"/><stop offset="0.438" stop-color="#86c43f"/><stop offset="0.500" stop-color="#a6cf36"/><stop offset="0.562" stop-color="#c8dc2b"/><stop offset="0.625" stop-color="#e4e51d"/><stop offset="0.688" stop-color="#f5e017"/><stop offset="0.750" stop-color="#f8c71f"/><stop offset="0.812" stop-color="#f4a725"/><stop offset="0.875" stop-color="#f38c27"/><stop offset="0.938" stop-color="#f17528"/><stop offset="1.000" stop-color="#ee6227"/></linearGradient><linearGradient id="g98"><stop offset="0.000" stop-color="#5ec5e3"/><stop offset="0.062" stop-color="#63c3c5"/><stop offset="0.125" stop-color="#65bd8c"/><stop offset="0.188" stop-color="#66b954"/><stop offset="0.250" stop-color="#67b849"/><stop offset="0.312" stop-color="#6aba47"/><stop offset="0.375" stop-color="#6dbc45"/><stop offset="0.438" stop-color="#83c33f"/><stop offset="0.500" stop-color="#a2cd37"/><stop offset="0.562" stop-color="#c5db2c"/><stop offset="0.625" stop-color="#e1e41f"/><stop offset="0.688" stop-color="#f5e316"/><stop offset="0.750" stop-color="#f8cc1e"/><stop offset="0.812" stop-color="#f5ac24"/><stop offset="0.875" stop-color="#f39127"/><stop offset="0.938" stop-color="#f27928"/><stop offset="1.000" stop-color="#ef6627"/></linearGradient><linearGradient id="g99"><stop offset="0.000" stop-color="#5ec5e4"/><stop offset="0.062" stop-color="#63c4c8"/><stop offset="0.125" stop-color="#64bd91"/><stop offset="0.188" stop-color="#66b955"/><stop offset="0.250" stop-color="#67b84a"/><stop offset="0.312" stop-color="#6aba47"/><stop offset="0.375" stop-color="#6dbb45"/><stop offset="0.438" stop-color="#80c240"/><stop offset="0.500" stop-color="#9ecc39"/><stop offset="0.562" stop-color="#c1da2d"/><stop offset="0.625" stop-color="#dde321"/><stop offset="0.688" stop-color="#f5e615"/><stop offset="0.750" stop-color="#f8cf1d"/><stop offset="0.812" stop-color="#f5b123"/><stop offset="0.875" stop-color="#f39527"/><stop offset="0.938" stop-color="#f27c28"/><stop offset="1.000" stop-color="#ef6a27"/></linearGradient><linearGradient id="g100"><stop offset="0.000" stop-color="#5dc5e5"/><stop offset="0.062" stop-color="#63c4cb"/><stop offset="0.125" stop-color="#64bd94"/><stop offset="0.188" stop-color="#66ba56"/><stop offset="0.250" stop-color="#66b84a"/><stop offset="0.312" stop-color="#6aba47"/><stop offset="0.375" stop-color="#6dbb45"/><stop offset="0.438" stop-color="#7ec140"/><stop offset="0.500" stop-color="#9aca3a"/><stop offset="0.562" stop-color="#bed82e"/><stop offset="0.625" stop-color="#d9e223"/><stop offset="0.688" stop-color="#f4e914"/><stop offset="0.750" stop-color="#f7d31c"/><stop offset="0.812" stop-color="#f6b722"/><stop offset="0.875" stop-color="#f49a26"/><stop offset="0.938" stop-color="#f28128"/><stop offset="1.000" stop-color="#f06e27"/></linearGradient><linearGradient id="g101"><stop offset="0.000" stop-color="#5dc5e5"/><stop offset="0.062" stop-color="#62c4cf"/><stop offset="0.125" stop-color="#64be99"/><stop offset="0.188" stop-color="#66ba57"/><stop offset="0.250" stop-color="#66b84a"/><stop offset="0.312" stop-color="#6aba47"/><stop offset="0.375" stop-color="#6dbb45"/><stop offset="0.438" stop-color="#7bc041"/><stop offset="0.500" stop-color="#97c93b"/><stop offset="0.562" stop-color="#bbd72f"/><stop offset="0.625" stop-color="#d6e125"/><stop offset="0.688" stop-color="#f1e916"/><stop offset="0.750" stop-color="#f7d71a"/><stop offset="0.812" stop-color="#f7bd21"/><stop offset="0.875" stop-color="#f49f26"/><stop offset="0.938" stop-color="#f38727"/><stop offset="1.000" stop-color="#f17228"/></linearGradient><linearGradient id="g102"><stop offset="0.000" stop-color="#5dc5e6"/><stop offset="0.062" stop-color="#62c5d2"/><stop offset="0.125" stop-color="#64be9d"/><stop offset="0.188" stop-color="#66ba58"/><stop offset="0.250" stop-color="#66b84b"/><stop offset="0.312" stop-color="#69ba48"/><stop offset="0.375" stop-color="#6cbb45"/><stop offset="0.438" stop-color="#78bf42"/><stop offset="0.500" stop-color="#94c83b"/><stop offset="0.562" stop-color="#b7d631"/><stop offset="0.625" stop-color="#d2e027"/><stop offset="0.688" stop-color="#ece818"/><stop offset="0.750" stop-color="#f6db19"/><stop offset="0.812" stop-color="#f7c320"/><stop offset="0.875" stop-color="#f4a526"/><stop offset="0.938" stop-color="#f38c27"/><stop offset="1.000" stop-color="#f17728"/></linearGradient><linearGradient id="g103"><stop offset="0.000" stop-color="#5cc5e7"/><stop offset="0.062" stop-color="#62c5d5"/><stop offset="0.125" stop-color="#64bea1"/><stop offset="0.188" stop-color="#66ba59"/><stop offset="0.250" stop-color="#66b84c"/><stop offset="0.312" stop-color="#69ba48"/><stop offset="0.375" stop-color="#6cbb45"/><stop offset="0.438" stop-color="#76be42"/><stop offset="0.500" stop-color="#91c73c"/><stop offset="0.562" stop-color="#b3d432"/><stop offset="0.625" stop-color="#cedf29"/><stop offset="0.688" stop-color="#e8e61b"/><stop offset="0.750" stop-color="#f5df18"/><stop offset="0.812" stop-color="#f8c91f"/><stop offset="0.875" stop-color="#f5ac24"/><stop offset="0.938" stop-color="#f39327"/><stop offset="1.000" stop-color="#f27c28"/></linearGradient><linearGradient id="g104"><stop offset="0.000" stop-color="#5cc4e8"/><stop offset="0.062" stop-color="#62c6d9"/><stop offset="0.125" stop-color="#64bfa4"/><stop offset="0.188" stop-color="#66ba5a"/><stop offset="0.250" stop-color="#66b84d"/><stop offset="0.312" stop-color="#69b948"/><stop offset="0.375" stop-color="#6cbb46"/><stop offset="0.438" stop-color="#73be43"/><stop offset="0.500" stop-color="#8ec63d"/><stop offset="0.562" stop-color="#afd233"/><stop offset="0.625" stop-color="#cbdd2a"/><stop offset="0.688" stop-color="#e4e51d"/><stop offset="0.750" stop-color="#f5e316"/><stop offset="0.812" stop-color="#f8cf1d"/><stop offset="0.875" stop-color="#f6b323"/><stop offset="0.938" stop-color="#f49926"/><stop offset="1.000" stop-color="#f28328"/></linearGradient><linearGradient id="g105"><stop offset="0.000" stop-color="#5bc4e9"/><stop offset="0.062" stop-color="#62c6db"/><stop offset="0.125" stop-color="#64bfa8"/><stop offset="0.188" stop-color="#66ba5e"/><stop offset="0.250" stop-color="#66b84e"/><stop offset="0.312" stop-color="#68b948"/><stop offset="0.375" stop-color="#6cbb46"/><stop offset="0.438" stop-color="#70bd43"/><stop offset="0.500" stop-color="#8bc53d"/><stop offset="0.562" stop-color="#aad035"/><stop offset="0.625" stop-color="#c7dc2c"/><stop offset="0.688" stop-color="#dfe41f"/><stop offset="0.750" stop-color="#f4e715"/><stop offset="0.812" stop-color="#f7d41b"/><stop offset="0.875" stop-color="#f6bb21"/><stop offset="0.938" stop-color="#f4a026"/><stop offset="1.000" stop-color="#f38a27"/></linearGradient><linearGradient id="g106"><stop offset="0.000" stop-color="#5bc4ea"/><stop offset="0.062" stop-color="#61c6dc"/><stop offset="0.125" stop-color="#64c0ac"/><stop offset="0.188" stop-color="#66bb65"/><stop offset="0.250" stop-color="#66b94f"/><stop offset="0.312" stop-color="#68b948"/><stop offset="0.375" stop-color="#6bbb46"/><stop offset="0.438" stop-color="#6ebc44"/><stop offset="0.500" stop-color="#88c43e"/><stop offset="0.562" stop-color="#a6cf36"/><stop offset="0.625" stop-color="#c4db2d"/><stop offset="0.688" stop-color="#dbe222"/><stop offset="0.750" stop-color="#f2e915"/><stop offset="0.812" stop-color="#f6d81a"/><stop offset="0.875" stop-color="#f7c320"/><stop offset="0.938" stop-color="#f5a825"/><stop offset="1.000" stop-color="#f39227"/></linearGradient><linearGradient id="g107"><stop offset="0.000" stop-color="#5bc4eb"/><stop offset="0.062" stop-color="#61c6dd"/><stop offset="0.125" stop-color="#63c0b0"/><stop offset="0.188" stop-color="#65bb6c"/><stop offset="0.250" stop-color="#66b950"/><stop offset="0.312" stop-color="#68b949"/><stop offset="0.375" stop-color="#6bbb46"/><stop offset="0.438" stop-color="#6ebc44"/><stop offset="0.500" stop-color="#85c33f"/><stop offset="0.562" stop-color="#a2cd38"/><stop offset="0.625" stop-color="#c1d92e"/><stop offset="0.688" stop-color="#d7e124"/><stop offset="0.750" stop-color="#eee818"/><stop offset="0.812" stop-color="#f6dd18"/><stop offset="0.875" stop-color="#f8ca1e"/><stop offset="0.938" stop-color="#f5b023"/><stop offset="1.000" stop-color="#f49926"/></linearGradient><linearGradient id="g108"><stop offset="0.000" stop-color="#5ac4ec"/><stop offset="0.062" stop-color="#60c6de"/><stop offset="0.125" stop-color="#63c1b4"/><stop offset="0.188" stop-color="#65bb73"/><stop offset="0.250" stop-color="#66b951"/><stop offset="0.312" stop-color="#67b949"/><stop offset="0.375" stop-color="#6bba46"/><stop offset="0.438" stop-color="#6dbc44"/><stop offset="0.500" stop-color="#82c23f"/><stop offset="0.562" stop-color="#9dcb39"/><stop offset="0.625" stop-color="#bdd82f"/><stop offset="0.688" stop-color="#d3e026"/><stop offset="0.750" stop-color="#e9e71a"/><stop offset="0.812" stop-color="#f5e117"/><stop offset="0.875" stop-color="#f8cf1d"/><stop offset="0.938" stop-color="#f6b822"/><stop offset="1.000" stop-color="#f4a026"/></linearGradient><linearGradient id="g109"><stop offset="0.000" stop-color="#59c1eb"/><stop offset="0.062" stop-color="#60c5df"/><stop offset="0.125" stop-color="#63c1b8"/><stop offset="0.188" stop-color="#65bc7a"/><stop offset="0.250" stop-color="#66b952"/><stop offset="0.312" stop-color="#67b949"/><stop offset="0.375" stop-color="#6bba47"/><stop offset="0.438" stop-color="#6dbc45"/><stop offset="0.500" stop-color="#7fc140"/><stop offset="0.562" stop-color="#99ca3a"/><stop offset="0.625" stop-color="#bbd730"/><stop offset="0.688" stop-color="#d0df28"/><stop offset="0.750" stop-color="#e5e51c"/><stop offset="0.812" stop-color="#f5e516"/><stop offset="0.875" stop-color="#f7d41b"/><stop offset="0.938" stop-color="#f7bf21"/><stop offset="1.000" stop-color="#f4a625"/></linearGradient><linearGradient id="g110"><stop offset="0.000" stop-color="#58bee9"/><stop offset="0.062" stop-color="#5fc5e0"/><stop offset="0.125" stop-color="#63c2bc"/><stop offset="0.188" stop-color="#65bc81"/><stop offset="0.250" stop-color="#66b954"/><stop offset="0.312" stop-color="#67b849"/><stop offset="0.375" stop-color="#6aba47"/><stop offset="0.438" stop-color="#6dbb45"/><stop offset="0.500" stop-color="#7cc041"/><stop offset="0.562" stop-color="#96c93b"/><stop offset="0.625" stop-color="#b7d631"/><stop offset="0.688" stop-color="#ccde2a"/><stop offset="0.750" stop-color="#e1e41e"/><stop offset="0.812" stop-color="#f4e914"/><stop offset="0.875" stop-color="#f6d81a"/><stop offset="0.938" stop-color="#f7c51f"/><stop offset="1.000" stop-color="#f5ad24"/></linearGradient><linearGradient id="g111"><stop offset="0.000" stop-color="#56bae8"/><stop offset="0.062" stop-color="#5fc5e1"/><stop offset="0.125" stop-color="#63c2c0"/><stop offset="0.188" stop-color="#65bd88"/><stop offset="0.250" stop-color="#66b955"/><stop offset="0.312" stop-color="#66b84a"/><stop offset="0.375" stop-color="#6aba47"/><stop offset="0.438" stop-color="#6cbb45"/><stop offset="0.500" stop-color="#78bf42"/><stop offset="0.562" stop-color="#92c73c"/><stop offset="0.625" stop-color="#b2d432"/><stop offset="0.688" stop-color="#c9dd2b"/><stop offset="0.750" stop-color="#dde321"/><stop offset="0.812" stop-color="#f2e915"/><stop offset="0.875" stop-color="#f6db19"/><stop offset="0.938" stop-color="#f8ca1e"/><stop offset="1.000" stop-color="#f6b323"/></linearGradient><linearGradient id="g112"><stop offset="0.000" stop-color="#55b7e6"/><stop offset="0.062" stop-color="#5ec5e2"/><stop offset="0.125" stop-color="#63c3c5"/><stop offset="0.188" stop-color="#64bd8f"/><stop offset="0.250" stop-color="#66b956"/><stop offset="0.312" stop-color="#66b84a"/><stop offset="0.375" stop-color="#69ba47"/><stop offset="0.438" stop-color="#6cbb45"/><stop offset="0.500" stop-color="#75be42"/><stop offset="0.562" stop-color="#8fc63d"/><stop offset="0.625" stop-color="#add234"/><stop offset="0.688" stop-color="#c6db2c"/><stop offset="0.750" stop-color="#d9e223"/><stop offset="0.812" stop-color="#ede818"/><stop offset="0.875" stop-color="#f5df18"/><stop offset="0.938" stop-color="#f8cf1d"/><stop offset="1.000" stop-color="#f6b922"/></linearGradient><linearGradient id="g113"><stop offset="0.000" stop-color="#53b3e4"/><stop offset="0.062" stop-color="#5ec5e4"/><stop offset="0.125" stop-color="#63c4c9"/><stop offset="0.188" stop-color="#64bd94"/><stop offset="0.250" stop-color="#66ba57"/><stop offset="0.312" stop-color="#66b84b"/><stop offset="0.375" stop-color="#69ba48"/><stop offset="0.438" stop-color="#6cbb46"/><stop offset="0.500" stop-color="#72bd43"/><stop offset="0.562" stop-color="#8bc53d"/><stop offset="0.625" stop-color="#a7cf36"/><stop offset="0.688" stop-color="#c2da2d"/><stop offset="0.750" stop-color="#d6e125"/><stop offset="0.812" stop-color="#e9e71a"/><stop offset="0.875" stop-color="#f5e217"/><stop offset="0.938" stop-color="#f7d21c"/><stop offset="1.000" stop-color="#f7be21"/></linearGradient><linearGradient id="g114"><stop offset="0.000" stop-color="#52afe3"/><stop offset="0.062" stop-color="#5dc5e5"/><stop offset="0.125" stop-color="#62c4cd"/><stop offset="0.188" stop-color="#64be99"/><stop offset="0.250" stop-color="#66ba58"/><stop offset="0.312" stop-color="#66b84c"/><stop offset="0.375" stop-color="#69b948"/><stop offset="0.438" stop-color="#6cbb46"/><stop offset="0.500" stop-color="#6ebc44"/><stop offset="0.562" stop-color="#87c43e"/><stop offset="0.625" stop-color="#a1cd38"/><stop offset="0.688" stop-color="#bed92e"/><stop offset="0.750" stop-color="#d2e027"/><stop offset="0.812" stop-color="#e5e61c"/><stop offset="0.875" stop-color="#f5e615"/><stop offset="0.938" stop-color="#f7d61b"/><stop offset="1.000" stop-color="#f7c320"/></linearGradient><linearGradient id="g115"><stop offset="0.000" stop-color="#50abe1"/><stop offset="0.062" stop-color="#5dc5e6"/><stop offset="0.125" stop-color="#62c5d2"/><stop offset="0.188" stop-color="#64be9e"/><stop offset="0.250" stop-color="#66ba59"/><stop offset="0.312" stop-color="#66b84d"/><stop offset="0.375" stop-color="#68b948"/><stop offset="0.438" stop-color="#6bbb46"/><stop offset="0.500" stop-color="#6ebc44"/><stop offset="0.562" stop-color="#83c33f"/><stop offset="0.625" stop-color="#9bca3a"/><stop offset="0.688" stop-color="#bad730"/><stop offset="0.750" stop-color="#cedf29"/><stop offset="0.812" stop-color="#e1e41e"/><stop offset="0.875" stop-color="#f4e914"/><stop offset="0.938" stop-color="#f6d91a"/><stop offset="1.000" stop-color="#f8c91f"/></linearGradient><linearGradient id="g116"><stop offset="0.000" stop-color="#4fa8df"/><stop offset="0.062" stop-color="#5cc5e7"/><stop offset="0.125" stop-color="#62c5d6"/><stop offset="0.188" stop-color="#64bea2"/><stop offset="0.250" stop-color="#66ba5a"/><stop offset="0.312" stop-color="#66b94e"/><stop offset="0.375" stop-color="#68b948"/><stop offset="0.438" stop-color="#6bbb46"/><stop offset="0.500" stop-color="#6dbc44"/><stop offset="0.562" stop-color="#7fc140"/><stop offset="0.625" stop-color="#96c93b"/><stop offset="0.688" stop-color="#b5d531"/><stop offset="0.750" stop-color="#cadd2b"/><stop offset="0.812" stop-color="#dde321"/><stop offset="0.875" stop-color="#f0e916"/><stop offset="0.938" stop-color="#f6dd18"/><stop offset="1.000" stop-color="#f8cd1e"/></linearGradient><linearGradient id="g117"><stop offset="0.000" stop-color="#4ea6de"/><stop offset="0.062" stop-color="#5cc4e8"/><stop offset="0.125" stop-color="#62c6d9"/><stop offset="0.188" stop-color="#64bfa5"/><stop offset="0.250" stop-color="#66ba5e"/><stop offset="0.312" stop-color="#66b94f"/><stop offset="0.375" stop-color="#68b949"/><stop offset="0.438" stop-color="#6bba46"/><stop offset="0.500" stop-color="#6dbc45"/><stop offset="0.562" stop-color="#7dc141"/><stop offset="0.625" stop-color="#94c83b"/><stop offset="0.688" stop-color="#b1d333"/><stop offset="0.750" stop-color="#c7dc2c"/><stop offset="0.812" stop-color="#dbe222"/><stop offset="0.875" stop-color="#eee817"/><stop offset="0.938" stop-color="#f5df18"/><stop offset="1.000" stop-color="#f8cf1d"/></linearGradient><linearGradient id="g118"><stop offset="0.000" stop-color="#f49c26"/><stop offset="0.062" stop-color="#f4a625"/><stop offset="0.125" stop-color="#f6b622"/><stop offset="0.188" stop-color="#f7c61f"/><stop offset="0.250" stop-color="#f7d31c"/><stop offset="0.312" stop-color="#f5df18"/><stop offset="0.375" stop-color="#f4ea14"/><stop offset="0.438" stop-color="#e6e61c"/><stop offset="0.500" stop-color="#d3e026"/><stop offset="0.562" stop-color="#c0d92e"/><stop offset="0.625" stop-color="#b4d432"/><stop offset="0.688" stop-color="#a7cf36"/><stop offset="0.750" stop-color="#9bca3a"/><stop offset="0.812" stop-color="#92c73c"/><stop offset="0.875" stop-color="#8ac53e"/><stop offset="0.938" stop-color="#82c33f"/><stop offset="1.000" stop-color="#7bc041"/></linearGradient><linearGradient id="g119"><stop offset="0.000" stop-color="#f49c26"/><stop offset="0.062" stop-color="#f4a426"/><stop offset="0.125" stop-color="#f6b423"/><stop offset="0.188" stop-color="#f7c41f"/><stop offset="0.250" stop-color="#f7d21c"/><stop offset="0.312" stop-color="#f6dd18"/><stop offset="0.375" stop-color="#f4e914"/><stop offset="0.438" stop-color="#e8e61b"/><stop offset="0.500" stop-color="#d4e125"/><stop offset="0.562" stop-color="#c1da2e"/><stop offset="0.625" stop-color="#b5d531"/><stop offset="0.688" stop-color="#a8d035"/><stop offset="0.750" stop-color="#9ccb39"/><stop offset="0.812" stop-color="#92c83c"/><stop offset="0.875" stop-color="#8ac53e"/><stop offset="0.938" stop-color="#83c33f"/><stop offset="1.000" stop-color="#7cc041"/></linearGradient><linearGradient id="g120"><stop offset="0.000" stop-color="#f49b26"/><stop offset="0.062" stop-color="#f4a226"/><stop offset="0.125" stop-color="#f6b223"/><stop offset="0.188" stop-color="#f7c220"/><stop offset="0.250" stop-color="#f7d11c"/><stop offset="0.312" stop-color="#f6dc19"/><stop offset="0.375" stop-color="#f4e815"/><stop offset="0.438" stop-color="#e9e71a"/><stop offset="0.500" stop-color="#d6e124"/><stop offset="0.562" stop-color="#c2da2d"/><stop offset="0.625" stop-color="#b6d531"/><stop offset="0.688" stop-color="#a9d035"/><stop offset="0.750" stop-color="#9dcb39"/><stop offset="0.812" stop-color="#93c83c"/><stop offset="0.875" stop-color="#8bc53d"/><stop offset="0.938" stop-color="#83c33f"/><stop offset="1.000" stop-color="#7cc041"/></linearGradient><linearGradient id="g121"><stop offset="0.000" stop-color="#f49a26"/><stop offset="0.062" stop-color="#f4a126"/><stop offset="0.125" stop-color="#f5b023"/><stop offset="0.188" stop-color="#f7c120"/><stop offset="0.250" stop-color="#f8cf1d"/><stop offset="0.312" stop-color="#f6db19"/><stop offset="0.375" stop-color="#f4e615"/><stop offset="0.438" stop-color="#eae719"/><stop offset="0.500" stop-color="#d8e223"/><stop offset="0.562" stop-color="#c3db2d"/><stop offset="0.625" stop-color="#b6d531"/><stop offset="0.688" stop-color="#aad035"/><stop offset="0.750" stop-color="#9ecb39"/><stop offset="0.812" stop-color="#94c83b"/><stop offset="0.875" stop-color="#8bc53d"/><stop offset="0.938" stop-color="#84c33f"/><stop offset="1.000" stop-color="#7cc141"/></linearGradient><linearGradient id="g122"><stop offset="0.000" stop-color="#f49a26"/><stop offset="0.062" stop-color="#f4a026"/><stop offset="0.125" stop-color="#f5af24"/><stop offset="0.188" stop-color="#f7bf20"/><stop offset="0.250" stop-color="#f8ce1d"/><stop offset="0.312" stop-color="#f6da19"/><stop offset="0.375" stop-color="#f5e615"/><stop offset="0.438" stop-color="#ebe719"/><stop offset="0.500" stop-color="#d9e223"/><stop offset="0.562" stop-color="#c5db2c"/><stop offset="0.625" stop-color="#b7d631"/><stop offset="0.688" stop-color="#abd135"/><stop offset="0.750" stop-color="#9ecc39"/><stop offset="0.812" stop-color="#94c83b"/><stop offset="0.875" stop-color="#8cc53d"/><stop offset="0.938" stop-color="#84c33f"/><stop offset="1.000" stop-color="#7dc141"/></linearGradient><linearGradient id="g123"><stop offset="0.000" stop-color="#f49926"/><stop offset="0.062" stop-color="#f49f26"/><stop offset="0.125" stop-color="#f5ad24"/><stop offset="0.188" stop-color="#f7bd21"/><stop offset="0.250" stop-color="#f8cd1e"/><stop offset="0.312" stop-color="#f6d91a"/><stop offset="0.375" stop-color="#f5e516"/><stop offset="0.438" stop-color="#ece818"/><stop offset="0.500" stop-color="#dbe222"/><stop offset="0.562" stop-color="#c6dc2c"/><stop offset="0.625" stop-color="#b8d630"/><stop offset="0.688" stop-color="#acd134"/><stop offset="0.750" stop-color="#9fcc38"/><stop offset="0.812" stop-color="#95c83b"/><stop offset="0.875" stop-color="#8cc63d"/><stop offset="0.938" stop-color="#85c33f"/><stop offset="1.000" stop-color="#7dc141"/></linearGradient><linearGradient id="g124"><stop offset="0.000" stop-color="#f49926"/><stop offset="0.062" stop-color="#f49e26"/><stop offset="0.125" stop-color="#f5ac24"/><stop offset="0.188" stop-color="#f6bc21"/><stop offset="0.250" stop-color="#f8cd1e"/><stop offset="0.312" stop-color="#f6d81a"/><stop offset="0.375" stop-color="#f5e416"/><stop offset="0.438" stop-color="#ede818"/><stop offset="0.500" stop-color="#dce321"/><stop offset="0.562" stop-color="#c7dc2c"/><stop offset="0.625" stop-color="#b9d630"/><stop offset="0.688" stop-color="#acd134"/><stop offset="0.750" stop-color="#a0cc38"/><stop offset="0.812" stop-color="#95c83b"/><stop offset="0.875" stop-color="#8cc63d"/><stop offset="0.938" stop-color="#85c33f"/><stop offset="1.000" stop-color="#7dc141"/></linearGradient><linearGradient id="g125"><stop offset="0.000" stop-color="#f49926"/><stop offset="0.062" stop-color="#f49e26"/><stop offset="0.125" stop-color="#f5ab24"/><stop offset="0.188" stop-color="#f6bb21"/><stop offset="0.250" stop-color="#f8cc1e"/><stop offset="0.312" stop-color="#f6d81a"/><stop offset="0.375" stop-color="#f5e316"/><stop offset="0.438" stop-color="#eee817"/><stop offset="0.500" stop-color="#dde321"/><stop offset="0.562" stop-color="#c8dc2b"/><stop offset="0.625" stop-color="#b9d630"/><stop offset="0.688" stop-color="#add134"/><stop offset="0.750" stop-color="#a0cc38"/><stop offset="0.812" stop-color="#95c83b"/><stop offset="0.875" stop-color="#8dc63d"/><stop offset="0.938" stop-color="#85c33f"/><stop offset="1.000" stop-color="#7ec140"/></linearGradient><linearGradient id="g126"><stop offset="0.000" stop-color="#f49926"/><stop offset="0.062" stop-color="#f49d26"/><stop offset="0.125" stop-color="#f5aa25"/><stop offset="0.188" stop-color="#f6ba21"/><stop offset="0.250" stop-color="#f8cb1e"/><stop offset="0.312" stop-color="#f7d71a"/><stop offset="0.375" stop-color="#f5e316"/><stop offset="0.438" stop-color="#efe817"/><stop offset="0.500" stop-color="#dee320"/><stop offset="0.562" stop-color="#c9dd2b"/><stop offset="0.625" stop-color="#bad730"/><stop offset="0.688" stop-color="#add234"/><stop offset="0.750" stop-color="#a0cd38"/><stop offset="0.812" stop-color="#95c93b"/><stop offset="0.875" stop-color="#8dc63d"/><stop offset="0.938" stop-color="#85c33f"/><stop offset="1.000" stop-color="#7ec140"/></linearGradient><linearGradient id="g127"><stop offset="0.000" stop-color="#f39827"/><stop offset="0.062" stop-color="#f49d26"/><stop offset="0.125" stop-color="#f5a925"/><stop offset="0.188" stop-color="#f6b922"/><stop offset="0.250" stop-color="#f8ca1e"/><stop offset="0.312" stop-color="#f7d71a"/><stop offset="0.375" stop-color="#f5e217"/><stop offset="0.438" stop-color="#efe917"/><stop offset="0.500" stop-color="#dee420"/><stop offset="0.562" stop-color="#cadd2b"/><stop offset="0.625" stop-color="#bad730"/><stop offset="0.688" stop-color="#add234"/><stop offset="0.750" stop-color="#a1cd38"/><stop offset="0.812" stop-color="#96c93b"/><stop offset="0.875" stop-color="#8dc63d"/><stop offset="0.938" stop-color="#85c33f"/><stop offset="1.000" stop-color="#7ec140"/></linearGradient><linearGradient id="g128"><stop offset="0.000" stop-color="#f39827"/><stop offset="0.062" stop-color="#f49d26"/><stop offset="0.125" stop-color="#f5a825"/><stop offset="0.188" stop-color="#f6b922"/><stop offset="0.250" stop-color="#f8c91f"/><stop offset="0.312" stop-color="#f7d61b"/><stop offset="0.375" stop-color="#f5e217"/><stop offset="0.438" stop-color="#f0e916"/><stop offset="0.500" stop-color="#dfe41f"/><stop offset="0.562" stop-color="#cadd2b"/><stop offset="0.625" stop-color="#bad730"/><stop offset="0.688" stop-color="#aed234"/><stop offset="0.750" stop-color="#a1cd38"/><stop offset="0.812" stop-color="#96c93b"/><stop offset="0.875" stop-color="#8dc63d"/><stop offset="0.938" stop-color="#85c33f"/><stop offset="1.000" stop-color="#7ec140"/></linearGradient><linearGradient id="g129"><stop offset="0.000" stop-color="#f39827"/><stop offset="0.062" stop-color="#f49c26"/><stop offset="0.125" stop-color="#f4a725"/><stop offset="0.188" stop-color="#f6b822"/><stop offset="0.250" stop-color="#f8c91f"/><stop offset="0.312" stop-color="#f7d61b"/><stop offset="0.375" stop-color="#f5e217"/><stop offset="0.438" stop-color="#f0e916"/><stop offset="0.500" stop-color="#e0e41f"/><stop offset="0.562" stop-color="#cbde2a"/><stop offset="0.625" stop-color="#bbd730"/><stop offset="0.688" stop-color="#aed234"/><stop offset="0.750" stop-color="#a1cd38"/><stop offset="0.812" stop-color="#96c93b"/><stop offset="0.875" stop-color="#8dc63d"/><stop offset="0.938" stop-color="#86c43f"/><stop offset="1.000" stop-color="#7ec140"/></linearGradient><linearGradient id="g130"><stop offset="0.000" stop-color="#f39827"/><stop offset="0.062" stop-color="#f49c26"/><stop offset="0.125" stop-color="#f4a625"/><stop offset="0.188" stop-color="#f6b722"/><stop offset="0.250" stop-color="#f8c81f"/><stop offset="0.312" stop-color="#f7d51b"/><stop offset="0.375" stop-color="#f5e117"/><stop offset="0.438" stop-color="#f1e916"/><stop offset="0.500" stop-color="#e0e41f"/><stop offset="0.562" stop-color="#cbde2a"/><stop offset="0.625" stop-color="#bbd72f"/><stop offset="0.688" stop-color="#aed234"/><stop offset="0.750" stop-color="#a2cd38"/><stop offset="0.812" stop-color="#96c93b"/><stop offset="0.875" stop-color="#8dc63d"/><stop offset="0.938" stop-color="#86c43f"/><stop offset="1.000" stop-color="#7ec140"/></linearGradient><linearGradient id="g131"><stop offset="0.000" stop-color="#f39727"/><stop offset="0.062" stop-color="#f49c26"/><stop offset="0.125" stop-color="#f4a625"/><stop offset="0.188" stop-color="#f6b722"/><stop offset="0.250" stop-color="#f8c71f"/><stop offset="0.312" stop-color="#f7d51b"/><stop offset="0.375" stop-color="#f5e117"/><stop offset="0.438" stop-color="#f1e916"/><stop offset="0.500" stop-color="#e1e41e"/><stop offset="0.562" stop-color="#ccde2a"/><stop offset="0.625" stop-color="#bbd72f"/><stop offset="0.688" stop-color="#aed233"/><stop offset="0.750" stop-color="#a2cd38"/><stop offset="0.812" stop-color="#96c93b"/><stop offset="0.875" stop-color="#8dc63d"/><stop offset="0.938" stop-color="#86c43f"/><stop offset="1.000" stop-color="#7ec140"/></linearGradient><linearGradient id="g132"><stop offset="0.000" stop-color="#f39727"/><stop offset="0.062" stop-color="#f49c26"/><stop offset="0.125" stop-color="#f4a525"/><stop offset="0.188" stop-color="#f6b622"/><stop offset="0.250" stop-color="#f8c71f"/><stop offset="0.312" stop-color="#f7d51b"/><stop offset="0.375" stop-color="#f5e117"/><stop offset="0.438" stop-color="#f1e915"/><stop offset="0.500" stop-color="#e1e41e"/><stop offset="0.562" stop-color="#ccde2a"/><stop offset="0.625" stop-color="#bbd72f"/><stop offset="0.688" stop-color="#afd233"/><stop offset="0.750" stop-color="#a2cd38"/><stop offset="0.812" stop-color="#96c93b"/><stop offset="0.875" stop-color="#8dc63d"/><stop offset="0.938" stop-color="#86c43f"/><stop offset="1.000" stop-color="#7ec140"/></linearGradient><linearGradient id="g133"><stop offset="0.000" stop-color="#f39727"/><stop offset="0.062" stop-color="#f49c26"/><stop offset="0.125" stop-color="#f4a525"/><stop offset="0.188" stop-color="#f6b622"/><stop offset="0.250" stop-color="#f8c71f"/><stop offset="0.312" stop-color="#f7d41b"/><stop offset="0.375" stop-color="#f5e017"/><stop offset="0.438" stop-color="#f1e915"/><stop offset="0.500" stop-color="#e1e41e"/><stop offset="0.562" stop-color="#ccde2a"/><stop offset="0.625" stop-color="#bbd72f"/><stop offset="0.688" stop-color="#afd233"/><stop offset="0.750" stop-color="#a2cd38"/><stop offset="0.812" stop-color="#96c93b"/><stop offset="0.875" stop-color="#8dc63d"/><stop offset="0.938" stop-color="#86c33f"/><stop offset="1.000" stop-color="#7ec140"/></linearGradient><linearGradient id="g134"><stop offset="0.000" stop-color="#f39727"/><stop offset="0.062" stop-color="#f49c26"/><stop offset="0.125" stop-color="#f4a525"/><stop offset="0.188" stop-color="#f6b622"/><stop offset="0.250" stop-color="#f8c71f"/><stop offset="0.312" stop-color="#f7d41b"/><stop offset="0.375" stop-color="#f5e017"/><stop offset="0.438" stop-color="#f1e915"/><stop offset="0.500" stop-color="#e1e41e"/><stop offset="0.562" stop-color="#ccde2a"/><stop offset="0.625" stop-color="#bbd72f"/><stop offset="0.688" stop-color="#aed233"/><stop offset="0.750" stop-color="#a2cd38"/><stop offset="0.812" stop-color="#96c93b"/><stop offset="0.875" stop-color="#8dc63d"/><stop offset="0.938" stop-color="#85c33f"/><stop offset="1.000" stop-color="#7ec140"/></linearGradient><linearGradient id="g135"><stop offset="0.000" stop-color="#f39727"/><stop offset="0.062" stop-color="#f49c26"/><stop offset="0.125" stop-color="#f4a525"/><stop offset="0.188" stop-color="#f6b622"/><stop offset="0.250" stop-color="#f8c71f"/><stop offset="0.312" stop-color="#f7d51b"/><stop offset="0.375" stop-color="#f5e117"/><stop offset="0.438" stop-color="#f1e916"/><stop offset="0.500" stop-color="#e1e41e"/><stop offset="0.562" stop-color="#ccde2a"/><stop offset="0.625" stop-color="#bbd72f"/><stop offset="0.688" stop-color="#aed234"/><stop offset="0.750" stop-color="#a1cd38"/><stop offset="0.812" stop-color="#96c93b"/><stop offset="0.875" stop-color="#8dc63d"/><stop offset="0.938" stop-color="#85c33f"/><stop offset="1.000" stop-color="#7dc141"/></linearGradient><linearGradient id="g136"><stop offset="0.000" stop-color="#f39727"/><stop offset="0.062" stop-color="#f49c26"/><stop offset="0.125" stop-color="#f4a525"/><stop offset="0.188" stop-color="#f6b622"/><stop offset="0.250" stop-color="#f8c71f"/><stop offset="0.312" stop-color="#f7d51b"/><stop offset="0.375" stop-color="#f5e117"/><stop offset="0.438" stop-color="#f1e916"/><stop offset="0.500" stop-color="#e0e41f"/><stop offset="0.562" stop-color="#cbde2a"/><stop offset="0.625" stop-color="#bbd730"/><stop offset="0.688" stop-color="#aed234"/><stop offset="0.750" stop-color="#a1cd38"/><stop offset="0.812" stop-color="#95c93b"/><stop offset="0.875" stop-color="#8dc63d"/><stop offset="0.938" stop-color="#85c33f"/><stop offset="1.000" stop-color="#7dc141"/></linearGradient><linearGradient id="g137"><stop offset="0.000" stop-color="#f39727"/><stop offset="0.062" stop-color="#f49c26"/><stop offset="0.125" stop-color="#f4a625"/><stop offset="0.188" stop-color="#f6b722"/><stop offset="0.250" stop-color="#f8c81f"/><stop offset="0.312" stop-color="#f7d51b"/><stop offset="0.375" stop-color="#f5e117"/><stop offset="0.438" stop-color="#f0e916"/><stop offset="0.500" stop-color="#e0e41f"/><stop offset="0.562" stop-color="#cbdd2a"/><stop offset="0.625" stop-color="#bad730"/><stop offset="0.688" stop-color="#add234"/><stop offset="0.750" stop-color="#a0cd38"/><stop offset="0.812" stop-color="#95c83b"/><stop offset="0.875" stop-color="#8cc63d"/><stop offset="0.938" stop-color="#84c33f"/><stop offset="1.000" stop-color="#7dc141"/></linearGradient><linearGradient id="g138"><stop offset="0.000" stop-color="#f39727"/><stop offset="0.062" stop-color="#f49c26"/><stop offset="0.125" stop-color="#f4a725"/><stop offset="0.188" stop-color="#f6b722"/><stop offset="0.250" stop-color="#f8c81f"/><stop offset="0.312" stop-color="#f7d61b"/><stop offset="0.375" stop-color="#f5e217"/><stop offset="0.438" stop-color="#f0e916"/><stop offset="0.500" stop-color="#dfe420"/><stop offset="0.562" stop-color="#cadd2b"/><stop offset="0.625" stop-color="#bad730"/><stop offset="0.688" stop-color="#add134"/><stop offset="0.750" stop-color="#a0cc38"/><stop offset="0.812" stop-color="#95c83b"/><stop offset="0.875" stop-color="#8cc53d"/><stop offset="0.938" stop-color="#84c33f"/><stop offset="1.000" stop-color="#7cc041"/></linearGradient><linearGradient id="g139"><stop offset="0.000" stop-color="#f39827"/><stop offset="0.062" stop-color="#f49c26"/><stop offset="0.125" stop-color="#f5a725"/><stop offset="0.188" stop-color="#f6b822"/><stop offset="0.250" stop-color="#f8c91f"/><stop offset="0.312" stop-color="#f7d61b"/><stop offset="0.375" stop-color="#f5e217"/><stop offset="0.438" stop-color="#efe917"/><stop offset="0.500" stop-color="#dee320"/><stop offset="0.562" stop-color="#c9dd2b"/><stop offset="0.625" stop-color="#b9d630"/><stop offset="0.688" stop-color="#acd134"/><stop offset="0.750" stop-color="#9fcc38"/><stop offset="0.812" stop-color="#94c83b"/><stop offset="0.875" stop-color="#8bc53d"/><stop offset="0.938" stop-color="#83c33f"/><stop offset="1.000" stop-color="#7cc041"/></linearGradient><linearGradient id="g140"><stop offset="0.000" stop-color="#f39827"/><stop offset="0.062" stop-color="#f49c26"/><stop offset="0.125" stop-color="#f5a825"/><stop offset="0.188" stop-color="#f6b922"/><stop offset="0.250" stop-color="#f8ca1e"/><stop offset="0.312" stop-color="#f7d71a"/><stop offset="0.375" stop-color="#f5e316"/><stop offset="0.438" stop-color="#eee817"/><stop offset="0.500" stop-color="#dce321"/><stop offset="0.562" stop-color="#c7dc2c"/><stop offset="0.625" stop-color="#b8d630"/><stop offset="0.688" stop-color="#abd135"/><stop offset="0.750" stop-color="#9ecb39"/><stop offset="0.812" stop-color="#93c83c"/><stop offset="0.875" stop-color="#8ac53e"/><stop offset="0.938" stop-color="#83c33f"/><stop offset="1.000" stop-color="#7bc041"/></linearGradient><linearGradient id="g141"><stop offset="0.000" stop-color="#f39827"/><stop offset="0.062" stop-color="#f49d26"/><stop offset="0.125" stop-color="#f5a925"/><stop offset="0.188" stop-color="#f6ba21"/><stop offset="0.250" stop-color="#f8cb1e"/><stop offset="0.312" stop-color="#f6d81a"/><stop offset="0.375" stop-color="#f5e416"/><stop offset="0.438" stop-color="#ede818"/><stop offset="0.500" stop-color="#dae222"/><stop offset="0.562" stop-color="#c5db2c"/><stop offset="0.625" stop-color="#b6d531"/><stop offset="0.688" stop-color="#a9d035"/><stop offset="0.750" stop-color="#9ccb39"/><stop offset="0.812" stop-color="#92c73c"/><stop offset="0.875" stop-color="#8ac53e"/><stop offset="0.938" stop-color="#82c240"/><stop offset="1.000" stop-color="#7ac041"/></linearGradient><linearGradient id="g142"><stop offset="0.000" stop-color="#f39827"/><stop offset="0.062" stop-color="#f49d26"/><stop offset="0.125" stop-color="#f5aa24"/><stop offset="0.188" stop-color="#f6bb21"/><stop offset="0.250" stop-color="#f8cd1e"/><stop offset="0.312" stop-color="#f6d91a"/><stop offset="0.375" stop-color="#f5e516"/><stop offset="0.438" stop-color="#ebe719"/><stop offset="0.500" stop-color="#d8e223"/><stop offset="0.562" stop-color="#c2da2d"/><stop offset="0.625" stop-color="#b5d531"/><stop offset="0.688" stop-color="#a8d036"/><stop offset="0.750" stop-color="#9bca3a"/><stop offset="0.812" stop-color="#91c73c"/><stop offset="0.875" stop-color="#89c43e"/><stop offset="0.938" stop-color="#81c240"/><stop offset="1.000" stop-color="#79bf42"/></linearGradient><linearGradient id="g143"><stop offset="0.000" stop-color="#f49926"/><stop offset="0.062" stop-color="#f49e26"/><stop offset="0.125" stop-color="#f5ab24"/><stop offset="0.188" stop-color="#f7bd21"/><stop offset="0.250" stop-color="#f8ce1d"/><stop offset="0.312" stop-color="#f6da19"/><stop offset="0.375" stop-color="#f5e615"/><stop offset="0.438" stop-color="#e9e71a"/><stop offset="0.500" stop-color="#d6e125"/><stop offset="0.562" stop-color="#c1d92e"/><stop offset="0.625" stop-color="#b3d432"/><stop offset="0.688" stop-color="#a6cf36"/><stop offset="0.750" stop-color="#99ca3a"/><stop offset="0.812" stop-color="#90c73c"/><stop offset="0.875" stop-color="#88c43e"/><stop offset="0.938" stop-color="#80c240"/><stop offset="1.000" stop-color="#78bf42"/></linearGradient><linearGradient id="g144"><stop offset="0.000" stop-color="#f49926"/><stop offset="0.062" stop-color="#f49f26"/><stop offset="0.125" stop-color="#f5ad24"/><stop offset="0.188" stop-color="#f7be21"/><stop offset="0.250" stop-color="#f8cf1d"/><stop offset="0.312" stop-color="#f6db19"/><stop offset="0.375" stop-color="#f4e715"/><stop offset="0.438" stop-color="#e8e61b"/><stop offset="0.500" stop-color="#d3e026"/><stop offset="0.562" stop-color="#bfd92e"/><stop offset="0.625" stop-color="#b2d432"/><stop offset="0.688" stop-color="#a5ce37"/><stop offset="0.750" stop-color="#98c93a"/><stop offset="0.812" stop-color="#8ec63d"/><stop offset="0.875" stop-color="#87c43e"/><stop offset="0.938" stop-color="#7fc140"/><stop offset="1.000" stop-color="#77bf42"/></linearGradient><linearGradient id="g145"><stop offset="0.000" stop-color="#f49926"/><stop offset="0.062" stop-color="#f4a026"/><stop offset="0.125" stop-color="#f5af24"/><stop offset="0.188" stop-color="#f7c020"/><stop offset="0.250" stop-color="#f7d01d"/><stop offset="0.312" stop-color="#f6dd18"/><stop offset="0.375" stop-color="#f4e914"/><stop offset="0.438" stop-color="#e6e61c"/><stop offset="0.500" stop-color="#d1df27"/><stop offset="0.562" stop-color="#bed82f"/><stop offset="0.625" stop-color="#b0d333"/><stop offset="0.688" stop-color="#a3ce37"/><stop offset="0.750" stop-color="#97c93b"/><stop offset="0.812" stop-color="#8dc63d"/><stop offset="0.875" stop-color="#86c33f"/><stop offset="0.938" stop-color="#7ec140"/><stop offset="1.000" stop-color="#76be42"/></linearGradient><linearGradient id="g146"><stop offset="0.000" stop-color="#f49a26"/><stop offset="0.062" stop-color="#f4a126"/><stop offset="0.125" stop-color="#f5b123"/><stop offset="0.188" stop-color="#f7c220"/><stop offset="0.250" stop-color="#f7d21c"/><stop offset="0.312" stop-color="#f6de18"/><stop offset="0.375" stop-color="#f4ea14"/><stop offset="0.438" stop-color="#e4e51d"/><stop offset="0.500" stop-color="#cedf29"/><stop offset="0.562" stop-color="#bcd82f"/><stop offset="0.625" stop-color="#afd233"/><stop offset="0.688" stop-color="#a1cd38"/><stop offset="0.750" stop-color="#96c93b"/><stop offset="0.812" stop-color="#8cc63d"/><stop offset="0.875" stop-color="#84c33f"/><stop offset="0.938" stop-color="#7cc141"/><stop offset="1.000" stop-color="#74be43"/></linearGradient><linearGradient id="g147"><stop offset="0.000" stop-color="#f49b26"/><stop offset="0.062" stop-color="#f4a226"/><stop offset="0.125" stop-color="#f6b323"/><stop offset="0.188" stop-color="#f7c41f"/><stop offset="0.250" stop-color="#f7d31c"/><stop offset="0.312" stop-color="#f5e017"/><stop offset="0.375" stop-color="#f2e915"/><stop offset="0.438" stop-color="#e1e41e"/><stop offset="0.500" stop-color="#ccde2a"/><stop offset="0.562" stop-color="#bad730"/><stop offset="0.625" stop-color="#add234"/><stop offset="0.688" stop-color="#a0cc38"/><stop offset="0.750" stop-color="#94c83b"/><stop offset="0.812" stop-color="#8bc53d"/><stop offset="0.875" stop-color="#83c33f"/><stop offset="0.938" stop-color="#7bc041"/><stop offset="1.000" stop-color="#73be43"/></linearGradient><linearGradient id="g148"><stop offset="0.000" stop-color="#f49b26"/><stop offset="0.062" stop-color="#f4a426"/><stop offset="0.125" stop-color="#f6b522"/><stop offset="0.188" stop-color="#f8c71f"/><stop offset="0.250" stop-color="#f7d51b"/><stop offset="0.312" stop-color="#f5e117"/><stop offset="0.375" stop-color="#f0e916"/><stop offset="0.438" stop-color="#dfe420"/><stop offset="0.500" stop-color="#c9dd2b"/><stop offset="0.562" stop-color="#b9d630"/><stop offset="0.625" stop-color="#abd134"/><stop offset="0.688" stop-color="#9ecc39"/><stop offset="0.750" stop-color="#93c83c"/><stop offset="0.812" stop-color="#8ac53e"/><stop offset="0.875" stop-color="#82c23f"/><stop offset="0.938" stop-color="#7ac041"/><stop offset="1.000" stop-color="#72bd43"/></linearGradient><linearGradient id="g149"><stop offset="0.000" stop-color="#f49c26"/><stop offset="0.062" stop-color="#f4a625"/><stop offset="0.125" stop-color="#f6b822"/><stop offset="0.188" stop-color="#f8c91f"/><stop offset="0.250" stop-color="#f7d61b"/><stop offset="0.312" stop-color="#f5e316"/><stop offset="0.375" stop-color="#eee817"/><stop offset="0.438" stop-color="#dce321"/><stop offset="0.500" stop-color="#c6db2c"/><stop offset="0.562" stop-color="#b7d631"/><stop offset="0.625" stop-color="#a9d035"/><stop offset="0.688" stop-color="#9ccb39"/><stop offset="0.750" stop-color="#92c73c"/><stop offset="0.812" stop-color="#89c53e"/><stop offset="0.875" stop-color="#81c240"/><stop offset="0.938" stop-color="#79bf42"/><stop offset="1.000" stop-color="#71bd43"/></linearGradient><linearGradient id="g150"><stop offset="0.000" stop-color="#f49d26"/><stop offset="0.062" stop-color="#f5a925"/><stop offset="0.125" stop-color="#f6ba21"/><stop offset="0.188" stop-color="#f8cc1e"/><stop offset="0.250" stop-color="#f6d81a"/><stop offset="0.312" stop-color="#f5e516"/><stop offset="0.375" stop-color="#ece719"/><stop offset="0.438" stop-color="#d8e223"/><stop offset="0.500" stop-color="#c3da2d"/><stop offset="0.562" stop-color="#b5d531"/><stop offset="0.625" stop-color="#a7cf36"/><stop offset="0.688" stop-color="#9aca3a"/><stop offset="0.750" stop-color="#90c73c"/><stop offset="0.812" stop-color="#88c43e"/><stop offset="0.875" stop-color="#80c240"/><stop offset="0.938" stop-color="#77bf42"/><stop offset="1.000" stop-color="#6fbc44"/></linearGradient><linearGradient id="g151"><stop offset="0.000" stop-color="#f49e26"/><stop offset="0.062" stop-color="#f5ab24"/><stop offset="0.125" stop-color="#f7bd21"/><stop offset="0.188" stop-color="#f8ce1d"/><stop offset="0.250" stop-color="#f6da19"/><stop offset="0.312" stop-color="#f4e615"/><stop offset="0.375" stop-color="#e9e71a"/><stop offset="0.438" stop-color="#d5e125"/><stop offset="0.500" stop-color="#c0d92e"/><stop offset="0.562" stop-color="#b3d432"/><stop offset="0.625" stop-color="#a5ce36"/><stop offset="0.688" stop-color="#98c93a"/><stop offset="0.750" stop-color="#8ec63d"/><stop offset="0.812" stop-color="#86c43e"/><stop offset="0.875" stop-color="#7ec140"/><stop offset="0.938" stop-color="#76bf42"/><stop offset="1.000" stop-color="#6ebc44"/></linearGradient><linearGradient id="g152"><stop offset="0.000" stop-color="#f49f26"/><stop offset="0.062" stop-color="#f5ae24"/><stop offset="0.125" stop-color="#f7bf20"/><stop offset="0.188" stop-color="#f8cf1d"/><stop offset="0.250" stop-color="#f6dc19"/><stop offset="0.312" stop-color="#f4e815"/><stop offset="0.375" stop-color="#e7e61b"/><stop offset="0.438" stop-color="#d2e027"/><stop offset="0.500" stop-color="#bed82e"/><stop offset="0.562" stop-color="#b0d333"/><stop offset="0.625" stop-color="#a3ce37"/><stop offset="0.688" stop-color="#97c93b"/><stop offset="0.750" stop-color="#8dc63d"/><stop offset="0.812" stop-color="#85c33f"/><stop offset="0.875" stop-color="#7dc141"/><stop offset="0.938" stop-color="#75be43"/><stop offset="1.000" stop-color="#6ebc44"/></linearGradient><linearGradient id="g153"><stop offset="0.000" stop-color="#f4a026"/><stop offset="0.062" stop-color="#f5b023"/><stop offset="0.125" stop-color="#f7c220"/><stop offset="0.188" stop-color="#f7d11c"/><stop offset="0.250" stop-color="#f6de18"/><stop offset="0.312" stop-color="#f4ea14"/><stop offset="0.375" stop-color="#e4e51d"/><stop offset="0.438" stop-color="#cedf29"/><stop offset="0.500" stop-color="#bcd72f"/><stop offset="0.562" stop-color="#aed234"/><stop offset="0.625" stop-color="#a0cd38"/><stop offset="0.688" stop-color="#95c83b"/><stop offset="0.750" stop-color="#8bc53d"/><stop offset="0.812" stop-color="#83c33f"/><stop offset="0.875" stop-color="#7bc041"/><stop offset="0.938" stop-color="#73be43"/><stop offset="1.000" stop-color="#6ebc44"/></linearGradient><linearGradient id="g154"><stop offset="0.000" stop-color="#f4a226"/><stop offset="0.062" stop-color="#f6b323"/><stop offset="0.125" stop-color="#f7c51f"/><stop offset="0.188" stop-color="#f7d31c"/><stop offset="0.250" stop-color="#f5e017"/><stop offset="0.312" stop-color="#f1e916"/><stop offset="0.375" stop-color="#e0e41f"/><stop offset="0.438" stop-color="#cadd2b"/><stop offset="0.500" stop-color="#b9d630"/><stop offset="0.562" stop-color="#abd134"/><stop offset="0.625" stop-color="#9ecb39"/><stop offset="0.688" stop-color="#93c83c"/><stop offset="0.750" stop-color="#8ac53e"/><stop offset="0.812" stop-color="#82c240"/><stop offset="0.875" stop-color="#79c041"/><stop offset="0.938" stop-color="#71bd43"/><stop offset="1.000" stop-color="#6dbc44"/></linearGradient><linearGradient id="g155"><stop offset="0.000" stop-color="#f4a426"/><stop offset="0.062" stop-color="#f6b622"/><stop offset="0.125" stop-color="#f8c81f"/><stop offset="0.188" stop-color="#f7d61b"/><stop offset="0.250" stop-color="#f5e217"/><stop offset="0.312" stop-color="#eee817"/><stop offset="0.375" stop-color="#dbe321"/><stop offset="0.438" stop-color="#c5db2c"/><stop offset="0.500" stop-color="#b6d531"/><stop offset="0.562" stop-color="#a9d035"/><stop offset="0.625" stop-color="#9bca3a"/><stop offset="0.688" stop-color="#91c73c"/><stop offset="0.750" stop-color="#88c43e"/><stop offset="0.812" stop-color="#80c240"/><stop offset="0.875" stop-color="#78bf42"/><stop offset="0.938" stop-color="#6fbc44"/><stop offset="1.000" stop-color="#6dbc45"/></linearGradient><linearGradient id="g156"><stop offset="0.000" stop-color="#f5a725"/><stop offset="0.062" stop-color="#f6b922"/><stop offset="0.125" stop-color="#f8cb1e"/><stop offset="0.188" stop-color="#f6d81a"/><stop offset="0.250" stop-color="#f5e516"/><stop offset="0.312" stop-color="#ebe719"/><stop offset="0.375" stop-color="#d7e124"/><stop offset="0.438" stop-color="#c1da2e"/><stop offset="0.500" stop-color="#b3d432"/><stop offset="0.562" stop-color="#a6cf36"/><stop offset="0.625" stop-color="#98c93a"/><stop offset="0.688" stop-color="#8ec63d"/><stop offset="0.750" stop-color="#86c43f"/><stop offset="0.812" stop-color="#7ec140"/><stop offset="0.875" stop-color="#76be42"/><stop offset="0.938" stop-color="#6ebc44"/><stop offset="1.000" stop-color="#6dbc45"/></linearGradient><linearGradient id="g157"><stop offset="0.000" stop-color="#f5ab24"/><stop offset="0.062" stop-color="#f7bd21"/><stop offset="0.125" stop-color="#f8ce1d"/><stop offset="0.188" stop-color="#f6db19"/><stop offset="0.250" stop-color="#f4e715"/><stop offset="0.312" stop-color="#e8e61b"/><stop offset="0.375" stop-color="#d2e027"/><stop offset="0.438" stop-color="#bed82e"/><stop offset="0.500" stop-color="#b0d333"/><stop offset="0.562" stop-color="#a2cd37"/><stop offset="0.625" stop-color="#96c93b"/><stop offset="0.688" stop-color="#8cc63d"/><stop offset="0.750" stop-color="#84c33f"/><stop offset="0.812" stop-color="#7cc041"/><stop offset="0.875" stop-color="#74be43"/><stop offset="0.938" stop-color="#6ebc44"/><stop offset="1.000" stop-color="#6dbb45"/></linearGradient><linearGradient id="g158"><stop offset="0.000" stop-color="#f5ae24"/><stop offset="0.062" stop-color="#f7c020"/><stop offset="0.125" stop-color="#f7d01d"/><stop offset="0.188" stop-color="#f6dd18"/><stop offset="0.250" stop-color="#f4ea14"/><stop offset="0.312" stop-color="#e4e51d"/><stop offset="0.375" stop-color="#cdde2a"/><stop offset="0.438" stop-color="#bbd730"/><stop offset="0.500" stop-color="#add234"/><stop offset="0.562" stop-color="#9fcc38"/><stop offset="0.625" stop-color="#94c83b"/><stop offset="0.688" stop-color="#8ac53e"/><stop offset="0.750" stop-color="#82c23f"/><stop offset="0.812" stop-color="#7ac041"/><stop offset="0.875" stop-color="#71bd43"/><stop offset="0.938" stop-color="#6dbc44"/><stop offset="1.000" stop-color="#6dbb45"/></linearGradient><linearGradient id="g159"><stop offset="0.000" stop-color="#f5b223"/><stop offset="0.062" stop-color="#f7c420"/><stop offset="0.125" stop-color="#f7d31c"/><stop offset="0.188" stop-color="#f5e017"/><stop offset="0.250" stop-color="#f0e916"/><stop offset="0.312" stop-color="#dee320"/><stop offset="0.375" stop-color="#c7dc2b"/><stop offset="0.438" stop-color="#b7d631"/><stop offset="0.500" stop-color="#a9d035"/><stop offset="0.562" stop-color="#9ccb39"/><stop offset="0.625" stop-color="#91c73c"/><stop offset="0.688" stop-color="#88c43e"/><stop offset="0.750" stop-color="#80c240"/><stop offset="0.812" stop-color="#78bf42"/><stop offset="0.875" stop-color="#6fbc44"/><stop offset="0.938" stop-color="#6dbc45"/><stop offset="1.000" stop-color="#6cbb45"/></linearGradient><linearGradient id="g160"><stop offset="0.000" stop-color="#f6b622"/><stop offset="0.062" stop-color="#f8c81f"/><stop offset="0.125" stop-color="#f7d61b"/><stop offset="0.188" stop-color="#f5e316"/><stop offset="0.250" stop-color="#ede818"/><stop offset="0.312" stop-color="#d9e223"/><stop offset="0.375" stop-color="#c2da2d"/><stop offset="0.438" stop-color="#b4d432"/><stop offset="0.500" stop-color="#a6cf36"/><stop offset="0.562" stop-color="#99ca3a"/><stop offset="0.625" stop-color="#8ec63d"/><stop offset="0.688" stop-color="#86c43f"/><stop offset="0.750" stop-color="#7ec140"/><stop offset="0.812" stop-color="#75be42"/><stop offset="0.875" stop-color="#6ebc44"/><stop offset="0.938" stop-color="#6dbb45"/><stop offset="1.000" stop-color="#6cbb45"/></linearGradient><linearGradient id="g161"><stop offset="0.000" stop-color="#f6b922"/><stop offset="0.062" stop-color="#f8cc1e"/><stop offset="0.125" stop-color="#f6d91a"/><stop offset="0.188" stop-color="#f5e615"/><stop offset="0.250" stop-color="#e9e71a"/><stop offset="0.312" stop-color="#d3e026"/><stop offset="0.375" stop-color="#bed92e"/><stop offset="0.438" stop-color="#b0d333"/><stop offset="0.500" stop-color="#a2cd37"/><stop offset="0.562" stop-color="#96c93b"/><stop offset="0.625" stop-color="#8cc63d"/><stop offset="0.688" stop-color="#84c33f"/><stop offset="0.750" stop-color="#7bc041"/><stop offset="0.812" stop-color="#73be43"/><stop offset="0.875" stop-color="#6ebc44"/><stop offset="0.938" stop-color="#6dbb45"/><stop offset="1.000" stop-color="#6cbb46"/></linearGradient><linearGradient id="g162"><stop offset="0.000" stop-color="#f7bd21"/><stop offset="0.062" stop-color="#f8cf1d"/><stop offset="0.125" stop-color="#f6dc19"/><stop offset="0.188" stop-color="#f4e914"/><stop offset="0.250" stop-color="#e5e51c"/><stop offset="0.312" stop-color="#cdde29"/><stop offset="0.375" stop-color="#bbd72f"/><stop offset="0.438" stop-color="#add234"/><stop offset="0.500" stop-color="#9fcc38"/><stop offset="0.562" stop-color="#93c83c"/><stop offset="0.625" stop-color="#8ac53e"/><stop offset="0.688" stop-color="#82c240"/><stop offset="0.750" stop-color="#79c041"/><stop offset="0.812" stop-color="#71bd43"/><stop offset="0.875" stop-color="#6dbc44"/><stop offset="0.938" stop-color="#6cbb45"/><stop offset="1.000" stop-color="#6cbb46"/></linearGradient><linearGradient id="g163"><stop offset="0.000" stop-color="#f7c120"/><stop offset="0.062" stop-color="#f7d21c"/><stop offset="0.125" stop-color="#f5df18"/><stop offset="0.188" stop-color="#f2e915"/><stop offset="0.250" stop-color="#dfe41f"/><stop offset="0.312" stop-color="#c8dc2b"/><stop offset="0.375" stop-color="#b7d631"/><stop offset="0.438" stop-color="#a9d035"/><stop offset="0.500" stop-color="#9bcb3a"/><stop offset="0.562" stop-color="#91c73c"/><stop offset="0.625" stop-color="#88c43e"/><stop offset="0.688" stop-color="#7fc240"/><stop offset="0.750" stop-color="#77bf42"/><stop offset="0.812" stop-color="#6fbc44"/><stop offset="0.875" stop-color="#6dbc45"/><stop offset="0.938" stop-color="#6cbb45"/><stop offset="1.000" stop-color="#6bbb46"/></linearGradient><linearGradient id="g164"><stop offset="0.000" stop-color="#f7c51f"/><stop offset="0.062" stop-color="#f7d51b"/><stop offset="0.125" stop-color="#f5e217"/><stop offset="0.188" stop-color="#eee817"/><stop offset="0.250" stop-color="#dae222"/><stop offset="0.312" stop-color="#c2da2d"/><stop offset="0.375" stop-color="#b4d432"/><stop offset="0.438" stop-color="#a6cf36"/><stop offset="0.500" stop-color="#98c93a"/><stop offset="0.562" stop-color="#8ec63d"/><stop offset="0.625" stop-color="#86c43f"/><stop offset="0.688" stop-color="#7dc141"/><stop offset="0.750" stop-color="#75be42"/><stop offset="0.812" stop-color="#6ebc44"/><stop offset="0.875" stop-color="#6dbb45"/><stop offset="0.938" stop-color="#6cbb46"/><stop offset="1.000" stop-color="#6bbb46"/></linearGradient><linearGradient id="g165"><stop offset="0.000" stop-color="#f8c91f"/><stop offset="0.062" stop-color="#f6d71a"/><stop offset="0.125" stop-color="#f5e516"/><stop offset="0.188" stop-color="#eae71a"/><stop offset="0.250" stop-color="#d4e026"/><stop offset="0.312" stop-color="#bfd92e"/><stop offset="0.375" stop-color="#b0d333"/><stop offset="0.438" stop-color="#a2cd37"/><stop offset="0.500" stop-color="#96c93b"/><stop offset="0.562" stop-color="#8cc63d"/><stop offset="0.625" stop-color="#83c33f"/><stop offset="0.688" stop-color="#7bc041"/><stop offset="0.750" stop-color="#72bd43"/><stop offset="0.812" stop-color="#6ebc44"/><stop offset="0.875" stop-color="#6dbb45"/><stop offset="0.938" stop-color="#6cbb46"/><stop offset="1.000" stop-color="#6bba46"/></linearGradient><linearGradient id="g166"><stop offset="0.000" stop-color="#f8cd1e"/><stop offset="0.062" stop-color="#f6da19"/><stop offset="0.125" stop-color="#f4e815"/><stop offset="0.188" stop-color="#e6e61c"/><stop offset="0.250" stop-color="#cfdf29"/><stop offset="0.312" stop-color="#bbd72f"/><stop offset="0.375" stop-color="#add234"/><stop offset="0.438" stop-color="#9fcc38"/><stop offset="0.500" stop-color="#93c83c"/><stop offset="0.562" stop-color="#8ac53e"/><stop offset="0.625" stop-color="#81c240"/><stop offset="0.688" stop-color="#79bf42"/><stop offset="0.750" stop-color="#70bd43"/><stop offset="0.812" stop-color="#6dbc45"/><stop offset="0.875" stop-color="#6cbb45"/><stop offset="0.938" stop-color="#6bbb46"/><stop offset="1.000" stop-color="#6aba47"/></linearGradient><linearGradient id="g167"><stop offset="0.000" stop-color="#f8d01d"/><stop offset="0.062" stop-color="#f6dd18"/><stop offset="0.125" stop-color="#f3ea14"/><stop offset="0.188" stop-color="#e1e41e"/><stop offset="0.250" stop-color="#c9dd2b"/><stop offset="0.312" stop-color="#b8d630"/><stop offset="0.375" stop-color="#aad035"/><stop offset="0.438" stop-color="#9bcb3a"/><stop offset="0.500" stop-color="#91c73c"/><stop offset="0.562" stop-color="#88c43e"/><stop offset="0.625" stop-color="#7fc140"/><stop offset="0.688" stop-color="#77bf42"/><stop offset="0.750" stop-color="#6ebc44"/><stop offset="0.812" stop-color="#6dbc45"/><stop offset="0.875" stop-color="#6cbb45"/><stop offset="0.938" stop-color="#6bbb46"/><stop offset="1.000" stop-color="#6aba47"/></linearGradient><linearGradient id="g168"><stop offset="0.000" stop-color="#f7d21c"/><stop offset="0.062" stop-color="#f5e017"/><stop offset="0.125" stop-color="#f0e916"/><stop offset="0.188" stop-color="#dce321"/><stop offset="0.250" stop-color="#c4db2d"/><stop offset="0.312" stop-color="#b5d531"/><stop offset="0.375" stop-color="#a6cf36"/><stop offset="0.438" stop-color="#99ca3a"/><stop offset="0.500" stop-color="#8ec63d"/><stop offset="0.562" stop-color="#86c43f"/><stop offset="0.625" stop-color="#7dc141"/><stop offset="0.688" stop-color="#75be43"/><stop offset="0.750" stop-color="#6ebc44"/><stop offset="0.812" stop-color="#6dbb45"/><stop offset="0.875" stop-color="#6cbb46"/><stop offset="0.938" stop-color="#6bba46"/><stop offset="1.000" stop-color="#6aba47"/></linearGradient><linearGradient id="g169"><stop offset="0.000" stop-color="#f7d51b"/><stop offset="0.062" stop-color="#f5e316"/><stop offset="0.125" stop-color="#ece818"/><stop offset="0.188" stop-color="#d7e124"/><stop offset="0.250" stop-color="#c0d92e"/><stop offset="0.312" stop-color="#b2d332"/><stop offset="0.375" stop-color="#a3ce37"/><stop offset="0.438" stop-color="#96c93b"/><stop offset="0.500" stop-color="#8cc63d"/><stop offset="0.562" stop-color="#84c33f"/><stop offset="0.625" stop-color="#7bc041"/><stop offset="0.688" stop-color="#73bd43"/><stop offset="0.750" stop-color="#6ebc44"/><stop offset="0.812" stop-color="#6dbb45"/><stop offset="0.875" stop-color="#6cbb46"/><stop offset="0.938" stop-color="#6bba46"/><stop offset="1.000" stop-color="#6aba47"/></linearGradient><linearGradient id="g170"><stop offset="0.000" stop-color="#f6d71a"/><stop offset="0.062" stop-color="#f5e516"/><stop offset="0.125" stop-color="#e9e71a"/><stop offset="0.188" stop-color="#d2e027"/><stop offset="0.250" stop-color="#bdd82f"/><stop offset="0.312" stop-color="#afd233"/><stop offset="0.375" stop-color="#a0cc38"/><stop offset="0.438" stop-color="#94c83b"/><stop offset="0.500" stop-color="#8ac53e"/><stop offset="0.562" stop-color="#82c23f"/><stop offset="0.625" stop-color="#79c041"/><stop offset="0.688" stop-color="#71bd43"/><stop offset="0.750" stop-color="#6dbc45"/><stop offset="0.812" stop-color="#6cbb45"/><stop offset="0.875" stop-color="#6bbb46"/><stop offset="0.938" stop-color="#6aba47"/><stop offset="1.000" stop-color="#6aba47"/></linearGradient><linearGradient id="g171"><stop offset="0.000" stop-color="#f6da19"/><stop offset="0.062" stop-color="#f4e815"/><stop offset="0.125" stop-color="#e5e61c"/><stop offset="0.188" stop-color="#cdde29"/><stop offset="0.250" stop-color="#bad730"/><stop offset="0.312" stop-color="#acd134"/><stop offset="0.375" stop-color="#9dcb39"/><stop offset="0.438" stop-color="#92c73c"/><stop offset="0.500" stop-color="#89c43e"/><stop offset="0.562" stop-color="#80c240"/><stop offset="0.625" stop-color="#77bf42"/><stop offset="0.688" stop-color="#6ebc44"/><stop offset="0.750" stop-color="#6dbc45"/><stop offset="0.812" stop-color="#6cbb45"/><stop offset="0.875" stop-color="#6bbb46"/><stop offset="0.938" stop-color="#6aba47"/><stop offset="1.000" stop-color="#69ba48"/></linearGradient><linearGradient id="g172"><stop offset="0.000" stop-color="#f6dd18"/><stop offset="0.062" stop-color="#f3ea14"/><stop offset="0.125" stop-color="#e0e41f"/><stop offset="0.188" stop-color="#c8dc2b"/><stop offset="0.250" stop-color="#b7d631"/><stop offset="0.312" stop-color="#a8d035"/><stop offset="0.375" stop-color="#9aca3a"/><stop offset="0.438" stop-color="#8fc73c"/><stop offset="0.500" stop-color="#86c43e"/><stop offset="0.562" stop-color="#7ec140"/><stop offset="0.625" stop-color="#75be42"/><stop offset="0.688" stop-color="#6ebc44"/><stop offset="0.750" stop-color="#6dbb45"/><stop offset="0.812" stop-color="#6cbb46"/><stop offset="0.875" stop-color="#6bba46"/><stop offset="0.938" stop-color="#6aba47"/><stop offset="1.000" stop-color="#69ba48"/></linearGradient><linearGradient id="g173"><stop offset="0.000" stop-color="#f5e017"/><stop offset="0.062" stop-color="#efe916"/><stop offset="0.125" stop-color="#dbe222"/><stop offset="0.188" stop-color="#c2da2d"/><stop offset="0.250" stop-color="#b3d432"/><stop offset="0.312" stop-color="#a5ce37"/><stop offset="0.375" stop-color="#97c93b"/><stop offset="0.438" stop-color="#8dc63d"/><stop offset="0.500" stop-color="#84c33f"/><stop offset="0.562" stop-color="#7cc041"/><stop offset="0.625" stop-color="#73be43"/><stop offset="0.688" stop-color="#6ebc44"/><stop offset="0.750" stop-color="#6dbb45"/><stop offset="0.812" stop-color="#6cbb46"/><stop offset="0.875" stop-color="#6bba46"/><stop offset="0.938" stop-color="#6aba47"/><stop offset="1.000" stop-color="#69b948"/></linearGradient><linearGradient id="g174"><stop offset="0.000" stop-color="#f5e316"/><stop offset="0.062" stop-color="#ebe719"/><stop offset="0.125" stop-color="#d4e125"/><stop offset="0.188" stop-color="#bed82e"/><stop offset="0.250" stop-color="#b0d333"/><stop offset="0.312" stop-color="#a1cd38"/><stop offset="0.375" stop-color="#94c83b"/><stop offset="0.438" stop-color="#8bc53d"/><stop offset="0.500" stop-color="#82c23f"/><stop offset="0.562" stop-color="#79c041"/><stop offset="0.625" stop-color="#70bd43"/><stop offset="0.688" stop-color="#6dbc45"/><stop offset="0.750" stop-color="#6cbb45"/><stop offset="0.812" stop-color="#6bbb46"/><stop offset="0.875" stop-color="#6aba47"/><stop offset="0.938" stop-color="#69ba47"/><stop offset="1.000" stop-color="#69b948"/></linearGradient><linearGradient id="g175"><stop offset="0.000" stop-color="#f5e516"/><stop offset="0.062" stop-color="#e8e61a"/><stop offset="0.125" stop-color="#d0df28"/><stop offset="0.188" stop-color="#bcd72f"/><stop offset="0.250" stop-color="#add234"/><stop offset="0.312" stop-color="#9ecc39"/><stop offset="0.375" stop-color="#93c83c"/><stop offset="0.438" stop-color="#89c53e"/><stop offset="0.500" stop-color="#80c240"/><stop offset="0.562" stop-color="#78bf42"/><stop offset="0.625" stop-color="#6fbc44"/><stop offset="0.688" stop-color="#6dbc45"/><stop offset="0.750" stop-color="#6cbb45"/><stop offset="0.812" stop-color="#6bbb46"/><stop offset="0.875" stop-color="#6aba47"/><stop offset="0.938" stop-color="#69ba48"/><stop offset="1.000" stop-color="#69b948"/></linearGradient><linearGradient id="s1g" gradientUnits="userSpaceOnUse" x1="30" y1="232" x2="110" y2="180"><stop offset="0" stop-color="#0e2a3a"/><stop offset="0.3" stop-color="#0a1a16"/><stop offset="0.6" stop-color="#070c09"/><stop offset="1" stop-color="#060606"/></linearGradient><pattern id="dots1" patternUnits="userSpaceOnUse" width="3.8" height="3.2" patternTransform="skewX(-25)"><circle cx="1.9" cy="1.6" r="0.62" fill="#7aaa84"/></pattern><linearGradient id="m1g" gradientUnits="userSpaceOnUse" x1="70" y1="232" x2="140" y2="160"><stop offset="0" stop-color="#fff" stop-opacity="0.9"/><stop offset="0.5" stop-color="#fff" stop-opacity="0.8"/><stop offset="0.8" stop-color="#fff" stop-opacity="0.35"/><stop offset="1" stop-color="#fff" stop-opacity="0.15"/></linearGradient><mask id="m1"><rect x="0" y="140" width="200" height="120" fill="url(#m1g)"/></mask><linearGradient id="s2g" gradientUnits="userSpaceOnUse" x1="285" y1="252" x2="300" y2="160"><stop offset="0" stop-color="#2a7c8a"/><stop offset="0.2" stop-color="#28745e"/><stop offset="0.4" stop-color="#2e723a"/><stop offset="0.55" stop-color="#40622a"/><stop offset="0.7" stop-color="#40401a"/><stop offset="0.85" stop-color="#30220e"/><stop offset="1" stop-color="#20140a"/></linearGradient><pattern id="mesh2" patternUnits="userSpaceOnUse" width="2.6" height="2.6" patternTransform="rotate(-28)"><rect x="0" y="0" width="2.6" height="1.1" fill="#000" fill-opacity="0.55"/><rect x="0" y="0" width="0.9" height="2.6" fill="#000" fill-opacity="0.35"/></pattern></defs><rect x="0" y="0" width="574" height="303" fill="#ffffff"/><rect x="28.70" y="11.30" width="158.10" height="3.00" fill="url(#g1)"/><rect x="28.70" y="13.30" width="158.10" height="3.00" fill="url(#g2)"/><rect x="28.70" y="15.30" width="158.10" height="3.00" fill="url(#g3)"/><rect x="28.70" y="17.30" width="158.10" height="3.00" fill="url(#g4)"/><rect x="28.70" y="19.30" width="158.10" height="3.00" fill="url(#g5)"/><rect x="28.70" y="21.30" width="158.10" height="3.00" fill="url(#g6)"/><rect x="28.70" y="23.30" width="158.10" height="3.00" fill="url(#g7)"/><rect x="28.70" y="25.30" width="158.10" height="3.00" fill="url(#g8)"/><rect x="28.70" y="27.30" width="158.10" height="3.00" fill="url(#g9)"/><rect x="28.70" y="29.30" width="158.10" height="3.00" fill="url(#g10)"/><rect x="28.70" y="31.30" width="158.10" height="3.00" fill="url(#g11)"/><rect x="28.70" y="33.30" width="158.10" height="3.00" fill="url(#g12)"/><rect x="28.70" y="35.30" width="158.10" height="3.00" fill="url(#g13)"/><rect x="28.70" y="37.30" width="158.10" height="3.00" fill="url(#g14)"/><rect x="28.70" y="39.30" width="158.10" height="3.00" fill="url(#g15)"/><rect x="28.70" y="41.30" width="158.10" height="3.00" fill="url(#g16)"/><rect x="28.70" y="43.30" width="158.10" height="3.00" fill="url(#g17)"/><rect x="28.70" y="45.30" width="158.10" height="3.00" fill="url(#g18)"/><rect x="28.70" y="47.30" width="158.10" height="3.00" fill="url(#g19)"/><rect x="28.70" y="49.30" width="158.10" height="3.00" fill="url(#g20)"/><rect x="28.70" y="51.30" width="158.10" height="3.00" fill="url(#g21)"/><rect x="28.70" y="53.30" width="158.10" height="3.00" fill="url(#g22)"/><rect x="28.70" y="55.30" width="158.10" height="3.00" fill="url(#g23)"/><rect x="28.70" y="57.30" width="158.10" height="3.00" fill="url(#g24)"/><rect x="28.70" y="59.30" width="158.10" height="3.00" fill="url(#g25)"/><rect x="28.70" y="61.30" width="158.10" height="3.00" fill="url(#g26)"/><rect x="28.70" y="63.30" width="158.10" height="3.00" fill="url(#g27)"/><rect x="28.70" y="65.30" width="158.10" height="3.00" fill="url(#g28)"/><rect x="28.70" y="67.30" width="158.10" height="3.00" fill="url(#g29)"/><rect x="28.70" y="69.30" width="158.10" height="3.00" fill="url(#g30)"/><rect x="28.70" y="71.30" width="158.10" height="3.00" fill="url(#g31)"/><rect x="28.70" y="73.30" width="158.10" height="3.00" fill="url(#g32)"/><rect x="28.70" y="75.30" width="158.10" height="3.00" fill="url(#g33)"/><rect x="28.70" y="77.30" width="158.10" height="3.00" fill="url(#g34)"/><rect x="28.70" y="79.30" width="158.10" height="3.00" fill="url(#g35)"/><rect x="28.70" y="81.30" width="158.10" height="3.00" fill="url(#g36)"/><rect x="28.70" y="83.30" width="158.10" height="3.00" fill="url(#g37)"/><rect x="28.70" y="85.30" width="158.10" height="3.00" fill="url(#g38)"/><rect x="28.70" y="87.30" width="158.10" height="3.00" fill="url(#g39)"/><rect x="28.70" y="89.30" width="158.10" height="3.00" fill="url(#g40)"/><rect x="28.70" y="91.30" width="158.10" height="3.00" fill="url(#g41)"/><rect x="28.70" y="93.30" width="158.10" height="3.00" fill="url(#g42)"/><rect x="28.70" y="95.30" width="158.10" height="3.00" fill="url(#g43)"/><rect x="28.70" y="97.30" width="158.10" height="3.00" fill="url(#g44)"/><rect x="28.70" y="99.30" width="158.10" height="3.00" fill="url(#g45)"/><rect x="28.70" y="101.30" width="158.10" height="3.00" fill="url(#g46)"/><rect x="28.70" y="103.30" width="158.10" height="3.00" fill="url(#g47)"/><rect x="28.70" y="105.30" width="158.10" height="3.00" fill="url(#g48)"/><rect x="28.70" y="107.30" width="158.10" height="3.00" fill="url(#g49)"/><rect x="28.70" y="109.30" width="158.10" height="3.00" fill="url(#g50)"/><rect x="28.70" y="111.30" width="158.10" height="3.00" fill="url(#g51)"/><rect x="28.70" y="113.30" width="158.10" height="3.00" fill="url(#g52)"/><rect x="28.70" y="115.30" width="158.10" height="3.00" fill="url(#g53)"/><rect x="28.70" y="117.30" width="158.10" height="3.00" fill="url(#g54)"/><rect x="28.70" y="119.30" width="158.10" height="3.00" fill="url(#g55)"/><rect x="28.70" y="121.30" width="158.10" height="3.00" fill="url(#g56)"/><rect x="28.70" y="123.30" width="158.10" height="3.00" fill="url(#g57)"/><rect x="28.70" y="125.30" width="158.10" height="0.30" fill="url(#g58)"/><path d="M28.70,53.48 L30.01,51.30 L31.74,48.45 L33.47,45.59 L35.22,42.73 L36.99,39.88 L38.80,37.02 L40.63,34.16 L42.49,31.30 L44.34,28.44 L46.19,25.59 L48.01,22.73 L49.80,19.87 L51.54,17.02 L53.25,14.16 L54.94,11.30" fill="none" stroke="#142410" stroke-width="0.95" stroke-opacity="0.92"/><path d="M28.70,125.60 L30.67,122.74 L32.72,119.88 L34.86,117.03 L37.13,114.17 L39.49,111.31 L41.90,108.45 L44.32,105.60 L46.71,102.74 L49.03,99.88 L51.29,97.02 L53.53,94.17 L55.75,91.31 L57.95,88.45 L60.12,85.59 L62.25,82.74 L64.36,79.88 L66.44,77.02 L68.50,74.16 L70.54,71.31 L72.54,68.45 L74.50,65.59 L76.41,62.73 L78.26,59.88 L80.04,57.02 L81.76,54.16 L83.44,51.30 L85.09,48.45 L86.71,45.59 L88.33,42.73 L89.95,39.88 L91.59,37.02 L93.24,34.16 L94.89,31.30 L96.51,28.44 L98.08,25.59 L99.59,22.73 L101.01,19.87 L102.33,17.02 L103.57,14.16 L104.75,11.30" fill="none" stroke="#142410" stroke-width="0.95" stroke-opacity="0.92"/><path d="M104.75,125.60 L107.11,122.74 L109.51,119.88 L111.96,117.03 L114.51,114.17 L117.13,111.31 L119.75,108.45 L122.33,105.60 L124.81,102.74 L127.13,99.88 L129.30,97.02 L131.39,94.17 L133.40,91.31 L135.35,88.45 L137.26,85.59 L139.15,82.74 L141.03,79.88 L142.90,77.02 L144.76,74.16 L146.60,71.31 L148.40,68.45 L150.16,65.59 L151.86,62.73 L153.51,59.88 L155.12,57.02 L156.72,54.16 L158.29,51.30 L159.80,48.45 L161.23,45.59 L162.56,42.73 L163.76,39.88 L164.82,37.02 L165.75,34.16 L166.62,31.30 L167.45,28.44 L168.31,25.59 L169.22,22.73 L170.24,19.87 L171.40,17.02 L172.67,14.16 L173.99,11.30" fill="none" stroke="#142410" stroke-width="0.95" stroke-opacity="0.92"/><rect x="28.70" y="11.30" width="158.10" height="114.30" fill="none" stroke="#2c3420" stroke-width="1.2"/><rect x="40.00" y="28.50" width="4.60" height="4.6" fill="#d8d8e6" stroke="#222" stroke-width="0.8"/><text x="42.30" y="31.90" font-size="3.20" text-anchor="middle" fill="#5a4a6a" font-weight="bold">8</text><rect x="68.30" y="65.40" width="6.20" height="4.6" fill="#d8d8e6" stroke="#222" stroke-width="0.8"/><text x="71.40" y="68.80" font-size="3.20" text-anchor="middle" fill="#5a4a6a" font-weight="bold">16</text><rect x="142.10" y="68.50" width="6.20" height="4.6" fill="#d8d8e6" stroke="#222" stroke-width="0.8"/><text x="145.20" y="71.90" font-size="3.20" text-anchor="middle" fill="#5a4a6a" font-weight="bold">24</text><circle cx="28.70" cy="11.30" r="1.3" fill="#7a1a1a"/><circle cx="186.80" cy="11.30" r="1.3" fill="#7a1a1a"/><circle cx="28.70" cy="125.60" r="1.3" fill="#7a1a1a"/><circle cx="186.80" cy="125.60" r="1.3" fill="#7a1a1a"/><ellipse cx="107.95" cy="68.45" rx="1.9" ry="1.4" fill="#2e200a"/><text x="104.15" y="69.65" font-size="3.40" text-anchor="middle" fill="#1a1a0a" font-weight="bold">5</text><line x1="28.70" y1="125.60" x2="28.70" y2="128.60" stroke="#333" stroke-width="0.7"/><text x="28.70" y="133.20" font-size="3.50" text-anchor="middle" fill="#1a1a1a" font-weight="bold">0.025</text><line x1="60.32" y1="125.60" x2="60.32" y2="128.60" stroke="#333" stroke-width="0.7"/><text x="60.32" y="133.20" font-size="3.50" text-anchor="middle" fill="#1a1a1a" font-weight="bold">0.04</text><line x1="91.94" y1="125.60" x2="91.94" y2="128.60" stroke="#333" stroke-width="0.7"/><text x="91.94" y="133.20" font-size="3.50" text-anchor="middle" fill="#1a1a1a" font-weight="bold">0.055</text><line x1="123.56" y1="125.60" x2="123.56" y2="128.60" stroke="#333" stroke-width="0.7"/><text x="123.56" y="133.20" font-size="3.50" text-anchor="middle" fill="#1a1a1a" font-weight="bold">0.07</text><line x1="155.18" y1="125.60" x2="155.18" y2="128.60" stroke="#333" stroke-width="0.7"/><text x="155.18" y="133.20" font-size="3.50" text-anchor="middle" fill="#1a1a1a" font-weight="bold">0.085</text><line x1="186.80" y1="125.60" x2="186.80" y2="128.60" stroke="#333" stroke-width="0.7"/><text x="186.80" y="133.20" font-size="3.50" text-anchor="middle" fill="#1a1a1a" font-weight="bold">0.1</text><line x1="24.70" y1="125.60" x2="28.70" y2="125.60" stroke="#333" stroke-width="0.7"/><text x="22.30" y="125.90" font-size="3.50" text-anchor="end" fill="#1a1a1a" font-weight="bold">0.02</text><line x1="24.70" y1="97.02" x2="28.70" y2="97.02" stroke="#333" stroke-width="0.7"/><text x="22.30" y="97.32" font-size="3.50" text-anchor="end" fill="#1a1a1a" font-weight="bold">0.03</text><line x1="24.70" y1="68.45" x2="28.70" y2="68.45" stroke="#333" stroke-width="0.7"/><text x="22.30" y="68.75" font-size="3.50" text-anchor="end" fill="#1a1a1a" font-weight="bold">0.04</text><line x1="24.70" y1="39.88" x2="28.70" y2="39.88" stroke="#333" stroke-width="0.7"/><text x="22.30" y="40.17" font-size="3.50" text-anchor="end" fill="#1a1a1a" font-weight="bold">0.05</text><line x1="24.70" y1="11.30" x2="28.70" y2="11.30" stroke="#333" stroke-width="0.7"/><text x="22.30" y="11.60" font-size="3.50" text-anchor="end" fill="#1a1a1a" font-weight="bold">0.06</text><text x="107.75" y="7.80" font-size="6.70" text-anchor="middle" fill="#1a1a1a" font-weight="normal" stroke="#1a1a1a" stroke-width="0.35" textLength="54.30" lengthAdjust="spacingAndGlyphs">Zeta potential (mV)</text><text x="107.75" y="142.40" font-size="5.20" text-anchor="middle" fill="#222" font-weight="normal" stroke="#222" stroke-width="0.15" textLength="51.80" lengthAdjust="spacingAndGlyphs">A: Chitosan Conc. (% w/v)</text><text x="9.25" y="67.60" font-size="5.20" text-anchor="middle" fill="#222" font-weight="bold" transform="rotate(-90 9.25 67.60)" textLength="54.00" lengthAdjust="spacingAndGlyphs">B: Dextran Conc. (% w/v)</text><rect x="215.30" y="9.10" width="156.70" height="3.00" fill="url(#g59)"/><rect x="215.30" y="11.10" width="156.70" height="3.00" fill="url(#g60)"/><rect x="215.30" y="13.10" width="156.70" height="3.00" fill="url(#g61)"/><rect x="215.30" y="15.10" width="156.70" height="3.00" fill="url(#g62)"/><rect x="215.30" y="17.10" width="156.70" height="3.00" fill="url(#g63)"/><rect x="215.30" y="19.10" width="156.70" height="3.00" fill="url(#g64)"/><rect x="215.30" y="21.10" width="156.70" height="3.00" fill="url(#g65)"/><rect x="215.30" y="23.10" width="156.70" height="3.00" fill="url(#g66)"/><rect x="215.30" y="25.10" width="156.70" height="3.00" fill="url(#g67)"/><rect x="215.30" y="27.10" width="156.70" height="3.00" fill="url(#g68)"/><rect x="215.30" y="29.10" width="156.70" height="3.00" fill="url(#g69)"/><rect x="215.30" y="31.10" width="156.70" height="3.00" fill="url(#g70)"/><rect x="215.30" y="33.10" width="156.70" height="3.00" fill="url(#g71)"/><rect x="215.30" y="35.10" width="156.70" height="3.00" fill="url(#g72)"/><rect x="215.30" y="37.10" width="156.70" height="3.00" fill="url(#g73)"/><rect x="215.30" y="39.10" width="156.70" height="3.00" fill="url(#g74)"/><rect x="215.30" y="41.10" width="156.70" height="3.00" fill="url(#g75)"/><rect x="215.30" y="43.10" width="156.70" height="3.00" fill="url(#g76)"/><rect x="215.30" y="45.10" width="156.70" height="3.00" fill="url(#g77)"/><rect x="215.30" y="47.10" width="156.70" height="3.00" fill="url(#g78)"/><rect x="215.30" y="49.10" width="156.70" height="3.00" fill="url(#g79)"/><rect x="215.30" y="51.10" width="156.70" height="3.00" fill="url(#g80)"/><rect x="215.30" y="53.10" width="156.70" height="3.00" fill="url(#g81)"/><rect x="215.30" y="55.10" width="156.70" height="3.00" fill="url(#g82)"/><rect x="215.30" y="57.10" width="156.70" height="3.00" fill="url(#g83)"/><rect x="215.30" y="59.10" width="156.70" height="3.00" fill="url(#g84)"/><rect x="215.30" y="61.10" width="156.70" height="3.00" fill="url(#g85)"/><rect x="215.30" y="63.10" width="156.70" height="3.00" fill="url(#g86)"/><rect x="215.30" y="65.10" width="156.70" height="3.00" fill="url(#g87)"/><rect x="215.30" y="67.10" width="156.70" height="3.00" fill="url(#g88)"/><rect x="215.30" y="69.10" width="156.70" height="3.00" fill="url(#g89)"/><rect x="215.30" y="71.10" width="156.70" height="3.00" fill="url(#g90)"/><rect x="215.30" y="73.10" width="156.70" height="3.00" fill="url(#g91)"/><rect x="215.30" y="75.10" width="156.70" height="3.00" fill="url(#g92)"/><rect x="215.30" y="77.10" width="156.70" height="3.00" fill="url(#g93)"/><rect x="215.30" y="79.10" width="156.70" height="3.00" fill="url(#g94)"/><rect x="215.30" y="81.10" width="156.70" height="3.00" fill="url(#g95)"/><rect x="215.30" y="83.10" width="156.70" height="3.00" fill="url(#g96)"/><rect x="215.30" y="85.10" width="156.70" height="3.00" fill="url(#g97)"/><rect x="215.30" y="87.10" width="156.70" height="3.00" fill="url(#g98)"/><rect x="215.30" y="89.10" width="156.70" height="3.00" fill="url(#g99)"/><rect x="215.30" y="91.10" width="156.70" height="3.00" fill="url(#g100)"/><rect x="215.30" y="93.10" width="156.70" height="3.00" fill="url(#g101)"/><rect x="215.30" y="95.10" width="156.70" height="3.00" fill="url(#g102)"/><rect x="215.30" y="97.10" width="156.70" height="3.00" fill="url(#g103)"/><rect x="215.30" y="99.10" width="156.70" height="3.00" fill="url(#g104)"/><rect x="215.30" y="101.10" width="156.70" height="3.00" fill="url(#g105)"/><rect x="215.30" y="103.10" width="156.70" height="3.00" fill="url(#g106)"/><rect x="215.30" y="105.10" width="156.70" height="3.00" fill="url(#g107)"/><rect x="215.30" y="107.10" width="156.70" height="3.00" fill="url(#g108)"/><rect x="215.30" y="109.10" width="156.70" height="3.00" fill="url(#g109)"/><rect x="215.30" y="111.10" width="156.70" height="3.00" fill="url(#g110)"/><rect x="215.30" y="113.10" width="156.70" height="3.00" fill="url(#g111)"/><rect x="215.30" y="115.10" width="156.70" height="3.00" fill="url(#g112)"/><rect x="215.30" y="117.10" width="156.70" height="3.00" fill="url(#g113)"/><rect x="215.30" y="119.10" width="156.70" height="3.00" fill="url(#g114)"/><rect x="215.30" y="121.10" width="156.70" height="3.00" fill="url(#g115)"/><rect x="215.30" y="123.10" width="156.70" height="3.00" fill="url(#g116)"/><rect x="215.30" y="125.10" width="156.70" height="0.20" fill="url(#g117)"/><path d="M220.94,125.30 L219.68,122.39 L218.43,119.49 L217.18,116.58 L215.94,113.68 L215.30,112.02" fill="none" stroke="#142410" stroke-width="0.95" stroke-opacity="0.92"/><path d="M248.36,125.30 L247.20,122.39 L246.04,119.49 L244.89,116.58 L243.70,113.68 L242.49,110.77 L241.29,107.87 L240.13,104.97 L239.05,102.06 L238.07,99.16 L237.12,96.25 L236.19,93.34 L235.31,90.44 L234.49,87.53 L233.76,84.63 L233.15,81.72 L232.67,78.82 L232.21,75.91 L231.77,73.01 L231.38,70.10 L231.05,67.20 L230.80,64.29 L230.67,61.39 L230.66,58.48 L230.66,55.58 L230.66,52.67 L230.66,49.77 L230.66,46.86 L230.66,43.96 L230.66,41.05 L230.67,38.15 L230.76,35.24 L230.92,32.34 L231.13,29.44 L231.38,26.53 L231.68,23.62 L231.99,20.72 L232.38,17.81 L232.95,14.91 L233.65,12.00 L234.42,9.10" fill="none" stroke="#142410" stroke-width="0.95" stroke-opacity="0.92"/><path d="M281.74,125.30 L280.10,122.39 L278.50,119.49 L276.95,116.58 L275.42,113.68 L273.89,110.77 L272.39,107.87 L270.96,104.97 L269.62,102.06 L268.40,99.16 L267.25,96.25 L266.14,93.34 L265.09,90.44 L264.09,87.53 L263.16,84.63 L262.31,81.72 L261.53,78.82 L260.76,75.91 L260.00,73.01 L259.29,70.10 L258.65,67.20 L258.13,64.29 L257.74,61.39 L257.49,58.48 L257.29,55.58 L257.10,52.67 L256.93,49.77 L256.81,46.86 L256.72,43.96 L256.67,41.05 L256.69,38.15 L256.77,35.24 L256.93,32.34 L257.14,29.44 L257.39,26.53 L257.68,23.62 L258.00,20.72 L258.40,17.81 L259.01,14.91 L259.77,12.00 L260.59,9.10" fill="none" stroke="#142410" stroke-width="0.95" stroke-opacity="0.92"/><path d="M325.30,125.30 L322.19,122.39 L319.30,119.49 L316.78,116.58 L314.56,113.68 L312.53,110.77 L310.63,107.87 L308.83,104.97 L307.10,102.06 L305.39,99.16 L303.67,96.25 L301.97,93.34 L300.31,90.44 L298.75,87.53 L297.31,84.63 L296.04,81.72 L294.95,78.82 L293.91,75.91 L292.92,73.01 L291.99,70.10 L291.18,67.20 L290.52,64.29 L290.04,61.39 L289.75,58.48 L289.51,55.58 L289.29,52.67 L289.10,49.77 L288.95,46.86 L288.85,43.96 L288.80,41.05 L288.79,38.15 L288.79,35.24 L288.79,32.34 L288.79,29.44 L288.79,26.53 L288.79,23.62 L288.79,20.72 L288.87,17.81 L289.16,14.91 L289.58,12.00 L290.05,9.10" fill="none" stroke="#142410" stroke-width="0.95" stroke-opacity="0.92"/><path d="M372.00,108.95 L370.41,107.87 L365.76,104.97 L361.18,102.06 L356.94,99.16 L353.42,96.25 L350.29,93.34 L347.56,90.44 L345.18,87.53 L343.05,84.63 L341.05,81.72 L339.06,78.82 L337.02,75.91 L335.17,73.01 L333.81,70.10 L332.92,67.20 L332.22,64.29 L331.64,61.39 L331.08,58.48 L330.47,55.58 L329.75,52.67 L328.94,49.77 L328.16,46.86 L327.51,43.96 L327.10,41.05 L326.95,38.15 L326.84,35.24 L326.74,32.34 L326.67,29.44 L326.61,26.53 L326.57,23.62 L326.56,20.72 L326.67,17.81 L327.10,14.91 L327.73,12.00 L328.44,9.10" fill="none" stroke="#142410" stroke-width="0.95" stroke-opacity="0.92"/><rect x="215.30" y="9.10" width="156.70" height="116.20" fill="none" stroke="#2c3420" stroke-width="1.2"/><rect x="215.20" y="114.00" width="4.60" height="4.6" fill="#d8d8e6" stroke="#222" stroke-width="0.8"/><text x="217.50" y="117.40" font-size="3.20" text-anchor="middle" fill="#5a4a6a" font-weight="bold">0</text><rect x="227.90" y="67.00" width="6.20" height="4.6" fill="#d8d8e6" stroke="#222" stroke-width="0.8"/><text x="231.00" y="70.40" font-size="3.20" text-anchor="middle" fill="#5a4a6a" font-weight="bold">10</text><rect x="256.10" y="68.60" width="6.20" height="4.6" fill="#d8d8e6" stroke="#222" stroke-width="0.8"/><text x="259.20" y="72.00" font-size="3.20" text-anchor="middle" fill="#5a4a6a" font-weight="bold">20</text><rect x="290.50" y="71.50" width="6.20" height="4.6" fill="#d8d8e6" stroke="#222" stroke-width="0.8"/><text x="293.60" y="74.90" font-size="3.20" text-anchor="middle" fill="#5a4a6a" font-weight="bold">30</text><rect x="330.60" y="64.50" width="6.20" height="4.6" fill="#d8d8e6" stroke="#222" stroke-width="0.8"/><text x="333.70" y="67.90" font-size="3.20" text-anchor="middle" fill="#5a4a6a" font-weight="bold">40</text><circle cx="215.30" cy="9.10" r="1.3" fill="#7a1a1a"/><circle cx="372.00" cy="9.10" r="1.3" fill="#7a1a1a"/><circle cx="215.30" cy="125.30" r="1.3" fill="#7a1a1a"/><circle cx="372.00" cy="125.30" r="1.3" fill="#7a1a1a"/><ellipse cx="293.85" cy="67.20" rx="1.9" ry="1.4" fill="#2e200a"/><text x="290.05" y="68.40" font-size="3.40" text-anchor="middle" fill="#1a1a0a" font-weight="bold">5</text><line x1="215.30" y1="125.30" x2="215.30" y2="128.30" stroke="#333" stroke-width="0.7"/><text x="215.30" y="132.90" font-size="3.50" text-anchor="middle" fill="#1a1a1a" font-weight="bold">0.025</text><line x1="246.64" y1="125.30" x2="246.64" y2="128.30" stroke="#333" stroke-width="0.7"/><text x="246.64" y="132.90" font-size="3.50" text-anchor="middle" fill="#1a1a1a" font-weight="bold">0.04</text><line x1="277.98" y1="125.30" x2="277.98" y2="128.30" stroke="#333" stroke-width="0.7"/><text x="277.98" y="132.90" font-size="3.50" text-anchor="middle" fill="#1a1a1a" font-weight="bold">0.055</text><line x1="309.32" y1="125.30" x2="309.32" y2="128.30" stroke="#333" stroke-width="0.7"/><text x="309.32" y="132.90" font-size="3.50" text-anchor="middle" fill="#1a1a1a" font-weight="bold">0.07</text><line x1="340.66" y1="125.30" x2="340.66" y2="128.30" stroke="#333" stroke-width="0.7"/><text x="340.66" y="132.90" font-size="3.50" text-anchor="middle" fill="#1a1a1a" font-weight="bold">0.085</text><line x1="372.00" y1="125.30" x2="372.00" y2="128.30" stroke="#333" stroke-width="0.7"/><text x="372.00" y="132.90" font-size="3.50" text-anchor="middle" fill="#1a1a1a" font-weight="bold">0.1</text><line x1="211.30" y1="125.30" x2="215.30" y2="125.30" stroke="#333" stroke-width="0.7"/><text x="207.70" y="125.60" font-size="3.50" text-anchor="middle" fill="#1a1a1a" font-weight="bold">1</text><line x1="211.30" y1="96.25" x2="215.30" y2="96.25" stroke="#333" stroke-width="0.7"/><text x="207.70" y="96.55" font-size="3.50" text-anchor="middle" fill="#1a1a1a" font-weight="bold">2</text><line x1="211.30" y1="67.20" x2="215.30" y2="67.20" stroke="#333" stroke-width="0.7"/><text x="207.70" y="67.50" font-size="3.50" text-anchor="middle" fill="#1a1a1a" font-weight="bold">3</text><line x1="211.30" y1="38.15" x2="215.30" y2="38.15" stroke="#333" stroke-width="0.7"/><text x="207.70" y="38.45" font-size="3.50" text-anchor="middle" fill="#1a1a1a" font-weight="bold">4</text><line x1="211.30" y1="9.10" x2="215.30" y2="9.10" stroke="#333" stroke-width="0.7"/><text x="207.70" y="9.40" font-size="3.50" text-anchor="middle" fill="#1a1a1a" font-weight="bold">5</text><text x="293.65" y="6.80" font-size="6.70" text-anchor="middle" fill="#1a1a1a" font-weight="normal" stroke="#1a1a1a" stroke-width="0.35" textLength="54.30" lengthAdjust="spacingAndGlyphs">Zeta potential (mV)</text><text x="293.65" y="142.40" font-size="5.20" text-anchor="middle" fill="#222" font-weight="normal" stroke="#222" stroke-width="0.15" textLength="51.50" lengthAdjust="spacingAndGlyphs">A: Chitosan Conc. (% w/v)</text><text x="200.15" y="65.80" font-size="5.20" text-anchor="middle" fill="#222" font-weight="bold" transform="rotate(-90 200.15 65.80)" textLength="50.50" lengthAdjust="spacingAndGlyphs">C: Amount of drug (mg)</text><rect x="406.60" y="11.20" width="158.50" height="3.00" fill="url(#g118)"/><rect x="406.60" y="13.20" width="158.50" height="3.00" fill="url(#g119)"/><rect x="406.60" y="15.20" width="158.50" height="3.00" fill="url(#g120)"/><rect x="406.60" y="17.20" width="158.50" height="3.00" fill="url(#g121)"/><rect x="406.60" y="19.20" width="158.50" height="3.00" fill="url(#g122)"/><rect x="406.60" y="21.20" width="158.50" height="3.00" fill="url(#g123)"/><rect x="406.60" y="23.20" width="158.50" height="3.00" fill="url(#g124)"/><rect x="406.60" y="25.20" width="158.50" height="3.00" fill="url(#g125)"/><rect x="406.60" y="27.20" width="158.50" height="3.00" fill="url(#g126)"/><rect x="406.60" y="29.20" width="158.50" height="3.00" fill="url(#g127)"/><rect x="406.60" y="31.20" width="158.50" height="3.00" fill="url(#g128)"/><rect x="406.60" y="33.20" width="158.50" height="3.00" fill="url(#g129)"/><rect x="406.60" y="35.20" width="158.50" height="3.00" fill="url(#g130)"/><rect x="406.60" y="37.20" width="158.50" height="3.00" fill="url(#g131)"/><rect x="406.60" y="39.20" width="158.50" height="3.00" fill="url(#g132)"/><rect x="406.60" y="41.20" width="158.50" height="3.00" fill="url(#g133)"/><rect x="406.60" y="43.20" width="158.50" height="3.00" fill="url(#g134)"/><rect x="406.60" y="45.20" width="158.50" height="3.00" fill="url(#g135)"/><rect x="406.60" y="47.20" width="158.50" height="3.00" fill="url(#g136)"/><rect x="406.60" y="49.20" width="158.50" height="3.00" fill="url(#g137)"/><rect x="406.60" y="51.20" width="158.50" height="3.00" fill="url(#g138)"/><rect x="406.60" y="53.20" width="158.50" height="3.00" fill="url(#g139)"/><rect x="406.60" y="55.20" width="158.50" height="3.00" fill="url(#g140)"/><rect x="406.60" y="57.20" width="158.50" height="3.00" fill="url(#g141)"/><rect x="406.60" y="59.20" width="158.50" height="3.00" fill="url(#g142)"/><rect x="406.60" y="61.20" width="158.50" height="3.00" fill="url(#g143)"/><rect x="406.60" y="63.20" width="158.50" height="3.00" fill="url(#g144)"/><rect x="406.60" y="65.20" width="158.50" height="3.00" fill="url(#g145)"/><rect x="406.60" y="67.20" width="158.50" height="3.00" fill="url(#g146)"/><rect x="406.60" y="69.20" width="158.50" height="3.00" fill="url(#g147)"/><rect x="406.60" y="71.20" width="158.50" height="3.00" fill="url(#g148)"/><rect x="406.60" y="73.20" width="158.50" height="3.00" fill="url(#g149)"/><rect x="406.60" y="75.20" width="158.50" height="3.00" fill="url(#g150)"/><rect x="406.60" y="77.20" width="158.50" height="3.00" fill="url(#g151)"/><rect x="406.60" y="79.20" width="158.50" height="3.00" fill="url(#g152)"/><rect x="406.60" y="81.20" width="158.50" height="3.00" fill="url(#g153)"/><rect x="406.60" y="83.20" width="158.50" height="3.00" fill="url(#g154)"/><rect x="406.60" y="85.20" width="158.50" height="3.00" fill="url(#g155)"/><rect x="406.60" y="87.20" width="158.50" height="3.00" fill="url(#g156)"/><rect x="406.60" y="89.20" width="158.50" height="3.00" fill="url(#g157)"/><rect x="406.60" y="91.20" width="158.50" height="3.00" fill="url(#g158)"/><rect x="406.60" y="93.20" width="158.50" height="3.00" fill="url(#g159)"/><rect x="406.60" y="95.20" width="158.50" height="3.00" fill="url(#g160)"/><rect x="406.60" y="97.20" width="158.50" height="3.00" fill="url(#g161)"/><rect x="406.60" y="99.20" width="158.50" height="3.00" fill="url(#g162)"/><rect x="406.60" y="101.20" width="158.50" height="3.00" fill="url(#g163)"/><rect x="406.60" y="103.20" width="158.50" height="3.00" fill="url(#g164)"/><rect x="406.60" y="105.20" width="158.50" height="3.00" fill="url(#g165)"/><rect x="406.60" y="107.20" width="158.50" height="3.00" fill="url(#g166)"/><rect x="406.60" y="109.20" width="158.50" height="3.00" fill="url(#g167)"/><rect x="406.60" y="111.20" width="158.50" height="3.00" fill="url(#g168)"/><rect x="406.60" y="113.20" width="158.50" height="3.00" fill="url(#g169)"/><rect x="406.60" y="115.20" width="158.50" height="3.00" fill="url(#g170)"/><rect x="406.60" y="117.20" width="158.50" height="3.00" fill="url(#g171)"/><rect x="406.60" y="119.20" width="158.50" height="3.00" fill="url(#g172)"/><rect x="406.60" y="121.20" width="158.50" height="3.00" fill="url(#g173)"/><rect x="406.60" y="123.20" width="158.50" height="3.00" fill="url(#g174)"/><rect x="406.60" y="125.20" width="158.50" height="0.40" fill="url(#g175)"/><path d="M406.60,76.22 L406.72,76.03 L408.15,74.12 L409.52,72.21 L410.81,70.31 L412.01,68.40 L413.10,66.49 L414.06,64.59 L414.89,62.68 L415.55,60.77 L416.08,58.87 L416.57,56.96 L417.04,55.05 L417.46,53.15 L417.83,51.24 L418.14,49.33 L418.35,47.43 L418.47,45.52 L418.48,43.61 L418.37,41.71 L418.18,39.80 L417.89,37.89 L417.54,35.99 L417.12,34.08 L416.64,32.17 L416.12,30.27 L415.57,28.36 L414.99,26.45 L414.40,24.55 L413.68,22.64 L412.78,20.73 L411.74,18.83 L410.58,16.92 L409.31,15.01 L407.98,13.11 L406.60,11.20" fill="none" stroke="#142410" stroke-width="0.95" stroke-opacity="0.92"/><path d="M431.80,125.60 L434.35,123.69 L436.74,121.79 L438.91,119.88 L440.96,117.97 L442.93,116.07 L444.89,114.16 L446.88,112.25 L448.96,110.35 L451.15,108.44 L453.39,106.53 L455.68,104.63 L457.98,102.72 L460.28,100.81 L462.57,98.91 L464.91,97.00 L467.27,95.09 L469.59,93.19 L471.85,91.28 L473.98,89.37 L476.03,87.47 L478.02,85.56 L479.92,83.65 L481.68,81.75 L483.30,79.84 L484.82,77.93 L486.26,76.03 L487.61,74.12 L488.88,72.21 L490.10,70.31 L491.27,68.40 L492.38,66.49 L493.45,64.59 L494.47,62.68 L495.52,60.77 L496.60,58.87 L497.62,56.96 L498.50,55.05 L499.15,53.15 L499.54,51.24 L499.89,49.33 L500.18,47.43 L500.41,45.52 L500.55,43.61 L500.59,41.71 L500.53,39.80 L500.40,37.89 L500.22,35.99 L499.97,34.08 L499.69,32.17 L499.37,30.27 L499.04,28.36 L498.69,26.45 L498.32,24.55 L497.86,22.64 L497.31,20.73 L496.68,18.83 L495.99,16.92 L495.24,15.01 L494.45,13.11 L493.62,11.20" fill="none" stroke="#142410" stroke-width="0.95" stroke-opacity="0.92"/><path d="M506.30,125.60 L509.09,123.69 L511.71,121.79 L514.12,119.88 L516.41,117.97 L518.62,116.07 L520.81,114.16 L523.04,112.25 L525.36,110.35 L527.78,108.44 L530.27,106.53 L532.79,104.63 L535.33,102.72 L537.86,100.81 L540.39,98.91 L542.97,97.00 L545.57,95.09 L548.13,93.19 L550.62,91.28 L552.99,89.37 L555.28,87.47 L557.51,85.56 L559.64,83.65 L561.64,81.75 L563.50,79.84 L565.10,78.11" fill="none" stroke="#142410" stroke-width="0.95" stroke-opacity="0.92"/><rect x="406.60" y="11.20" width="158.50" height="114.40" fill="none" stroke="#2c3420" stroke-width="1.2"/><rect x="414.80" y="41.00" width="6.20" height="4.6" fill="#d8d8e6" stroke="#222" stroke-width="0.8"/><text x="417.90" y="44.40" font-size="3.20" text-anchor="middle" fill="#5a4a6a" font-weight="bold">24</text><rect x="479.90" y="74.80" width="6.20" height="4.6" fill="#d8d8e6" stroke="#222" stroke-width="0.8"/><text x="483.00" y="78.20" font-size="3.20" text-anchor="middle" fill="#5a4a6a" font-weight="bold">16</text><rect x="535.10" y="99.80" width="4.60" height="4.6" fill="#d8d8e6" stroke="#222" stroke-width="0.8"/><text x="537.40" y="103.20" font-size="3.20" text-anchor="middle" fill="#5a4a6a" font-weight="bold">8</text><circle cx="406.60" cy="11.20" r="1.3" fill="#7a1a1a"/><circle cx="565.10" cy="11.20" r="1.3" fill="#7a1a1a"/><circle cx="406.60" cy="125.60" r="1.3" fill="#7a1a1a"/><circle cx="565.10" cy="125.60" r="1.3" fill="#7a1a1a"/><ellipse cx="486.05" cy="68.40" rx="1.9" ry="1.4" fill="#2e200a"/><text x="482.25" y="69.60" font-size="3.40" text-anchor="middle" fill="#1a1a0a" font-weight="bold">5</text><line x1="406.60" y1="125.60" x2="406.60" y2="128.60" stroke="#333" stroke-width="0.7"/><text x="406.60" y="133.20" font-size="3.50" text-anchor="middle" fill="#1a1a1a" font-weight="bold">0.02</text><line x1="446.23" y1="125.60" x2="446.23" y2="128.60" stroke="#333" stroke-width="0.7"/><text x="446.23" y="133.20" font-size="3.50" text-anchor="middle" fill="#1a1a1a" font-weight="bold">0.03</text><line x1="485.85" y1="125.60" x2="485.85" y2="128.60" stroke="#333" stroke-width="0.7"/><text x="485.85" y="133.20" font-size="3.50" text-anchor="middle" fill="#1a1a1a" font-weight="bold">0.04</text><line x1="525.48" y1="125.60" x2="525.48" y2="128.60" stroke="#333" stroke-width="0.7"/><text x="525.48" y="133.20" font-size="3.50" text-anchor="middle" fill="#1a1a1a" font-weight="bold">0.05</text><line x1="565.10" y1="125.60" x2="565.10" y2="128.60" stroke="#333" stroke-width="0.7"/><text x="565.10" y="133.20" font-size="3.50" text-anchor="middle" fill="#1a1a1a" font-weight="bold">0.06</text><line x1="402.60" y1="125.60" x2="406.60" y2="125.60" stroke="#333" stroke-width="0.7"/><text x="399.00" y="125.90" font-size="3.50" text-anchor="middle" fill="#1a1a1a" font-weight="bold">1</text><line x1="402.60" y1="97.00" x2="406.60" y2="97.00" stroke="#333" stroke-width="0.7"/><text x="399.00" y="97.30" font-size="3.50" text-anchor="middle" fill="#1a1a1a" font-weight="bold">2</text><line x1="402.60" y1="68.40" x2="406.60" y2="68.40" stroke="#333" stroke-width="0.7"/><text x="399.00" y="68.70" font-size="3.50" text-anchor="middle" fill="#1a1a1a" font-weight="bold">3</text><line x1="402.60" y1="39.80" x2="406.60" y2="39.80" stroke="#333" stroke-width="0.7"/><text x="399.00" y="40.10" font-size="3.50" text-anchor="middle" fill="#1a1a1a" font-weight="bold">4</text><line x1="402.60" y1="11.20" x2="406.60" y2="11.20" stroke="#333" stroke-width="0.7"/><text x="399.00" y="11.50" font-size="3.50" text-anchor="middle" fill="#1a1a1a" font-weight="bold">5</text><text x="485.85" y="8.15" font-size="6.70" text-anchor="middle" fill="#1a1a1a" font-weight="normal" stroke="#1a1a1a" stroke-width="0.35" textLength="54.30" lengthAdjust="spacingAndGlyphs">Zeta potential (mV)</text><text x="485.85" y="142.40" font-size="5.20" text-anchor="middle" fill="#222" font-weight="normal" stroke="#222" stroke-width="0.15" textLength="48.90" lengthAdjust="spacingAndGlyphs">B: Dextran Conc. (% w/v)</text><text x="388.75" y="66.50" font-size="5.20" text-anchor="middle" fill="#222" font-weight="bold" transform="rotate(-90 388.75 66.50)" textLength="52.00" lengthAdjust="spacingAndGlyphs">C: Amount of drug (mg)</text><path d="M22.40,168.20L104.00,151.30M104.00,151.30L179.40,170.80M23.38,184.71L104.00,166.36M104.00,166.36L178.37,187.38M24.36,201.21L104.00,181.42M104.00,181.42L177.33,203.96M25.34,217.89L104.00,196.64M104.00,196.64L176.29,220.72M26.34,234.75L104.00,212.02M104.00,212.02L175.23,237.66M38.72,164.82L41.87,230.21M55.04,161.44L57.40,225.66M71.36,158.06L72.94,221.11M87.68,154.68L88.47,216.56M122.85,156.18L121.81,218.43M141.70,161.05L139.62,224.84M160.55,165.93L157.42,231.25M22.40,168.20L27.60,256.00M104.00,151.30L104.00,231.40M179.40,170.80L173.90,259.00" stroke="#222" stroke-width="0.85" fill="none"/><polygon points="27.60,256.00 104.00,231.40 173.90,259.00 96.30,292.30" fill="#f0e812" stroke="#3a3410" stroke-width="0.7"/><path d="M52.95,269.39 L52.28,268.48 L51.40,267.27 L50.53,266.07 L49.66,264.87 L48.80,263.67 L47.95,262.47 L47.12,261.27 L46.30,260.07 L45.48,258.88 L44.66,257.70 L43.82,256.52 L42.96,255.35 L42.08,254.20 L41.19,253.05 L40.28,251.92" fill="none" stroke="#48ae80" stroke-width="0.8"/><path d="M96.30,292.30 L95.55,290.98 L94.83,289.65 L94.17,288.30 L93.56,286.94 L93.00,285.56 L92.46,284.18 L91.93,282.81 L91.37,281.44 L90.79,280.10 L90.17,278.78 L89.54,277.46 L88.91,276.16 L88.26,274.86 L87.59,273.58 L86.91,272.31 L86.21,271.05 L85.50,269.81 L84.78,268.57 L84.05,267.34 L83.30,266.12 L82.53,264.92 L81.73,263.73 L80.91,262.56 L80.04,261.40 L79.16,260.26 L78.24,259.13 L77.32,258.02 L76.38,256.91 L75.43,255.80 L74.49,254.70 L73.56,253.60 L72.63,252.51 L71.70,251.42 L70.75,250.33 L69.78,249.26 L68.78,248.21 L67.73,247.17 L66.64,246.16 L65.51,245.15 L64.35,244.17" fill="none" stroke="#3a9e62" stroke-width="0.8"/><path d="M133.63,276.28 L133.06,274.98 L132.50,273.69 L131.97,272.38 L131.48,271.07 L131.03,269.75 L130.58,268.43 L130.11,267.13 L129.59,265.85 L128.99,264.62 L128.31,263.42 L127.59,262.24 L126.84,261.09 L126.06,259.95 L125.25,258.82 L124.43,257.70 L123.61,256.59 L122.79,255.49 L121.96,254.39 L121.11,253.31 L120.25,252.23 L119.36,251.17 L118.45,250.12 L117.51,249.09 L116.55,248.07 L115.59,247.05 L114.61,246.05 L113.60,245.05 L112.56,244.08 L111.46,243.13 L110.30,242.20 L109.07,241.30 L107.78,240.43 L106.45,239.56 L105.11,238.71 L103.78,237.85 L102.48,236.99 L101.23,236.11 L100.05,235.22 L98.91,234.31 L97.81,233.39" fill="none" stroke="#e8843a" stroke-width="0.8"/><path d="M25.50,230.00 Q62.00,191.00 104.00,163.80 L179.40,179.60 Q133.00,192.50 95.30,232.80 Z" fill="url(#s1g)"/><path d="M25.50,230.00 Q62.00,191.00 104.00,163.80 L179.40,179.60 Q133.00,192.50 95.30,232.80 Z" fill="url(#dots1)" mask="url(#m1)"/><circle cx="99.5" cy="193.9" r="0.9" fill="#9a2a2a"/><circle cx="179.0" cy="179.6" r="0.9" fill="#9a2a2a"/><circle cx="95.3" cy="232.6" r="0.9" fill="#9a2a2a"/><circle cx="104.0" cy="164.2" r="0.9" fill="#9a2a2a"/><text x="25.60" y="259.80" font-size="4.30" text-anchor="end" fill="#1a1a1a" font-weight="bold" textLength="6.69" lengthAdjust="spacingAndGlyphs">0.06</text><text x="42.78" y="268.88" font-size="4.30" text-anchor="end" fill="#1a1a1a" font-weight="bold" textLength="6.69" lengthAdjust="spacingAndGlyphs">0.05</text><text x="59.95" y="277.95" font-size="4.30" text-anchor="end" fill="#1a1a1a" font-weight="bold" textLength="6.69" lengthAdjust="spacingAndGlyphs">0.04</text><text x="77.13" y="287.03" font-size="4.30" text-anchor="end" fill="#1a1a1a" font-weight="bold" textLength="6.69" lengthAdjust="spacingAndGlyphs">0.03</text><text x="94.30" y="296.10" font-size="4.30" text-anchor="end" fill="#1a1a1a" font-weight="bold" textLength="6.69" lengthAdjust="spacingAndGlyphs">0.02</text><text x="97.50" y="296.50" font-size="4.30" text-anchor="start" fill="#1a1a1a" font-weight="bold" textLength="8.61" lengthAdjust="spacingAndGlyphs">0.025</text><text x="113.02" y="289.84" font-size="4.30" text-anchor="start" fill="#1a1a1a" font-weight="bold" textLength="6.69" lengthAdjust="spacingAndGlyphs">0.04</text><text x="128.54" y="283.18" font-size="4.30" text-anchor="start" fill="#1a1a1a" font-weight="bold" textLength="8.61" lengthAdjust="spacingAndGlyphs">0.055</text><text x="144.06" y="276.52" font-size="4.30" text-anchor="start" fill="#1a1a1a" font-weight="bold" textLength="6.69" lengthAdjust="spacingAndGlyphs">0.07</text><text x="159.58" y="269.86" font-size="4.30" text-anchor="start" fill="#1a1a1a" font-weight="bold" textLength="8.61" lengthAdjust="spacingAndGlyphs">0.085</text><text x="175.10" y="263.20" font-size="4.30" text-anchor="start" fill="#1a1a1a" font-weight="bold" textLength="4.78" lengthAdjust="spacingAndGlyphs">0.1</text><text x="20.50" y="166.60" font-size="4.00" text-anchor="middle" fill="#222" font-weight="bold" transform="rotate(-90 20.50 166.60)">60</text><text x="21.48" y="183.11" font-size="4.00" text-anchor="middle" fill="#222" font-weight="bold" transform="rotate(-90 21.48 183.11)">40</text><text x="22.46" y="199.61" font-size="4.00" text-anchor="middle" fill="#222" font-weight="bold" transform="rotate(-90 22.46 199.61)">20</text><text x="23.44" y="216.29" font-size="4.00" text-anchor="middle" fill="#222" font-weight="bold" transform="rotate(-90 23.44 216.29)">0</text><text x="24.44" y="233.15" font-size="4.00" text-anchor="middle" fill="#222" font-weight="bold" transform="rotate(-90 24.44 233.15)">-20</text><text x="6.10" y="290.00" font-size="6.00" text-anchor="start" fill="#2a2a2a" font-weight="bold" textLength="53.30" lengthAdjust="spacingAndGlyphs">B: Dextran Conc. (% w/v)</text><text x="133.40" y="293.20" font-size="6.00" text-anchor="start" fill="#2a2a2a" font-weight="bold" textLength="55.40" lengthAdjust="spacingAndGlyphs">A: Chitosan Conc. (% w/v)</text><text x="10.90" y="210.00" font-size="5.80" text-anchor="middle" fill="#222" font-weight="bold" transform="rotate(-90 10.90 210.00)" textLength="47.80" lengthAdjust="spacingAndGlyphs">Zeta potential (mV)</text><path d="M212.60,168.20L294.20,151.30M294.20,151.30L369.60,170.80M213.58,184.71L294.20,166.36M294.20,166.36L368.57,187.38M214.56,201.21L294.20,181.42M294.20,181.42L367.53,203.96M215.54,217.89L294.20,196.64M294.20,196.64L366.49,220.72M216.54,234.75L294.20,212.02M294.20,212.02L365.43,237.66M228.92,164.82L232.07,230.21M245.24,161.44L247.60,225.66M261.56,158.06L263.14,221.11M277.88,154.68L278.67,216.56M313.05,156.18L312.01,218.43M331.90,161.05L329.82,224.84M350.75,165.93L347.62,231.25M212.60,168.20L217.80,256.00M294.20,151.30L294.20,231.40M369.60,170.80L364.10,259.00" stroke="#222" stroke-width="0.85" fill="none"/><polygon points="217.80,256.00 294.20,231.40 364.10,259.00 286.50,292.30" fill="#f0e812" stroke="#3a3410" stroke-width="0.7"/><path d="M289.29,291.10 L286.95,290.47 L284.62,289.83 L282.28,289.19 L279.95,288.54 L278.65,288.15" fill="none" stroke="#3aa0b0" stroke-width="0.8"/><path d="M302.87,285.27 L300.57,284.66 L298.28,284.04 L295.98,283.41 L293.67,282.79 L291.35,282.17 L289.04,281.55 L286.74,280.91 L284.48,280.26 L282.28,279.58 L280.09,278.89 L277.91,278.20 L275.75,277.49 L273.63,276.77 L271.55,276.03 L269.53,275.27 L267.57,274.47 L265.62,273.68 L263.69,272.88 L261.77,272.07 L259.89,271.24 L258.05,270.40 L256.26,269.54 L254.53,268.65 L252.81,267.77 L251.09,266.88 L249.37,266.00 L247.65,265.11 L245.93,264.22 L244.21,263.34 L242.50,262.45 L240.82,261.55 L239.18,260.63 L237.56,259.71 L235.97,258.79 L234.39,257.85 L232.82,256.92 L231.29,255.97 L229.85,254.99 L228.47,254.00 L227.12,253.00" fill="none" stroke="#3a9a70" stroke-width="0.8"/><path d="M319.40,278.18 L316.86,277.71 L314.34,277.23 L311.84,276.73 L309.35,276.23 L306.87,275.72 L304.40,275.20 L301.97,274.66 L299.58,274.10 L297.25,273.51 L294.95,272.91 L292.68,272.29 L290.43,271.66 L288.21,271.01 L286.03,270.35 L283.88,269.68 L281.77,268.98 L279.67,268.28 L277.57,267.58 L275.49,266.87 L273.45,266.14 L271.47,265.39 L269.55,264.61 L267.71,263.81 L265.88,263.00 L264.06,262.18 L262.26,261.36 L260.47,260.53 L258.70,259.70 L256.95,258.86 L255.23,258.00 L253.55,257.14 L251.90,256.26 L250.28,255.38 L248.68,254.49 L247.09,253.59 L245.52,252.69 L243.99,251.78 L242.56,250.83 L241.21,249.87 L239.88,248.89" fill="none" stroke="#3c9a3a" stroke-width="0.8"/><path d="M340.98,268.92 L337.69,268.83 L334.53,268.67 L331.54,268.43 L328.71,268.13 L325.97,267.78 L323.29,267.39 L320.67,266.98 L318.08,266.55 L315.50,266.11 L312.92,265.67 L310.34,265.22 L307.80,264.76 L305.29,264.27 L302.85,263.76 L300.49,263.21 L298.22,262.62 L295.98,262.02 L293.75,261.41 L291.57,260.78 L289.44,260.13 L287.38,259.45 L285.41,258.73 L283.54,257.98 L281.69,257.22 L279.85,256.46 L278.02,255.69 L276.22,254.91 L274.44,254.12 L272.68,253.32 L270.95,252.52 L269.22,251.71 L267.48,250.91 L265.75,250.10 L264.02,249.30 L262.29,248.49 L260.56,247.68 L258.86,246.87 L257.27,246.01 L255.75,245.14 L254.24,244.27" fill="none" stroke="#6aa830" stroke-width="0.8"/><path d="M354.27,255.12 L352.83,255.19 L348.78,255.44 L344.78,255.66 L340.94,255.80 L337.46,255.79 L334.17,255.69 L331.08,255.51 L328.17,255.24 L325.37,254.93 L322.65,254.58 L319.93,254.23 L317.18,253.88 L314.53,253.49 L312.12,253.00 L309.95,252.42 L307.87,251.80 L305.84,251.17 L303.82,250.52 L301.79,249.88 L299.69,249.26 L297.55,248.66 L295.43,248.04 L293.38,247.41 L291.44,246.72 L289.62,246.00 L287.83,245.26 L286.05,244.53 L284.27,243.79 L282.50,243.04 L280.75,242.30 L279.00,241.55 L277.32,240.77 L275.79,239.95 L274.36,239.10 L272.96,238.24" fill="none" stroke="#e0602a" stroke-width="0.8"/><path d="M216.00,217.20 Q251.90,182.00 294.00,160.20 Q332.00,168.50 368.00,191.00 L285.00,252.60 Z" fill="url(#s2g)"/><path d="M216.00,217.20 Q251.90,182.00 294.00,160.20 Q332.00,168.50 368.00,191.00 L285.00,252.60 Z" fill="url(#mesh2)"/><circle cx="285.0" cy="252.3" r="0.9" fill="#9a2a2a"/><circle cx="367.6" cy="191.0" r="0.9" fill="#9a2a2a"/><circle cx="294.0" cy="160.5" r="0.9" fill="#9a2a2a"/><text x="215.80" y="259.80" font-size="4.30" text-anchor="end" fill="#1a1a1a" font-weight="bold" textLength="1.91" lengthAdjust="spacingAndGlyphs">5</text><text x="232.98" y="268.88" font-size="4.30" text-anchor="end" fill="#1a1a1a" font-weight="bold" textLength="1.91" lengthAdjust="spacingAndGlyphs">4</text><text x="250.15" y="277.95" font-size="4.30" text-anchor="end" fill="#1a1a1a" font-weight="bold" textLength="1.91" lengthAdjust="spacingAndGlyphs">3</text><text x="267.32" y="287.03" font-size="4.30" text-anchor="end" fill="#1a1a1a" font-weight="bold" textLength="1.91" lengthAdjust="spacingAndGlyphs">2</text><text x="284.50" y="296.10" font-size="4.30" text-anchor="end" fill="#1a1a1a" font-weight="bold" textLength="1.91" lengthAdjust="spacingAndGlyphs">1</text><text x="287.70" y="296.50" font-size="4.30" text-anchor="start" fill="#1a1a1a" font-weight="bold" textLength="8.61" lengthAdjust="spacingAndGlyphs">0.025</text><text x="303.22" y="289.84" font-size="4.30" text-anchor="start" fill="#1a1a1a" font-weight="bold" textLength="6.69" lengthAdjust="spacingAndGlyphs">0.04</text><text x="318.74" y="283.18" font-size="4.30" text-anchor="start" fill="#1a1a1a" font-weight="bold" textLength="8.61" lengthAdjust="spacingAndGlyphs">0.055</text><text x="334.26" y="276.52" font-size="4.30" text-anchor="start" fill="#1a1a1a" font-weight="bold" textLength="6.69" lengthAdjust="spacingAndGlyphs">0.07</text><text x="349.78" y="269.86" font-size="4.30" text-anchor="start" fill="#1a1a1a" font-weight="bold" textLength="8.61" lengthAdjust="spacingAndGlyphs">0.085</text><text x="365.30" y="263.20" font-size="4.30" text-anchor="start" fill="#1a1a1a" font-weight="bold" textLength="4.78" lengthAdjust="spacingAndGlyphs">0.1</text><text x="210.70" y="166.60" font-size="4.00" text-anchor="middle" fill="#222" font-weight="bold" transform="rotate(-90 210.70 166.60)">60</text><text x="211.68" y="183.11" font-size="4.00" text-anchor="middle" fill="#222" font-weight="bold" transform="rotate(-90 211.68 183.11)">40</text><text x="212.66" y="199.61" font-size="4.00" text-anchor="middle" fill="#222" font-weight="bold" transform="rotate(-90 212.66 199.61)">20</text><text x="213.64" y="216.29" font-size="4.00" text-anchor="middle" fill="#222" font-weight="bold" transform="rotate(-90 213.64 216.29)">0</text><text x="214.64" y="233.15" font-size="4.00" text-anchor="middle" fill="#222" font-weight="bold" transform="rotate(-90 214.64 233.15)">-20</text><text x="204.60" y="290.00" font-size="6.00" text-anchor="start" fill="#2a2a2a" font-weight="bold" textLength="42.50" lengthAdjust="spacingAndGlyphs">Amount of drug (mg)</text><text x="323.80" y="293.20" font-size="6.00" text-anchor="start" fill="#2a2a2a" font-weight="bold" textLength="54.60" lengthAdjust="spacingAndGlyphs">A: Chitosan Conc. (% w/v)</text><text x="201.10" y="210.00" font-size="5.80" text-anchor="middle" fill="#222" font-weight="bold" transform="rotate(-90 201.10 210.00)" textLength="47.80" lengthAdjust="spacingAndGlyphs">Zeta potential (mV)</text><path d="M399.20,168.20L482.27,151.30M482.27,151.30L559.03,170.80M400.20,184.71L482.27,166.36M482.27,166.36L557.97,187.38M401.19,201.21L482.27,181.42M482.27,181.42L556.92,203.96M402.20,217.89L482.27,196.64M482.27,196.64L555.86,220.72M403.21,234.75L482.27,212.02M482.27,212.02L554.78,237.66M419.97,163.97L422.98,229.07M440.73,159.75L442.74,223.38M461.50,155.53L462.50,217.70M501.46,156.18L500.40,218.43M520.65,161.05L518.53,224.84M539.84,165.93L536.65,231.25M399.20,168.20L404.49,256.00M482.27,151.30L482.27,231.40M559.03,170.80L553.43,259.00" stroke="#222" stroke-width="0.85" fill="none"/><polygon points="404.49,256.00 482.27,231.40 553.43,259.00 474.43,292.30" fill="#f0e812" stroke="#3a3410" stroke-width="0.7"/><path d="M444.24,276.63 L444.18,276.55 L443.73,275.68 L443.24,274.82 L442.71,273.98 L442.14,273.16 L441.51,272.36 L440.82,271.59 L440.06,270.84 L439.22,270.13 L438.31,269.44 L437.39,268.75 L436.45,268.08 L435.50,267.41 L434.51,266.75 L433.50,266.10 L432.44,265.47 L431.33,264.85 L430.16,264.26 L428.95,263.68 L427.68,263.12 L426.37,262.57 L425.03,262.04 L423.66,261.51 L422.26,261.00 L420.83,260.49 L419.40,259.98 L417.95,259.48 L416.49,258.97 L414.97,258.49 L413.36,258.04 L411.68,257.60 L409.94,257.19 L408.16,256.78 L406.34,256.39 L404.49,256.00" fill="none" stroke="#ec842a" stroke-width="0.8"/><path d="M486.99,287.01 L487.09,285.89 L487.11,284.81 L487.03,283.78 L486.88,282.79 L486.69,281.81 L486.49,280.84 L486.31,279.86 L486.18,278.87 L486.09,277.86 L486.04,276.85 L486.00,275.83 L485.97,274.81 L485.94,273.80 L485.91,272.79 L485.90,271.77 L485.89,270.76 L485.87,269.76 L485.82,268.78 L485.70,267.82 L485.55,266.88 L485.36,265.96 L485.12,265.06 L484.82,264.19 L484.45,263.35 L484.03,262.53 L483.56,261.73 L483.05,260.95 L482.51,260.18 L481.93,259.43 L481.33,258.69 L480.71,257.96 L480.06,257.24 L479.39,256.53 L478.73,255.81 L478.09,255.10 L477.41,254.39 L476.67,253.72 L475.81,253.08 L474.83,252.49 L473.82,251.91 L472.79,251.34 L471.72,250.79 L470.62,250.24 L469.46,249.72 L468.25,249.21 L467.01,248.71 L465.74,248.22 L464.44,247.74 L463.13,247.27 L461.79,246.80 L460.45,246.34 L459.10,245.87 L457.74,245.41 L456.34,244.97 L454.89,244.53 L453.41,244.11 L451.89,243.70 L450.34,243.29 L448.78,242.89 L447.19,242.49" fill="none" stroke="#94c040" stroke-width="0.8"/><path d="M524.12,271.35 L524.33,270.26 L524.46,269.20 L524.48,268.19 L524.44,267.21 L524.36,266.25 L524.27,265.30 L524.20,264.35 L524.17,263.38 L524.20,262.39 L524.25,261.40 L524.32,260.40 L524.40,259.41 L524.48,258.42 L524.55,257.43 L524.65,256.45 L524.76,255.46 L524.85,254.48 L524.90,253.52 L524.89,252.59 L524.84,251.68 L524.76,250.79 L524.63,249.92 L524.44,249.07 L524.17,248.26 L523.89,247.54" fill="none" stroke="#50a83a" stroke-width="0.8"/><path d="M399.50,185.10 L482.30,180.60 Q522.00,187.50 556.20,212.00 L472.50,220.70 Z" fill="#050505"/><circle cx="482.3" cy="180.8" r="0.9" fill="#8a2424"/><circle cx="478.0" cy="197.0" r="0.9" fill="#8a2424"/><circle cx="556.0" cy="211.8" r="0.9" fill="#8a2424"/><circle cx="472.5" cy="220.3" r="0.9" fill="#8a2424"/><text x="402.49" y="259.80" font-size="4.30" text-anchor="end" fill="#1a1a1a" font-weight="bold" textLength="1.91" lengthAdjust="spacingAndGlyphs">5</text><text x="419.98" y="268.88" font-size="4.30" text-anchor="end" fill="#1a1a1a" font-weight="bold" textLength="1.91" lengthAdjust="spacingAndGlyphs">4</text><text x="437.46" y="277.95" font-size="4.30" text-anchor="end" fill="#1a1a1a" font-weight="bold" textLength="1.91" lengthAdjust="spacingAndGlyphs">3</text><text x="454.95" y="287.03" font-size="4.30" text-anchor="end" fill="#1a1a1a" font-weight="bold" textLength="1.91" lengthAdjust="spacingAndGlyphs">2</text><text x="472.43" y="296.10" font-size="4.30" text-anchor="end" fill="#1a1a1a" font-weight="bold" textLength="1.91" lengthAdjust="spacingAndGlyphs">1</text><text x="475.63" y="296.50" font-size="4.30" text-anchor="start" fill="#1a1a1a" font-weight="bold" textLength="6.69" lengthAdjust="spacingAndGlyphs">0.02</text><text x="495.38" y="288.18" font-size="4.30" text-anchor="start" fill="#1a1a1a" font-weight="bold" textLength="6.69" lengthAdjust="spacingAndGlyphs">0.03</text><text x="515.13" y="279.85" font-size="4.30" text-anchor="start" fill="#1a1a1a" font-weight="bold" textLength="6.69" lengthAdjust="spacingAndGlyphs">0.04</text><text x="534.88" y="271.52" font-size="4.30" text-anchor="start" fill="#1a1a1a" font-weight="bold" textLength="6.69" lengthAdjust="spacingAndGlyphs">0.05</text><text x="554.63" y="263.20" font-size="4.30" text-anchor="start" fill="#1a1a1a" font-weight="bold" textLength="6.69" lengthAdjust="spacingAndGlyphs">0.06</text><text x="397.30" y="166.60" font-size="4.00" text-anchor="middle" fill="#222" font-weight="bold" transform="rotate(-90 397.30 166.60)">60</text><text x="398.30" y="183.11" font-size="4.00" text-anchor="middle" fill="#222" font-weight="bold" transform="rotate(-90 398.30 183.11)">40</text><text x="399.29" y="199.61" font-size="4.00" text-anchor="middle" fill="#222" font-weight="bold" transform="rotate(-90 399.29 199.61)">20</text><text x="400.30" y="216.29" font-size="4.00" text-anchor="middle" fill="#222" font-weight="bold" transform="rotate(-90 400.30 216.29)">0</text><text x="401.31" y="233.15" font-size="4.00" text-anchor="middle" fill="#222" font-weight="bold" transform="rotate(-90 401.31 233.15)">-20</text><text x="384.20" y="289.70" font-size="6.00" text-anchor="start" fill="#2a2a2a" font-weight="bold" textLength="50.70" lengthAdjust="spacingAndGlyphs">C: Amount of drug (mg)</text><text x="514.00" y="293.20" font-size="6.00" text-anchor="start" fill="#2a2a2a" font-weight="bold" textLength="53.70" lengthAdjust="spacingAndGlyphs">B: Dextran Conc. (% w/v)</text><text x="387.70" y="210.00" font-size="5.80" text-anchor="middle" fill="#222" font-weight="bold" transform="rotate(-90 387.70 210.00)" textLength="47.80" lengthAdjust="spacingAndGlyphs">Zeta potential (mV)</text><rect x="0.5" y="0.5" width="573" height="302" fill="none" stroke="#444" stroke-width="1"/></svg>
</body></html>
